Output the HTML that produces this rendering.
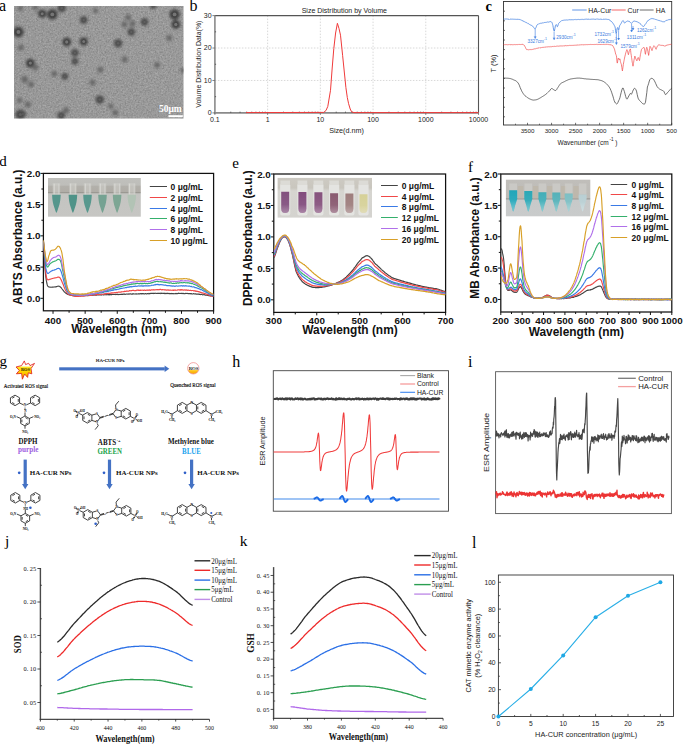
<!DOCTYPE html><html><head><meta charset="utf-8"><style>html,body{margin:0;padding:0;background:#fff;width:685px;height:744px;overflow:hidden}svg{display:block}</style></head><body>
<svg width="685" height="744" viewBox="0 0 685 744">
<rect x="0" y="0" width="685" height="744" fill="#fff" stroke="none" stroke-width="1"/>
<text x="-1" y="11" font-family='"Liberation Serif", serif' font-size="16" font-weight="normal" text-anchor="start" fill="#000">a</text>
<defs><filter id="noiseA" x="0" y="0" width="100%" height="100%" color-interpolation-filters="sRGB"><feTurbulence type="fractalNoise" baseFrequency="0.6" numOctaves="2" seed="3" result="n"/><feColorMatrix type="matrix" values="0 0 0 0 0.45  0 0 0 0 0.45  0 0 0 0 0.45  1.3 0 0 0 -0.52" result="nn"/><feGaussianBlur stdDeviation="0.35"/><feComposite in2="SourceGraphic" operator="in"/></filter><filter id="noiseB" x="0" y="0" width="100%" height="100%" color-interpolation-filters="sRGB"><feTurbulence type="fractalNoise" baseFrequency="0.6" numOctaves="2" seed="11" result="n"/><feColorMatrix type="matrix" values="0 0 0 0 0.78  0 0 0 0 0.78  0 0 0 0 0.78  1.0 0 0 0 -0.45" result="nn"/><feGaussianBlur stdDeviation="0.35"/><feComposite in2="SourceGraphic" operator="in"/></filter><filter id="pb1" x="-1" y="-1" width="3" height="3"><feGaussianBlur stdDeviation="1.4"/></filter><filter id="pb2" x="-1" y="-1" width="3" height="3"><feGaussianBlur stdDeviation="0.55"/></filter><clipPath id="clipA"><rect x="14" y="6" width="169.5" height="112.5"/></clipPath></defs>
<defs><linearGradient id="bgA" x1="0" y1="0" x2="1" y2="0"><stop offset="0" stop-color="#9a9a9a"/><stop offset="0.5" stop-color="#9b9b9b"/><stop offset="1" stop-color="#9c9c9c"/></linearGradient></defs>
<rect x="14" y="6" width="169.5" height="112.5" fill="url(#bgA)" stroke="none" stroke-width="1"/>
<g clip-path="url(#clipA)">
<rect x="14" y="6" width="169.5" height="112.5" fill="#9b9b9b" stroke="none" stroke-width="1" filter="url(#noiseA)"/>
<rect x="14" y="6" width="169.5" height="112.5" fill="#9b9b9b" stroke="none" stroke-width="1" filter="url(#noiseB)"/>
<g filter="url(#pb1)">
<circle cx="42.2" cy="13.8" r="4" fill="#3e3e3e"/>
<circle cx="52.3" cy="14.4" r="5.2" fill="#3e3e3e"/>
<circle cx="61.7" cy="8" r="4.12" fill="#4a4a4a"/>
<circle cx="83.7" cy="20.1" r="3.75" fill="#4a4a4a"/>
<circle cx="95.6" cy="10.6" r="2.62" fill="#676767"/>
<circle cx="18.4" cy="32" r="5.2" fill="#3e3e3e"/>
<circle cx="66.7" cy="42" r="4.4" fill="#3e3e3e"/>
<circle cx="83.7" cy="41.4" r="4" fill="#3e3e3e"/>
<circle cx="74.9" cy="52.7" r="3.75" fill="#4a4a4a"/>
<circle cx="20.9" cy="47.7" r="3" fill="#676767"/>
<circle cx="30.3" cy="63.1" r="4.4" fill="#3e3e3e"/>
<circle cx="35.3" cy="67.5" r="3" fill="#676767"/>
<circle cx="20.3" cy="8.1" r="2.62" fill="#676767"/>
<circle cx="35.3" cy="7.5" r="2.62" fill="#676767"/>
<circle cx="74.9" cy="61.3" r="3.38" fill="#4a4a4a"/>
<circle cx="54.2" cy="73.8" r="3" fill="#676767"/>
<circle cx="64.8" cy="76.3" r="3.38" fill="#4a4a4a"/>
<circle cx="24.7" cy="79.5" r="3.38" fill="#676767"/>
<circle cx="31" cy="84.5" r="3" fill="#676767"/>
<circle cx="92.5" cy="82.6" r="3" fill="#676767"/>
<circle cx="100.4" cy="69.8" r="3" fill="#676767"/>
<circle cx="99.8" cy="99.6" r="4.12" fill="#4a4a4a"/>
<circle cx="19.6" cy="100.2" r="2.62" fill="#676767"/>
<circle cx="27.8" cy="104.6" r="3" fill="#676767"/>
<circle cx="20.3" cy="114.5" r="4.88" fill="#4a4a4a"/>
<circle cx="66.1" cy="110.2" r="3" fill="#676767"/>
<circle cx="61.1" cy="115.5" r="3.75" fill="#4a4a4a"/>
<circle cx="128.1" cy="17.6" r="3" fill="#676767"/>
<circle cx="124.4" cy="24.5" r="3" fill="#676767"/>
<circle cx="132.5" cy="23.8" r="3" fill="#676767"/>
<circle cx="144.5" cy="22" r="3.75" fill="#4a4a4a"/>
<circle cx="131.3" cy="32" r="3.75" fill="#4a4a4a"/>
<circle cx="153.2" cy="6" r="3" fill="#4a4a4a"/>
<circle cx="174.6" cy="14.4" r="5.2" fill="#3e3e3e"/>
<circle cx="175.8" cy="24.5" r="4.4" fill="#3e3e3e"/>
<circle cx="169.3" cy="37.9" r="3" fill="#676767"/>
<circle cx="118.1" cy="43.3" r="4.12" fill="#4a4a4a"/>
<circle cx="124.6" cy="59.5" r="3" fill="#676767"/>
<circle cx="157.1" cy="65.1" r="3" fill="#676767"/>
<circle cx="110.8" cy="106.2" r="2.62" fill="#676767"/>
<circle cx="115.3" cy="112.7" r="3" fill="#676767"/>
<circle cx="183" cy="70.3" r="2.62" fill="#676767"/>
<circle cx="23" cy="114" r="3" fill="#4a4a4a"/>
</g><g filter="url(#pb2)">
<circle cx="42.2" cy="13.8" r="1.5" fill="#747474"/>
<circle cx="52.3" cy="14.4" r="1.95" fill="#747474"/>
<circle cx="61.7" cy="8" r="1.38" fill="#5e5e5e"/>
<circle cx="83.7" cy="20.1" r="1.25" fill="#5e5e5e"/>
<circle cx="18.4" cy="32" r="1.95" fill="#747474"/>
<circle cx="66.7" cy="42" r="1.65" fill="#747474"/>
<circle cx="83.7" cy="41.4" r="1.5" fill="#747474"/>
<circle cx="74.9" cy="52.7" r="1.25" fill="#5e5e5e"/>
<circle cx="30.3" cy="63.1" r="1.65" fill="#747474"/>
<circle cx="74.9" cy="61.3" r="1.12" fill="#5e5e5e"/>
<circle cx="64.8" cy="76.3" r="1.12" fill="#5e5e5e"/>
<circle cx="99.8" cy="99.6" r="1.38" fill="#5e5e5e"/>
<circle cx="20.3" cy="114.5" r="1.62" fill="#5e5e5e"/>
<circle cx="61.1" cy="115.5" r="1.25" fill="#5e5e5e"/>
<circle cx="144.5" cy="22" r="1.25" fill="#5e5e5e"/>
<circle cx="131.3" cy="32" r="1.25" fill="#5e5e5e"/>
<circle cx="153.2" cy="6" r="1" fill="#5e5e5e"/>
<circle cx="174.6" cy="14.4" r="1.95" fill="#747474"/>
<circle cx="175.8" cy="24.5" r="1.65" fill="#747474"/>
<circle cx="118.1" cy="43.3" r="1.38" fill="#5e5e5e"/>
<circle cx="23" cy="114" r="1" fill="#5e5e5e"/>
</g>
</g>
<text x="170.3" y="112" font-family='"Liberation Serif", serif' font-size="9.5" font-weight="bold" text-anchor="middle" fill="#fff">50μm</text>
<rect x="168.4" y="115.2" width="14.4" height="2" fill="#fff" stroke="none" stroke-width="1"/>
<text x="189.4" y="11.1" font-family='"Liberation Serif", serif' font-size="16" font-weight="normal" text-anchor="start" fill="#000">b</text>
<line x1="267.62" y1="15.6" x2="267.62" y2="112.9" stroke="#c8c8c8" stroke-width="0.7" stroke-dasharray="1.5 1.5"/>
<line x1="320.34" y1="15.6" x2="320.34" y2="112.9" stroke="#c8c8c8" stroke-width="0.7" stroke-dasharray="1.5 1.5"/>
<line x1="373.06" y1="15.6" x2="373.06" y2="112.9" stroke="#c8c8c8" stroke-width="0.7" stroke-dasharray="1.5 1.5"/>
<line x1="425.78" y1="15.6" x2="425.78" y2="112.9" stroke="#c8c8c8" stroke-width="0.7" stroke-dasharray="1.5 1.5"/>
<line x1="214.9" y1="80.47" x2="478.5" y2="80.47" stroke="#c8c8c8" stroke-width="0.7" stroke-dasharray="1.5 1.5"/>
<line x1="214.9" y1="48.03" x2="478.5" y2="48.03" stroke="#c8c8c8" stroke-width="0.7" stroke-dasharray="1.5 1.5"/>
<line x1="214.9" y1="15.6" x2="478.5" y2="15.6" stroke="#555" stroke-width="1.1"/>
<line x1="478.5" y1="15.6" x2="478.5" y2="112.9" stroke="#555" stroke-width="1.1"/>
<line x1="214.9" y1="15.6" x2="214.9" y2="113.5" stroke="#8a8a8a" stroke-width="1.6"/>
<line x1="214.1" y1="112.9" x2="478.5" y2="112.9" stroke="#8a8a8a" stroke-width="1.6"/>
<line x1="212.4" y1="112.9" x2="214.9" y2="112.9" stroke="#666" stroke-width="0.8"/>
<line x1="212.4" y1="80.47" x2="214.9" y2="80.47" stroke="#666" stroke-width="0.8"/>
<line x1="212.4" y1="48.03" x2="214.9" y2="48.03" stroke="#666" stroke-width="0.8"/>
<line x1="212.4" y1="15.6" x2="214.9" y2="15.6" stroke="#666" stroke-width="0.8"/>
<line x1="214.9" y1="96.68" x2="216.1" y2="96.68" stroke="#444" stroke-width="0.8"/>
<line x1="214.9" y1="64.25" x2="216.1" y2="64.25" stroke="#444" stroke-width="0.8"/>
<line x1="214.9" y1="31.82" x2="216.1" y2="31.82" stroke="#444" stroke-width="0.8"/>
<line x1="230.77" y1="111.6" x2="230.77" y2="112.9" stroke="#444" stroke-width="0.7"/>
<line x1="240.05" y1="111.6" x2="240.05" y2="112.9" stroke="#444" stroke-width="0.7"/>
<line x1="246.64" y1="111.6" x2="246.64" y2="112.9" stroke="#444" stroke-width="0.7"/>
<line x1="251.75" y1="111.6" x2="251.75" y2="112.9" stroke="#444" stroke-width="0.7"/>
<line x1="255.92" y1="111.6" x2="255.92" y2="112.9" stroke="#444" stroke-width="0.7"/>
<line x1="259.45" y1="111.6" x2="259.45" y2="112.9" stroke="#444" stroke-width="0.7"/>
<line x1="262.51" y1="111.6" x2="262.51" y2="112.9" stroke="#444" stroke-width="0.7"/>
<line x1="265.21" y1="111.6" x2="265.21" y2="112.9" stroke="#444" stroke-width="0.7"/>
<line x1="283.49" y1="111.6" x2="283.49" y2="112.9" stroke="#444" stroke-width="0.7"/>
<line x1="292.77" y1="111.6" x2="292.77" y2="112.9" stroke="#444" stroke-width="0.7"/>
<line x1="299.36" y1="111.6" x2="299.36" y2="112.9" stroke="#444" stroke-width="0.7"/>
<line x1="304.47" y1="111.6" x2="304.47" y2="112.9" stroke="#444" stroke-width="0.7"/>
<line x1="308.64" y1="111.6" x2="308.64" y2="112.9" stroke="#444" stroke-width="0.7"/>
<line x1="312.17" y1="111.6" x2="312.17" y2="112.9" stroke="#444" stroke-width="0.7"/>
<line x1="315.23" y1="111.6" x2="315.23" y2="112.9" stroke="#444" stroke-width="0.7"/>
<line x1="317.93" y1="111.6" x2="317.93" y2="112.9" stroke="#444" stroke-width="0.7"/>
<line x1="336.21" y1="111.6" x2="336.21" y2="112.9" stroke="#444" stroke-width="0.7"/>
<line x1="345.49" y1="111.6" x2="345.49" y2="112.9" stroke="#444" stroke-width="0.7"/>
<line x1="352.08" y1="111.6" x2="352.08" y2="112.9" stroke="#444" stroke-width="0.7"/>
<line x1="357.19" y1="111.6" x2="357.19" y2="112.9" stroke="#444" stroke-width="0.7"/>
<line x1="361.36" y1="111.6" x2="361.36" y2="112.9" stroke="#444" stroke-width="0.7"/>
<line x1="364.89" y1="111.6" x2="364.89" y2="112.9" stroke="#444" stroke-width="0.7"/>
<line x1="367.95" y1="111.6" x2="367.95" y2="112.9" stroke="#444" stroke-width="0.7"/>
<line x1="370.65" y1="111.6" x2="370.65" y2="112.9" stroke="#444" stroke-width="0.7"/>
<line x1="388.93" y1="111.6" x2="388.93" y2="112.9" stroke="#444" stroke-width="0.7"/>
<line x1="398.21" y1="111.6" x2="398.21" y2="112.9" stroke="#444" stroke-width="0.7"/>
<line x1="404.8" y1="111.6" x2="404.8" y2="112.9" stroke="#444" stroke-width="0.7"/>
<line x1="409.91" y1="111.6" x2="409.91" y2="112.9" stroke="#444" stroke-width="0.7"/>
<line x1="414.08" y1="111.6" x2="414.08" y2="112.9" stroke="#444" stroke-width="0.7"/>
<line x1="417.61" y1="111.6" x2="417.61" y2="112.9" stroke="#444" stroke-width="0.7"/>
<line x1="420.67" y1="111.6" x2="420.67" y2="112.9" stroke="#444" stroke-width="0.7"/>
<line x1="423.37" y1="111.6" x2="423.37" y2="112.9" stroke="#444" stroke-width="0.7"/>
<line x1="441.65" y1="111.6" x2="441.65" y2="112.9" stroke="#444" stroke-width="0.7"/>
<line x1="450.93" y1="111.6" x2="450.93" y2="112.9" stroke="#444" stroke-width="0.7"/>
<line x1="457.52" y1="111.6" x2="457.52" y2="112.9" stroke="#444" stroke-width="0.7"/>
<line x1="462.63" y1="111.6" x2="462.63" y2="112.9" stroke="#444" stroke-width="0.7"/>
<line x1="466.8" y1="111.6" x2="466.8" y2="112.9" stroke="#444" stroke-width="0.7"/>
<line x1="470.33" y1="111.6" x2="470.33" y2="112.9" stroke="#444" stroke-width="0.7"/>
<line x1="473.39" y1="111.6" x2="473.39" y2="112.9" stroke="#444" stroke-width="0.7"/>
<line x1="476.09" y1="111.6" x2="476.09" y2="112.9" stroke="#444" stroke-width="0.7"/>
<line x1="214.9" y1="112.9" x2="214.9" y2="114.9" stroke="#666" stroke-width="0.8"/>
<line x1="267.62" y1="112.9" x2="267.62" y2="114.9" stroke="#666" stroke-width="0.8"/>
<line x1="320.34" y1="112.9" x2="320.34" y2="114.9" stroke="#666" stroke-width="0.8"/>
<line x1="373.06" y1="112.9" x2="373.06" y2="114.9" stroke="#666" stroke-width="0.8"/>
<line x1="425.78" y1="112.9" x2="425.78" y2="114.9" stroke="#666" stroke-width="0.8"/>
<line x1="478.5" y1="112.9" x2="478.5" y2="114.9" stroke="#666" stroke-width="0.8"/>
<text x="211.6" y="115.3" font-family='"Liberation Sans", sans-serif' font-size="7" font-weight="normal" text-anchor="end" fill="#222">0</text>
<text x="211.6" y="82.87" font-family='"Liberation Sans", sans-serif' font-size="7" font-weight="normal" text-anchor="end" fill="#222">10</text>
<text x="211.6" y="50.43" font-family='"Liberation Sans", sans-serif' font-size="7" font-weight="normal" text-anchor="end" fill="#222">20</text>
<text x="211.6" y="18" font-family='"Liberation Sans", sans-serif' font-size="7" font-weight="normal" text-anchor="end" fill="#222">30</text>
<text x="214.9" y="122.3" font-family='"Liberation Sans", sans-serif' font-size="7" font-weight="normal" text-anchor="middle" fill="#222">0.1</text>
<text x="267.62" y="122.3" font-family='"Liberation Sans", sans-serif' font-size="7" font-weight="normal" text-anchor="middle" fill="#222">1</text>
<text x="320.34" y="122.3" font-family='"Liberation Sans", sans-serif' font-size="7" font-weight="normal" text-anchor="middle" fill="#222">10</text>
<text x="373.06" y="122.3" font-family='"Liberation Sans", sans-serif' font-size="7" font-weight="normal" text-anchor="middle" fill="#222">100</text>
<text x="425.78" y="122.3" font-family='"Liberation Sans", sans-serif' font-size="7" font-weight="normal" text-anchor="middle" fill="#222">1000</text>
<text x="478.5" y="122.3" font-family='"Liberation Sans", sans-serif' font-size="7" font-weight="normal" text-anchor="middle" fill="#222">10000</text>
<text x="346.5" y="133" font-family='"Liberation Sans", sans-serif' font-size="7.2" font-weight="normal" text-anchor="middle" fill="#222">Size(d.nm)</text>
<text x="344.3" y="13" font-family='"Liberation Sans", sans-serif' font-size="7" font-weight="normal" text-anchor="middle" fill="#222">Size Distribution by Volume</text>
<text x="200.8" y="64.2" font-family='"Liberation Sans", sans-serif' font-size="6.95" font-weight="normal" text-anchor="middle" fill="#222" transform="rotate(-90 200.8 64.2)">Volume Distribution Data(%)</text>
<path d="M246,112.6 323.7,112.4 326,110.5 327.8,106.4 330.5,90.3 332.2,68 333.8,48.6 335.6,33 337.4,23.3 339,28.5 340.5,35.2 342.6,55.3 344.3,72 345.9,87.6 347.3,97.5 348.6,103.7 350.2,109 351.6,111.8 354,112.6 478.5,112.6" stroke="#f03a3a" stroke-width="1" fill="none" stroke-linejoin="round"/>
<text x="485.6" y="11" font-family='"Liberation Serif", serif' font-size="14.5" font-weight="bold" text-anchor="start" fill="#000">c</text>
<rect x="503.5" y="1.5" width="168.2" height="123.5" fill="none" stroke="#333" stroke-width="0.9"/>
<line x1="503.5" y1="11.2" x2="505" y2="11.2" stroke="#333" stroke-width="0.7"/>
<line x1="503.5" y1="20.8" x2="505" y2="20.8" stroke="#333" stroke-width="0.7"/>
<line x1="503.5" y1="30.4" x2="505" y2="30.4" stroke="#333" stroke-width="0.7"/>
<line x1="503.5" y1="40" x2="505" y2="40" stroke="#333" stroke-width="0.7"/>
<line x1="503.5" y1="49.6" x2="505" y2="49.6" stroke="#333" stroke-width="0.7"/>
<line x1="503.5" y1="59.2" x2="505" y2="59.2" stroke="#333" stroke-width="0.7"/>
<line x1="503.5" y1="68.8" x2="505" y2="68.8" stroke="#333" stroke-width="0.7"/>
<line x1="503.5" y1="78.4" x2="505" y2="78.4" stroke="#333" stroke-width="0.7"/>
<line x1="503.5" y1="88" x2="505" y2="88" stroke="#333" stroke-width="0.7"/>
<line x1="503.5" y1="97.6" x2="505" y2="97.6" stroke="#333" stroke-width="0.7"/>
<line x1="503.5" y1="107.2" x2="505" y2="107.2" stroke="#333" stroke-width="0.7"/>
<line x1="503.5" y1="116.8" x2="505" y2="116.8" stroke="#333" stroke-width="0.7"/>
<line x1="515.51" y1="125" x2="515.51" y2="123.7" stroke="#333" stroke-width="0.7"/>
<line x1="527.53" y1="125" x2="527.53" y2="122.8" stroke="#333" stroke-width="0.7"/>
<line x1="539.54" y1="125" x2="539.54" y2="123.7" stroke="#333" stroke-width="0.7"/>
<line x1="551.56" y1="125" x2="551.56" y2="122.8" stroke="#333" stroke-width="0.7"/>
<line x1="563.57" y1="125" x2="563.57" y2="123.7" stroke="#333" stroke-width="0.7"/>
<line x1="575.59" y1="125" x2="575.59" y2="122.8" stroke="#333" stroke-width="0.7"/>
<line x1="587.6" y1="125" x2="587.6" y2="123.7" stroke="#333" stroke-width="0.7"/>
<line x1="599.61" y1="125" x2="599.61" y2="122.8" stroke="#333" stroke-width="0.7"/>
<line x1="611.63" y1="125" x2="611.63" y2="123.7" stroke="#333" stroke-width="0.7"/>
<line x1="623.64" y1="125" x2="623.64" y2="122.8" stroke="#333" stroke-width="0.7"/>
<line x1="635.66" y1="125" x2="635.66" y2="123.7" stroke="#333" stroke-width="0.7"/>
<line x1="647.67" y1="125" x2="647.67" y2="122.8" stroke="#333" stroke-width="0.7"/>
<line x1="659.69" y1="125" x2="659.69" y2="123.7" stroke="#333" stroke-width="0.7"/>
<line x1="671.7" y1="125" x2="671.7" y2="122.8" stroke="#333" stroke-width="0.7"/>
<text x="527.53" y="133.2" font-family='"Liberation Sans", sans-serif' font-size="6.2" font-weight="normal" text-anchor="middle" fill="#222">3500</text>
<text x="551.56" y="133.2" font-family='"Liberation Sans", sans-serif' font-size="6.2" font-weight="normal" text-anchor="middle" fill="#222">3000</text>
<text x="575.59" y="133.2" font-family='"Liberation Sans", sans-serif' font-size="6.2" font-weight="normal" text-anchor="middle" fill="#222">2500</text>
<text x="599.61" y="133.2" font-family='"Liberation Sans", sans-serif' font-size="6.2" font-weight="normal" text-anchor="middle" fill="#222">2000</text>
<text x="623.64" y="133.2" font-family='"Liberation Sans", sans-serif' font-size="6.2" font-weight="normal" text-anchor="middle" fill="#222">1500</text>
<text x="647.67" y="133.2" font-family='"Liberation Sans", sans-serif' font-size="6.2" font-weight="normal" text-anchor="middle" fill="#222">1000</text>
<text x="671.7" y="133.2" font-family='"Liberation Sans", sans-serif' font-size="6.2" font-weight="normal" text-anchor="middle" fill="#222">500</text>
<text x="557.6" y="144.6" font-family='"Liberation Sans", sans-serif' font-size="6.5" font-weight="normal" text-anchor="start" fill="#222">Wavenumber (cm</text>
<text x="609.4" y="141.2" font-family='"Liberation Sans", sans-serif' font-size="4.7" font-weight="normal" text-anchor="start" fill="#222">-1</text>
<text x="615.2" y="144.6" font-family='"Liberation Sans", sans-serif' font-size="6.5" font-weight="normal" text-anchor="start" fill="#222">)</text>
<text x="496" y="63.5" font-family='"Liberation Sans", sans-serif' font-size="7.4" font-weight="normal" text-anchor="middle" fill="#222" transform="rotate(-90 496 63.5)">T (%)</text>
<line x1="572.2" y1="10" x2="586.7" y2="10" stroke="#3a7be0" stroke-width="0.8"/>
<text x="588.3" y="12.5" font-family='"Liberation Sans", sans-serif' font-size="6.9" font-weight="normal" text-anchor="start" fill="#222">HA-Cur</text>
<line x1="611.6" y1="10" x2="625.7" y2="10" stroke="#f04040" stroke-width="0.8"/>
<text x="627.6" y="12.5" font-family='"Liberation Sans", sans-serif' font-size="6.9" font-weight="normal" text-anchor="start" fill="#222">Cur</text>
<line x1="639.7" y1="10" x2="653.6" y2="10" stroke="#444" stroke-width="0.8"/>
<text x="655.7" y="12.5" font-family='"Liberation Sans", sans-serif' font-size="6.9" font-weight="normal" text-anchor="start" fill="#222">HA</text>
<path d="M503.5,78.1 504.1,78.1 504.8,78.1 505.4,78.1 506.1,78.1 506.7,78.2 507.3,78.2 508,78.2 508.6,78.3 509.3,78.4 509.9,78.5 510.5,78.6 511.2,78.8 511.8,79.1 512.5,79.3 513.1,79.6 513.7,79.9 514.4,80.2 515,80.5 515.7,80.7 516.3,81.2 516.9,81.7 517.6,82.3 518.2,83.1 518.8,84.2 519.5,85.7 520.1,87.4 520.8,89 521.4,90.3 522,91.6 522.7,92.7 523.3,93.7 524,94.6 524.6,95.3 525.2,95.9 525.9,96.4 526.5,97 527.2,97.4 527.8,97.8 528.4,98.2 529.1,98.6 529.7,98.9 530.4,99.2 531,99.5 531.6,99.7 532.3,99.9 532.9,100 533.6,100.1 534.2,100 534.8,100 535.5,99.9 536.1,99.8 536.8,99.6 537.4,99.4 538,99 538.7,98.8 539.3,98.4 540,98.1 540.6,97.7 541.2,97.3 541.9,96.9 542.5,96.5 543.2,96.1 543.8,95.7 544.4,95.3 545.1,94.9 545.7,94.4 546.3,93.9 547,93.3 547.6,92.7 548.3,92.1 548.9,91.5 549.5,90.9 550.2,90 550.8,89.1 551.5,88.5 552.1,88.5 552.7,89 553.4,89.5 554,89.9 554.7,90.3 555.3,90.5 555.9,90.4 556.6,89.7 557.2,88.5 557.9,87.5 558.5,86.6 559.1,85.6 559.8,84.6 560.4,83.8 561.1,83.3 561.7,82.9 562.3,82.6 563,82.3 563.6,82 564.3,81.7 564.9,81.4 565.5,81 566.2,80.7 566.8,80.4 567.5,80.1 568.1,79.8 568.7,79.6 569.4,79.4 570,79.2 570.7,79 571.3,78.9 571.9,78.8 572.6,78.7 573.2,78.6 573.8,78.5 574.5,78.4 575.1,78.3 575.8,78.3 576.4,78.2 577,78.1 577.7,78.1 578.3,78.1 579,78.1 579.6,78.1 580.2,78.2 580.9,78.3 581.5,78.3 582.2,78.4 582.8,78.5 583.4,78.6 584.1,78.7 584.7,78.8 585.4,78.8 586,78.9 586.6,79 587.3,79 587.9,79.1 588.6,79.1 589.2,79.2 589.8,79.2 590.5,79.3 591.1,79.3 591.8,79.4 592.4,79.4 593,79.5 593.7,79.5 594.3,79.5 595,79.5 595.6,79.6 596.2,79.6 596.9,79.7 597.5,79.7 598.2,79.8 598.8,79.9 599.4,80.1 600.1,80.3 600.7,80.4 601.4,80.6 602,80.8 602.6,81.1 603.3,81.4 603.9,81.8 604.5,82.2 605.2,82.7 605.8,83.2 606.5,83.8 607.1,84.4 607.7,85.1 608.4,85.9 609,86.8 609.7,87.8 610.3,88.9 610.9,90.4 611.6,92.2 612.2,94.1 612.9,96.1 613.5,98.3 614.1,100.4 614.8,102 615.4,103 616.1,103.6 616.7,104 617.3,103.6 618,102.3 618.6,100.8 619.3,99.5 619.9,97.8 620.5,95.2 621.2,92.4 621.8,90.1 622.5,88.2 623.1,88 623.7,89.6 624.4,91.6 625,93.9 625.7,96.5 626.3,98.4 626.9,99.2 627.6,98.5 628.2,97.1 628.9,95.9 629.5,94.6 630.1,93.6 630.8,93.7 631.4,94.3 632,93.1 632.7,91.3 633.3,89.9 634,88.8 634.6,88.2 635.2,88.6 635.9,89.7 636.5,91.1 637.2,94.4 637.8,97.1 638.4,98.9 639.1,99.9 639.7,100.6 640.4,101.3 641,102 641.6,102.6 642.3,103.3 642.9,103.8 643.6,104 644.2,104.2 644.8,103.8 645.5,102.2 646.1,97.8 646.8,92.5 647.4,87 648,85.4 648.7,83.3 649.3,81 650,79.4 650.6,78.7 651.2,78.4 651.9,78.4 652.5,78.6 653.2,79 653.8,79.7 654.4,80.8 655.1,82.1 655.7,83.5 656.4,85 657,86.4 657.6,87.3 658.3,88 658.9,88.5 659.5,89 660.2,89.4 660.8,89.7 661.5,90 662.1,90.3 662.7,90.6 663.4,90.9 664,91.6 664.7,93.3 665.3,94.5 665.9,94.5 666.6,93.9 667.2,92.9 667.9,92.2 668.5,91.5 669.1,90.8 669.8,90 670.4,89.3 671.1,88.6 671.7,88.2" stroke="#333" stroke-width="0.7" fill="none" stroke-linejoin="round"/>
<path d="M503.5,19 503.8,19 504.1,19.1 504.3,19 504.6,19.1 504.9,19.1 505.2,19 505.5,19.1 505.7,19 506,19.1 506.3,19 506.6,19 506.9,19.1 507.2,19.2 507.4,19 507.7,19.1 508,19.2 508.3,19.3 508.6,19.2 508.8,19.1 509.1,19.3 509.4,19 509.7,19.3 510,19.1 510.2,19.1 510.5,19.1 510.8,19.2 511.1,19.3 511.4,19.1 511.6,19.2 511.9,19.3 512.2,19.2 512.5,19.2 512.8,19.1 513,19.1 513.3,19.1 513.6,19.3 513.9,19.2 514.2,19.2 514.5,19.3 514.7,19.2 515,19.2 515.3,19.3 515.6,19.3 515.9,19.2 516.1,19.3 516.4,19.3 516.7,19.4 517,19.4 517.3,19.2 517.5,19.5 517.8,19.2 518.1,19.3 518.4,19.4 518.7,19.3 518.9,19.4 519.2,19.3 519.5,19.5 519.8,19.6 520.1,19.6 520.3,19.8 520.6,19.8 520.9,20 521.2,20.1 521.5,20.2 521.8,20.3 522,20.6 522.3,20.7 522.6,20.7 522.9,20.9 523.2,20.9 523.4,21.3 523.7,21.4 524,21.6 524.3,21.7 524.6,21.7 524.8,21.9 525.1,22.1 525.4,22 525.7,22.3 526,22.3 526.2,22.5 526.5,22.6 526.8,23 527.1,22.9 527.4,23.1 527.6,23.3 527.9,23.6 528.2,23.5 528.5,23.7 528.8,23.9 529.1,24.1 529.3,24.3 529.6,24.5 529.9,24.5 530.2,24.7 530.5,24.9 530.7,25.2 531,25.4 531.3,25.3 531.6,25.5 531.9,25.7 532.1,25.9 532.4,26.1 532.7,26.3 533,26.4 533.3,26.7 533.5,27.2 533.8,27.6 534.1,28.1 534.4,28.5 534.7,28.7 534.9,28.8 535.2,28.8 535.5,28.5 535.8,27.8 536.1,27.3 536.4,26.5 536.6,25.8 536.9,25.2 537.2,24.8 537.5,24.6 537.8,24.3 538,24.3 538.3,24 538.6,23.9 538.9,23.8 539.2,23.7 539.4,23.7 539.7,23.5 540,23.3 540.3,23.3 540.6,23.2 540.8,23.3 541.1,23.1 541.4,23.3 541.7,23.1 542,22.9 542.3,22.9 542.5,22.9 542.8,22.8 543.1,22.7 543.4,22.9 543.7,22.9 543.9,22.7 544.2,22.6 544.5,22.5 544.8,22.4 545.1,22.4 545.3,22.4 545.6,22.5 545.9,22.2 546.2,22.1 546.5,22.4 546.7,22.2 547,22 547.3,22.1 547.6,21.9 547.9,22 548.1,22.1 548.4,22.1 548.7,22 549,21.8 549.3,21.8 549.6,21.7 549.8,21.8 550.1,21.6 550.4,21.7 550.7,21.5 551,21.5 551.2,21.8 551.5,22 551.8,22.3 552.1,22.9 552.4,23.6 552.6,24.5 552.9,25.4 553.2,27.2 553.5,29 553.8,30.4 554,31.3 554.3,31.1 554.6,30 554.9,28.5 555.2,27 555.4,25.8 555.7,25.1 556,24.7 556.3,24.6 556.6,24.9 556.9,25.7 557.1,26.5 557.4,26.7 557.7,26.2 558,25.4 558.3,24.4 558.5,23.6 558.8,23.2 559.1,23 559.4,22.7 559.7,22.2 559.9,22.1 560.2,21.9 560.5,21.6 560.8,21.4 561.1,21.1 561.3,20.8 561.6,20.8 561.9,20.5 562.2,20.5 562.5,20.5 562.7,20.3 563,20.2 563.3,20.3 563.6,20.2 563.9,20 564.2,20 564.4,20 564.7,20.2 565,20.2 565.3,20 565.6,20.1 565.8,20.2 566.1,20 566.4,19.9 566.7,20 567,19.8 567.2,19.8 567.5,20.1 567.8,20 568.1,19.9 568.4,20 568.6,19.8 568.9,20 569.2,19.9 569.5,19.7 569.8,19.7 570,19.7 570.3,19.7 570.6,19.8 570.9,19.7 571.2,19.7 571.5,19.6 571.7,19.9 572,19.7 572.3,19.7 572.6,19.7 572.9,19.8 573.1,19.7 573.4,19.8 573.7,19.7 574,19.7 574.3,19.6 574.5,19.5 574.8,19.6 575.1,19.5 575.4,19.4 575.7,19.7 575.9,19.5 576.2,19.6 576.5,19.6 576.8,19.6 577.1,19.5 577.4,19.5 577.6,19.5 577.9,19.6 578.2,19.4 578.5,19.5 578.8,19.4 579,19.4 579.3,19.6 579.6,19.5 579.9,19.5 580.2,19.5 580.4,19.6 580.7,19.4 581,19.5 581.3,19.4 581.6,19.4 581.8,19.5 582.1,19.4 582.4,19.4 582.7,19.4 583,19.5 583.2,19.4 583.5,19.5 583.8,19.5 584.1,19.3 584.4,19.3 584.7,19.4 584.9,19.4 585.2,19.2 585.5,19.2 585.8,19.3 586.1,19.1 586.3,19.2 586.6,19.1 586.9,19.3 587.2,19.3 587.5,19.4 587.7,19.1 588,19.3 588.3,19.3 588.6,19.1 588.9,19.3 589.1,19.4 589.4,19.1 589.7,19.3 590,19.2 590.3,19.2 590.5,19.3 590.8,19.3 591.1,19.1 591.4,19.2 591.7,19.2 592,19.1 592.2,19.1 592.5,19.1 592.8,19.2 593.1,19 593.4,19.2 593.6,19.1 593.9,19 594.2,19.1 594.5,19.2 594.8,19.2 595,19 595.3,19.3 595.6,19.2 595.9,19.3 596.2,19 596.4,19.1 596.7,19 597,19.2 597.3,19.1 597.6,19.1 597.8,19.1 598.1,19.3 598.4,19.3 598.7,19.1 599,19.1 599.3,19.3 599.5,19.2 599.8,19.3 600.1,19.1 600.4,19.1 600.7,19.3 600.9,19.2 601.2,19.1 601.5,19.4 601.8,19.3 602.1,19.3 602.3,19.1 602.6,19.4 602.9,19.1 603.2,19.4 603.5,19.2 603.7,19.2 604,19.3 604.3,19.4 604.6,19.2 604.9,19.2 605.2,19.3 605.4,19.2 605.7,19.2 606,19.3 606.3,19.2 606.6,19.3 606.8,19.4 607.1,19.4 607.4,19.5 607.7,19.4 608,19.5 608.2,19.5 608.5,19.5 608.8,19.5 609.1,19.7 609.4,19.8 609.6,20.2 609.9,20.3 610.2,20.4 610.5,20.7 610.8,21.1 611,21 611.3,21.5 611.6,21.6 611.9,21.9 612.2,22.4 612.5,22.6 612.7,23 613,23.4 613.3,23.9 613.6,24.1 613.9,24.7 614.1,25.1 614.4,25.6 614.7,26.1 615,26.9 615.3,28.3 615.5,30.3 615.8,32.2 616.1,33.7 616.4,33.4 616.7,31.3 616.9,29.1 617.2,28.3 617.5,27.7 617.8,27.5 618.1,28.4 618.3,29.9 618.6,30.4 618.9,29.4 619.2,27.6 619.5,26.1 619.8,25.4 620,25.1 620.3,24.7 620.6,24.2 620.9,23.6 621.2,23.4 621.4,22.8 621.7,22.3 622,21.7 622.3,21.3 622.6,21 622.8,20.7 623.1,20.5 623.4,20.9 623.7,21.4 624,22.3 624.2,22.8 624.5,23.1 624.8,22.9 625.1,22.6 625.4,22.4 625.6,22 625.9,21.9 626.2,21.7 626.5,21.6 626.8,21.4 627.1,21.3 627.3,21.2 627.6,21 627.9,20.9 628.2,21.2 628.5,21 628.7,21.3 629,21.4 629.3,21.4 629.6,21.8 629.9,22 630.1,22.2 630.4,22.5 630.7,22.8 631,22.9 631.3,23.2 631.5,23.3 631.8,23.3 632.1,22.9 632.4,22.4 632.7,21.9 632.9,21.7 633.2,21.4 633.5,21.3 633.8,21.1 634.1,21 634.4,21.1 634.6,21.1 634.9,21.1 635.2,21.3 635.5,21.3 635.8,21.4 636,21.4 636.3,21.5 636.6,21.6 636.9,21.5 637.2,21.9 637.4,22 637.7,22.1 638,22.2 638.3,22.4 638.6,22.4 638.8,22.8 639.1,22.8 639.4,23 639.7,23.2 640,23.5 640.3,23.6 640.5,24.1 640.8,24.5 641.1,24.6 641.4,24.9 641.7,25.2 641.9,25.5 642.2,25.8 642.5,26.1 642.8,26.3 643.1,26.4 643.3,26.4 643.6,26.4 643.9,26.3 644.2,25.9 644.5,25.6 644.7,25 645,24.6 645.3,24.2 645.6,23.9 645.9,23.6 646.1,23.2 646.4,22.6 646.7,22.3 647,21.8 647.3,21.4 647.6,20.9 647.8,20.8 648.1,20.3 648.4,20.4 648.7,20.2 649,19.7 649.2,19.7 649.5,19.6 649.8,19.5 650.1,19.2 650.4,19 650.6,18.9 650.9,19 651.2,18.7 651.5,18.7 651.8,18.5 652,18.6 652.3,18.7 652.6,18.5 652.9,18.7 653.2,18.7 653.4,18.9 653.7,18.9 654,18.8 654.3,19.1 654.6,19.1 654.9,19.1 655.1,19.2 655.4,19.4 655.7,19.5 656,19.5 656.3,19.6 656.5,19.7 656.8,19.8 657.1,20 657.4,19.9 657.7,20.2 657.9,20.3 658.2,20.2 658.5,20.5 658.8,20.5 659.1,20.6 659.3,20.5 659.6,20.7 659.9,20.7 660.2,21 660.5,21 660.7,21 661,21.1 661.3,21.2 661.6,21.2 661.9,21.3 662.2,21.6 662.4,21.6 662.7,21.8 663,21.7 663.3,21.7 663.6,21.8 663.8,21.7 664.1,21.7 664.4,21.7 664.7,21.6 665,21.3 665.2,21.1 665.5,20.9 665.8,20.8 666.1,20.5 666.4,20.5 666.6,20.2 666.9,20.3 667.2,20.2 667.5,20.2 667.8,20.1 668,19.9 668.3,19.8 668.6,20 668.9,19.6 669.2,19.7 669.5,19.6 669.7,19.5 670,19.6 670.3,19.6 670.6,19.3 670.9,19.4 671.1,19.2 671.4,19.3 671.7,19.2" stroke="#3a7be0" stroke-width="0.75" fill="none" stroke-linejoin="round"/>
<path d="M503.5,44.6 503.7,44.6 504,44.6 504.2,44.8 504.5,44.7 504.7,44.6 504.9,44.8 505.2,44.8 505.4,44.7 505.7,44.6 505.9,44.6 506.1,44.6 506.4,44.6 506.6,44.6 506.9,44.6 507.1,44.6 507.4,44.7 507.6,44.8 507.8,44.7 508.1,44.6 508.3,44.6 508.6,44.7 508.8,44.6 509,44.6 509.3,44.5 509.5,44.6 509.8,44.8 510,44.6 510.2,44.6 510.5,44.7 510.7,44.7 511,44.6 511.2,44.6 511.4,44.6 511.7,44.6 511.9,44.6 512.2,44.7 512.4,44.7 512.6,44.7 512.9,44.5 513.1,44.5 513.4,44.7 513.6,44.7 513.8,44.6 514.1,44.6 514.3,44.5 514.6,44.6 514.8,44.7 515.1,44.7 515.3,44.7 515.5,44.7 515.8,44.5 516,44.5 516.3,44.5 516.5,44.6 516.7,44.6 517,44.7 517.2,44.6 517.5,44.6 517.7,44.6 517.9,44.5 518.2,44.5 518.4,44.4 518.7,44.6 518.9,44.4 519.1,44.6 519.4,44.5 519.6,44.4 519.9,44.4 520.1,44.4 520.3,44.5 520.6,44.5 520.8,44.4 521.1,44.3 521.3,44.4 521.5,44.5 521.8,44.4 522,44.4 522.3,44.4 522.5,44.3 522.8,44.4 523,44.4 523.2,44.7 523.5,44.8 523.7,45 524,45.1 524.2,45.2 524.4,45.4 524.7,46 524.9,46.5 525.2,46.9 525.4,47.3 525.6,48 525.9,48.5 526.1,49 526.4,49.4 526.6,49.5 526.8,49.6 527.1,49.5 527.3,49.5 527.6,49.7 527.8,49.7 528,49.8 528.3,49.7 528.5,49.8 528.8,49.8 529,49.7 529.2,49.6 529.5,49.8 529.7,49.6 530,49.7 530.2,49.6 530.5,49.5 530.7,49.7 530.9,49.5 531.2,49.7 531.4,49.5 531.7,49.5 531.9,49.4 532.1,49.4 532.4,49.4 532.6,49.5 532.9,49.2 533.1,49.2 533.3,49.1 533.6,49.2 533.8,49 534.1,48.9 534.3,48.8 534.5,48.9 534.8,48.9 535,48.9 535.3,48.8 535.5,48.8 535.7,48.7 536,48.5 536.2,48.4 536.5,48.5 536.7,48.4 536.9,48.2 537.2,48.3 537.4,48.2 537.7,48.2 537.9,48.1 538.2,48 538.4,48 538.6,48 538.9,48 539.1,48.1 539.4,47.8 539.6,48 539.8,47.8 540.1,47.8 540.3,47.8 540.6,47.8 540.8,47.7 541,47.5 541.3,47.6 541.5,47.5 541.8,47.6 542,47.4 542.2,47.4 542.5,47.5 542.7,47.3 543,47.4 543.2,47.4 543.4,47.4 543.7,47.2 543.9,47.2 544.2,47.1 544.4,47.3 544.6,47.1 544.9,47.2 545.1,47.2 545.4,47.1 545.6,47 545.9,47.2 546.1,47.1 546.3,46.9 546.6,47 546.8,46.9 547.1,46.9 547.3,46.8 547.5,46.9 547.8,46.9 548,46.8 548.3,46.9 548.5,46.7 548.7,46.7 549,46.7 549.2,46.8 549.5,46.8 549.7,46.7 549.9,46.6 550.2,46.7 550.4,46.7 550.7,46.7 550.9,46.5 551.1,46.7 551.4,46.7 551.6,46.7 551.9,46.6 552.1,46.6 552.3,46.5 552.6,46.5 552.8,46.5 553.1,46.6 553.3,46.4 553.6,46.4 553.8,46.5 554,46.4 554.3,46.3 554.5,46.3 554.8,46.4 555,46.3 555.2,46.5 555.5,46.4 555.7,46.4 556,46.2 556.2,46.2 556.4,46.2 556.7,46.2 556.9,46.3 557.2,46.2 557.4,46.1 557.6,46.1 557.9,46.2 558.1,46.2 558.4,46.2 558.6,46.2 558.8,46.1 559.1,46 559.3,46.1 559.6,46 559.8,46 560,46 560.3,46 560.5,45.9 560.8,45.9 561,45.9 561.3,45.9 561.5,46 561.7,45.9 562,45.9 562.2,45.9 562.5,46 562.7,45.9 562.9,45.8 563.2,45.9 563.4,45.9 563.7,45.9 563.9,45.7 564.1,45.8 564.4,45.9 564.6,45.9 564.9,45.9 565.1,45.6 565.3,45.7 565.6,45.6 565.8,45.6 566.1,45.8 566.3,45.7 566.5,45.8 566.8,45.6 567,45.7 567.3,45.6 567.5,45.6 567.7,45.7 568,45.7 568.2,45.5 568.5,45.6 568.7,45.6 569,45.5 569.2,45.5 569.4,45.4 569.7,45.4 569.9,45.4 570.2,45.5 570.4,45.5 570.6,45.4 570.9,45.3 571.1,45.4 571.4,45.5 571.6,45.3 571.8,45.3 572.1,45.3 572.3,45.4 572.6,45.4 572.8,45.2 573,45.2 573.3,45.3 573.5,45.3 573.8,45.3 574,45.2 574.2,45.2 574.5,45.3 574.7,45.2 575,45.1 575.2,45.1 575.4,45.3 575.7,45.1 575.9,45.2 576.2,45.1 576.4,45.1 576.7,45.2 576.9,45.2 577.1,45 577.4,45 577.6,45.1 577.9,45 578.1,44.9 578.3,45.1 578.6,45 578.8,45 579.1,44.9 579.3,45 579.5,44.9 579.8,44.8 580,44.8 580.3,44.9 580.5,44.9 580.7,45 581,44.7 581.2,44.9 581.5,44.8 581.7,44.8 581.9,44.7 582.2,44.7 582.4,44.8 582.7,44.8 582.9,44.6 583.1,44.7 583.4,44.8 583.6,44.8 583.9,44.6 584.1,44.6 584.4,44.7 584.6,44.7 584.8,44.6 585.1,44.5 585.3,44.7 585.6,44.6 585.8,44.7 586,44.6 586.3,44.7 586.5,44.5 586.8,44.6 587,44.5 587.2,44.5 587.5,44.7 587.7,44.6 588,44.5 588.2,44.5 588.4,44.5 588.7,44.6 588.9,44.5 589.2,44.5 589.4,44.5 589.6,44.6 589.9,44.6 590.1,44.4 590.4,44.5 590.6,44.6 590.8,44.4 591.1,44.6 591.3,44.4 591.6,44.5 591.8,44.5 592.1,44.5 592.3,44.5 592.5,44.5 592.8,44.5 593,44.5 593.3,44.5 593.5,44.5 593.7,44.5 594,44.4 594.2,44.5 594.5,44.5 594.7,44.4 594.9,44.5 595.2,44.5 595.4,44.5 595.7,44.4 595.9,44.4 596.1,44.4 596.4,44.4 596.6,44.4 596.9,44.3 597.1,44.4 597.3,44.4 597.6,44.3 597.8,44.5 598.1,44.3 598.3,44.5 598.5,44.5 598.8,44.4 599,44.3 599.3,44.4 599.5,44.4 599.8,44.5 600,44.3 600.2,44.5 600.5,44.5 600.7,44.5 601,44.5 601.2,44.3 601.4,44.5 601.7,44.4 601.9,44.5 602.2,44.5 602.4,44.3 602.6,44.5 602.9,44.5 603.1,44.3 603.4,44.4 603.6,44.5 603.8,44.3 604.1,44.5 604.3,44.3 604.6,44.5 604.8,44.3 605,44.4 605.3,44.5 605.5,44.3 605.8,44.3 606,44.4 606.2,44.4 606.5,44.3 606.7,44.3 607,44.3 607.2,44.5 607.5,44.4 607.7,44.5 607.9,44.3 608.2,44.5 608.4,44.4 608.7,44.5 608.9,44.5 609.1,44.5 609.4,44.7 609.6,44.6 609.9,44.6 610.1,44.7 610.3,44.6 610.6,44.8 610.8,44.8 611.1,44.7 611.3,44.9 611.5,44.9 611.8,45.3 612,45.3 612.3,45.4 612.5,45.7 612.7,45.8 613,45.9 613.2,46.5 613.5,46.8 613.7,47.5 613.9,47.8 614.2,48.4 614.4,49 614.7,49.8 614.9,50.9 615.2,51.9 615.4,52.9 615.6,54 615.9,54.5 616.1,55.2 616.4,55.7 616.6,57.1 616.8,59.9 617.1,62.4 617.3,63.1 617.6,61.8 617.8,60.3 618,58.8 618.3,58.1 618.5,58.5 618.8,59 619,59.5 619.2,59.8 619.5,59.4 619.7,58.8 620,58.9 620.2,60.2 620.4,61.5 620.7,62.6 620.9,63.2 621.2,63.9 621.4,64.6 621.6,66 621.9,67.7 622.1,69.3 622.4,70.9 622.6,69.5 622.9,67.8 623.1,66.2 623.3,64.5 623.6,63 623.8,61.8 624.1,60.4 624.3,59.3 624.5,58.1 624.8,56.9 625,56 625.3,54.8 625.5,53.9 625.7,52.9 626,52.2 626.2,51.5 626.5,51 626.7,50.1 626.9,49.6 627.2,50.2 627.4,50.9 627.7,51.8 627.9,52.8 628.1,53.7 628.4,54.7 628.6,53.8 628.9,52.7 629.1,51.7 629.3,50.8 629.6,50.3 629.8,49.9 630.1,49.4 630.3,48.9 630.6,50.4 630.8,52.3 631,53.9 631.3,55.5 631.5,57.3 631.8,58.9 632,60.5 632.2,62.1 632.5,63.5 632.7,64.8 633,66.2 633.2,65.3 633.4,63.7 633.7,62.2 633.9,60.6 634.2,59.2 634.4,58.2 634.6,57.1 634.9,56.1 635.1,56.7 635.4,57.3 635.6,58.2 635.8,59 636.1,59.3 636.3,60 636.6,60.4 636.8,60.9 637,60.5 637.3,59.5 637.5,58.6 637.8,58.1 638,57.6 638.3,57.6 638.5,58.2 638.7,58.9 639,59.7 639.2,60.1 639.5,60.6 639.7,59.3 639.9,57.8 640.2,56.1 640.4,54.6 640.7,53.3 640.9,52.2 641.1,51 641.4,50 641.6,49.3 641.9,49 642.1,48.7 642.3,48.5 642.6,48.1 642.8,48.1 643.1,47.8 643.3,47.7 643.5,47.6 643.8,47.6 644,47.4 644.3,48.1 644.5,49.1 644.7,50.2 645,51.9 645.2,53.5 645.5,54.3 645.7,52.7 646,50.9 646.2,49.6 646.4,48.4 646.7,47.4 646.9,47.4 647.2,48.4 647.4,49.2 647.6,50.4 647.9,51.5 648.1,52.9 648.4,54 648.6,55.4 648.8,54.5 649.1,52.1 649.3,50 649.6,48.6 649.8,47.2 650,46.3 650.3,46.7 650.5,47 650.8,47.5 651,47.9 651.2,48.7 651.5,49.2 651.7,49.9 652,50.6 652.2,49.9 652.4,49.2 652.7,48.4 652.9,47.8 653.2,47.1 653.4,46.6 653.7,46.3 653.9,45.7 654.1,45.8 654.4,46.1 654.6,46.3 654.9,46.8 655.1,47.2 655.3,47.9 655.6,48.4 655.8,49 656.1,49.3 656.3,48.6 656.5,48.2 656.8,47.4 657,47 657.3,46.3 657.5,46 657.7,45.8 658,45.6 658.2,45.4 658.5,44.8 658.7,44.8 658.9,44.9 659.2,45 659.4,44.9 659.7,45 659.9,45 660.1,45.2 660.4,45.1 660.6,45.3 660.9,45.2 661.1,45.2 661.4,45.4 661.6,45.4 661.8,45.3 662.1,45.4 662.3,45.3 662.6,45.5 662.8,45.5 663,45.6 663.3,45.6 663.5,45.6 663.8,45.7 664,45.8 664.2,46 664.5,45.9 664.7,46.2 665,46.1 665.2,46 665.4,45.9 665.7,45.9 665.9,45.6 666.2,45.5 666.4,45.4 666.6,45.1 666.9,45.1 667.1,45 667.4,45 667.6,45 667.8,44.9 668.1,44.8 668.3,44.8 668.6,44.7 668.8,44.8 669.1,44.7 669.3,44.7 669.5,44.5 669.8,44.6 670,44.6 670.3,44.5 670.5,44.4 670.7,44.4 671,44.5 671.2,44.3 671.5,44.3 671.7,44.3" stroke="#f03a3a" stroke-width="0.65" fill="none" stroke-linejoin="round"/>
<line x1="535.2" y1="29" x2="535.2" y2="37" stroke="#3a7be0" stroke-width="0.6"/>
<path d="M534.2,36.5 535.2,38.5 536.2,36.5" stroke="#3a7be0" stroke-width="0.5" fill="#3a7be0" stroke-linejoin="round"/>
<line x1="554.1" y1="32" x2="554.1" y2="38.3" stroke="#3a7be0" stroke-width="0.6"/>
<path d="M553.1,37.8 554.1,39.8 555.1,37.8" stroke="#3a7be0" stroke-width="0.5" fill="#3a7be0" stroke-linejoin="round"/>
<line x1="616.4" y1="34" x2="616.4" y2="43" stroke="#3a7be0" stroke-width="0.6"/>
<path d="M615.4,42.5 616.4,44.5 617.4,42.5" stroke="#3a7be0" stroke-width="0.5" fill="#3a7be0" stroke-linejoin="round"/>
<line x1="618.6" y1="31" x2="618.6" y2="38.5" stroke="#3a7be0" stroke-width="0.6"/>
<path d="M617.6,38 618.6,40 619.6,38" stroke="#3a7be0" stroke-width="0.5" fill="#3a7be0" stroke-linejoin="round"/>
<line x1="631.6" y1="24" x2="631.6" y2="30.5" stroke="#3a7be0" stroke-width="0.6"/>
<path d="M630.6,30 631.6,32 632.6,30" stroke="#3a7be0" stroke-width="0.5" fill="#3a7be0" stroke-linejoin="round"/>
<line x1="633" y1="26" x2="633" y2="28.5" stroke="#3a7be0" stroke-width="0.6"/>
<path d="M632,28 633,30 634,28" stroke="#3a7be0" stroke-width="0.5" fill="#3a7be0" stroke-linejoin="round"/>
<text x="527.5" y="43" font-family='"Liberation Sans", sans-serif' font-size="4.6" font-weight="normal" text-anchor="start" fill="#3a7be0">3327cm</text>
<text x="543.8" y="40" font-family='"Liberation Sans", sans-serif' font-size="3.6" font-weight="normal" text-anchor="start" fill="#3a7be0">-1</text>
<text x="556.3" y="39" font-family='"Liberation Sans", sans-serif' font-size="4.6" font-weight="normal" text-anchor="start" fill="#3a7be0">2930cm</text>
<text x="572.5" y="36" font-family='"Liberation Sans", sans-serif' font-size="3.6" font-weight="normal" text-anchor="start" fill="#3a7be0">-1</text>
<text x="594.5" y="36" font-family='"Liberation Sans", sans-serif' font-size="4.6" font-weight="normal" text-anchor="start" fill="#3a7be0">1732cm</text>
<text x="610.8" y="33" font-family='"Liberation Sans", sans-serif' font-size="3.6" font-weight="normal" text-anchor="start" fill="#3a7be0">-1</text>
<text x="597.5" y="43.2" font-family='"Liberation Sans", sans-serif' font-size="4.6" font-weight="normal" text-anchor="start" fill="#3a7be0">1629cm</text>
<text x="613.8" y="40.2" font-family='"Liberation Sans", sans-serif' font-size="3.6" font-weight="normal" text-anchor="start" fill="#3a7be0">-1</text>
<text x="620.5" y="47.5" font-family='"Liberation Sans", sans-serif' font-size="4.6" font-weight="normal" text-anchor="start" fill="#3a7be0">1579cm</text>
<text x="636.5" y="44.5" font-family='"Liberation Sans", sans-serif' font-size="3.6" font-weight="normal" text-anchor="start" fill="#3a7be0">-1</text>
<text x="626.8" y="38.6" font-family='"Liberation Sans", sans-serif' font-size="4.6" font-weight="normal" text-anchor="start" fill="#3a7be0">1311cm</text>
<text x="643" y="35.6" font-family='"Liberation Sans", sans-serif' font-size="3.6" font-weight="normal" text-anchor="start" fill="#3a7be0">-1</text>
<text x="636.9" y="32.2" font-family='"Liberation Sans", sans-serif' font-size="4.6" font-weight="normal" text-anchor="start" fill="#3a7be0">1262cm</text>
<text x="653" y="29.2" font-family='"Liberation Sans", sans-serif' font-size="3.6" font-weight="normal" text-anchor="start" fill="#3a7be0">-1</text>
<text x="-0.8" y="165.5" font-family='"Liberation Serif", serif' font-size="15" font-weight="normal" text-anchor="start" fill="#000">d</text>
<line x1="40.4" y1="298.31" x2="43.4" y2="298.31" stroke="#111" stroke-width="1"/>
<text x="40.4" y="301.81" font-family='"Liberation Sans", sans-serif' font-size="9.8" font-weight="bold" text-anchor="end" fill="#111">0.0</text>
<line x1="41.4" y1="282.7" x2="43.4" y2="282.7" stroke="#111" stroke-width="1"/>
<line x1="40.4" y1="267.08" x2="43.4" y2="267.08" stroke="#111" stroke-width="1"/>
<text x="40.4" y="270.58" font-family='"Liberation Sans", sans-serif' font-size="9.8" font-weight="bold" text-anchor="end" fill="#111">0.5</text>
<line x1="41.4" y1="251.47" x2="43.4" y2="251.47" stroke="#111" stroke-width="1"/>
<line x1="40.4" y1="235.85" x2="43.4" y2="235.85" stroke="#111" stroke-width="1"/>
<text x="40.4" y="239.35" font-family='"Liberation Sans", sans-serif' font-size="9.8" font-weight="bold" text-anchor="end" fill="#111">1.0</text>
<line x1="41.4" y1="220.24" x2="43.4" y2="220.24" stroke="#111" stroke-width="1"/>
<line x1="40.4" y1="204.63" x2="43.4" y2="204.63" stroke="#111" stroke-width="1"/>
<text x="40.4" y="208.13" font-family='"Liberation Sans", sans-serif' font-size="9.8" font-weight="bold" text-anchor="end" fill="#111">1.5</text>
<line x1="41.4" y1="189.01" x2="43.4" y2="189.01" stroke="#111" stroke-width="1"/>
<line x1="40.4" y1="173.4" x2="43.4" y2="173.4" stroke="#111" stroke-width="1"/>
<text x="40.4" y="176.9" font-family='"Liberation Sans", sans-serif' font-size="9.8" font-weight="bold" text-anchor="end" fill="#111">2.0</text>
<line x1="53.03" y1="310.8" x2="53.03" y2="313.8" stroke="#111" stroke-width="1"/>
<line x1="69.09" y1="310.8" x2="69.09" y2="312.8" stroke="#111" stroke-width="1"/>
<line x1="85.15" y1="310.8" x2="85.15" y2="313.8" stroke="#111" stroke-width="1"/>
<line x1="101.2" y1="310.8" x2="101.2" y2="312.8" stroke="#111" stroke-width="1"/>
<line x1="117.26" y1="310.8" x2="117.26" y2="313.8" stroke="#111" stroke-width="1"/>
<line x1="133.32" y1="310.8" x2="133.32" y2="312.8" stroke="#111" stroke-width="1"/>
<line x1="149.37" y1="310.8" x2="149.37" y2="313.8" stroke="#111" stroke-width="1"/>
<line x1="165.43" y1="310.8" x2="165.43" y2="312.8" stroke="#111" stroke-width="1"/>
<line x1="181.49" y1="310.8" x2="181.49" y2="313.8" stroke="#111" stroke-width="1"/>
<line x1="197.54" y1="310.8" x2="197.54" y2="312.8" stroke="#111" stroke-width="1"/>
<line x1="213.6" y1="310.8" x2="213.6" y2="313.8" stroke="#111" stroke-width="1"/>
<text x="53.03" y="323.7" font-family='"Liberation Sans", sans-serif' font-size="9.8" font-weight="bold" text-anchor="middle" fill="#111">400</text>
<text x="85.15" y="323.7" font-family='"Liberation Sans", sans-serif' font-size="9.8" font-weight="bold" text-anchor="middle" fill="#111">500</text>
<text x="117.26" y="323.7" font-family='"Liberation Sans", sans-serif' font-size="9.8" font-weight="bold" text-anchor="middle" fill="#111">600</text>
<text x="149.37" y="323.7" font-family='"Liberation Sans", sans-serif' font-size="9.8" font-weight="bold" text-anchor="middle" fill="#111">700</text>
<text x="181.49" y="323.7" font-family='"Liberation Sans", sans-serif' font-size="9.8" font-weight="bold" text-anchor="middle" fill="#111">800</text>
<text x="213.6" y="323.7" font-family='"Liberation Sans", sans-serif' font-size="9.8" font-weight="bold" text-anchor="middle" fill="#111">900</text>
<text x="119" y="332.6" font-family='"Liberation Sans", sans-serif' font-size="11.9" font-weight="bold" text-anchor="middle" fill="#111">Wavelength (nm)</text>
<text x="22.3" y="237.1" font-family='"Liberation Sans", sans-serif' font-size="11.85" font-weight="bold" text-anchor="middle" fill="#111" transform="rotate(-90 22.3 237.1)">ABTS Absorbance (a.u.)</text>
<rect x="43.4" y="173.4" width="170.2" height="137.4" fill="none" stroke="#111" stroke-width="1.25"/>
<defs><linearGradient id="bgD" x1="0" y1="0" x2="0" y2="1"><stop offset="0" stop-color="#c0c0bc"/><stop offset="0.18" stop-color="#bebeba"/><stop offset="0.22" stop-color="#b2b0aa"/><stop offset="0.35" stop-color="#b0ada7"/><stop offset="0.375" stop-color="#9a9892"/><stop offset="0.41" stop-color="#c4c4c1"/><stop offset="1" stop-color="#c6c6c3"/></linearGradient><filter id="blur05"><feGaussianBlur stdDeviation="0.5"/></filter><filter id="blur08"><feGaussianBlur stdDeviation="0.8"/></filter></defs>
<rect x="48" y="178" width="92.8" height="38.7" fill="url(#bgD)" stroke="none" stroke-width="1"/>
<g filter="url(#blur05)">
<rect x="52.7" y="183.2" width="7.4" height="11.5" fill="#cfcfcb" stroke="none" stroke-width="1" opacity="0.55"/>
<line x1="54.2" y1="183.6" x2="54.2" y2="194.5" stroke="#e2e2de" stroke-width="0.7"/>
<line x1="58.8" y1="183.6" x2="58.8" y2="194.5" stroke="#dadad6" stroke-width="0.6"/>
<path d="M52.1 194.7 L60.7 194.7 Q60.4 203 58.3 208 Q56.9 212.8 56.4 212.8 Q55.9 212.8 54.5 208 Q52.4 203 52.1 194.7 Z" fill="#54968c"/>
<rect x="69.2" y="183.2" width="7.4" height="11.5" fill="#cfcfcb" stroke="none" stroke-width="1" opacity="0.55"/>
<line x1="70.7" y1="183.6" x2="70.7" y2="194.5" stroke="#e2e2de" stroke-width="0.7"/>
<line x1="75.3" y1="183.6" x2="75.3" y2="194.5" stroke="#dadad6" stroke-width="0.6"/>
<path d="M68.6 194.7 L77.2 194.7 Q76.9 203 74.8 208 Q73.4 212.8 72.9 212.8 Q72.4 212.8 71 208 Q68.9 203 68.6 194.7 Z" fill="#509388"/>
<rect x="83.8" y="183.2" width="7.4" height="11.5" fill="#cfcfcb" stroke="none" stroke-width="1" opacity="0.55"/>
<line x1="85.3" y1="183.6" x2="85.3" y2="194.5" stroke="#e2e2de" stroke-width="0.7"/>
<line x1="89.9" y1="183.6" x2="89.9" y2="194.5" stroke="#dadad6" stroke-width="0.6"/>
<path d="M83.2 194.7 L91.8 194.7 Q91.5 203 89.4 208 Q88 212.8 87.5 212.8 Q87 212.8 85.6 208 Q83.5 203 83.2 194.7 Z" fill="#58988e"/>
<rect x="98.8" y="183.2" width="7.4" height="11.5" fill="#cfcfcb" stroke="none" stroke-width="1" opacity="0.55"/>
<line x1="100.3" y1="183.6" x2="100.3" y2="194.5" stroke="#e2e2de" stroke-width="0.7"/>
<line x1="104.9" y1="183.6" x2="104.9" y2="194.5" stroke="#dadad6" stroke-width="0.6"/>
<path d="M98.2 194.7 L106.8 194.7 Q106.5 203 104.4 208 Q103 212.8 102.5 212.8 Q102 212.8 100.6 208 Q98.5 203 98.2 194.7 Z" fill="#74a292"/>
<rect x="113.4" y="183.2" width="7.4" height="11.5" fill="#cfcfcb" stroke="none" stroke-width="1" opacity="0.55"/>
<line x1="114.9" y1="183.6" x2="114.9" y2="194.5" stroke="#e2e2de" stroke-width="0.7"/>
<line x1="119.5" y1="183.6" x2="119.5" y2="194.5" stroke="#dadad6" stroke-width="0.6"/>
<path d="M112.8 194.7 L121.4 194.7 Q121.1 203 119 208 Q117.6 212.8 117.1 212.8 Q116.6 212.8 115.2 208 Q113.1 203 112.8 194.7 Z" fill="#7da694"/>
<rect x="128.1" y="183.2" width="7.4" height="11.5" fill="#cfcfcb" stroke="none" stroke-width="1" opacity="0.55"/>
<line x1="129.6" y1="183.6" x2="129.6" y2="194.5" stroke="#e2e2de" stroke-width="0.7"/>
<line x1="134.2" y1="183.6" x2="134.2" y2="194.5" stroke="#dadad6" stroke-width="0.6"/>
<path d="M127.5 194.7 L136.1 194.7 Q135.8 203 133.7 208 Q132.3 212.8 131.8 212.8 Q131.3 212.8 129.9 208 Q127.8 203 127.5 194.7 Z" fill="#b2c3b5"/>
</g>
<line x1="149.8" y1="186.5" x2="167" y2="186.5" stroke="#444444" stroke-width="1"/>
<text x="0" y="0" font-family='"Liberation Sans", sans-serif' font-size="9.4" font-weight="bold" text-anchor="start" fill="#111" transform="translate(170.6 189.9) scale(0.9 1)">0 μg/mL</text>
<line x1="149.8" y1="197.5" x2="167" y2="197.5" stroke="#f04848" stroke-width="1"/>
<text x="0" y="0" font-family='"Liberation Sans", sans-serif' font-size="9.4" font-weight="bold" text-anchor="start" fill="#111" transform="translate(170.6 200.9) scale(0.9 1)">2 μg/mL</text>
<line x1="149.8" y1="208.5" x2="167" y2="208.5" stroke="#3a7ae6" stroke-width="1"/>
<text x="0" y="0" font-family='"Liberation Sans", sans-serif' font-size="9.4" font-weight="bold" text-anchor="start" fill="#111" transform="translate(170.6 211.9) scale(0.9 1)">4 μg/mL</text>
<line x1="149.8" y1="218.5" x2="167" y2="218.5" stroke="#34b06c" stroke-width="1"/>
<text x="0" y="0" font-family='"Liberation Sans", sans-serif' font-size="9.4" font-weight="bold" text-anchor="start" fill="#111" transform="translate(170.6 221.9) scale(0.9 1)">6 μg/mL</text>
<line x1="149.8" y1="229.5" x2="167" y2="229.5" stroke="#b070ea" stroke-width="1"/>
<text x="0" y="0" font-family='"Liberation Sans", sans-serif' font-size="9.4" font-weight="bold" text-anchor="start" fill="#111" transform="translate(170.6 232.9) scale(0.9 1)">8 μg/mL</text>
<line x1="149.8" y1="240.5" x2="167" y2="240.5" stroke="#d8a028" stroke-width="1"/>
<text x="0" y="0" font-family='"Liberation Sans", sans-serif' font-size="9.4" font-weight="bold" text-anchor="start" fill="#111" transform="translate(170.6 243.9) scale(0.9 1)">10 μg/mL</text>
<defs><clipPath id="clipD"><rect x="43.4" y="173.4" width="170.2" height="137.4"/></clipPath></defs>
<path d="M43.4,243.3 43.8,248.9 44.3,256.7 44.7,263.8 45.1,269.3 45.5,274.1 46,278.2 46.4,280.9 46.8,283 47.2,284.7 47.7,286 48.1,286.5 48.5,286.8 48.9,287 49.4,287 49.8,287.1 50.2,287.1 50.6,287.2 51.1,287.2 51.5,287.2 51.9,287.1 52.3,287.1 52.8,287.1 53.2,287.1 53.6,287 54,287 54.5,287 54.9,286.9 55.3,286.9 55.7,286.8 56.2,286.8 56.6,286.6 57,286.5 57.4,286.3 57.9,286.2 58.3,286.1 58.7,286.2 59.1,286.3 59.6,286.4 60,286.7 60.4,287 60.8,287.4 61.3,287.9 61.7,288.5 62.1,289 62.5,289.5 63,290.1 63.4,290.6 63.8,291.2 64.2,291.7 64.7,292.1 65.1,292.5 65.5,292.9 66,293.2 66.4,293.5 66.8,293.8 67.2,294.1 67.7,294.3 68.1,294.5 68.5,294.6 68.9,294.8 69.4,294.9 69.8,295 70.2,295.1 70.6,295.2 71.1,295.3 71.5,295.3 71.9,295.4 72.3,295.5 72.8,295.6 73.2,295.7 73.6,295.7 74,295.8 74.5,295.9 74.9,295.9 75.3,295.9 75.7,295.9 76.2,295.9 76.6,295.9 77,295.9 77.4,295.9 77.9,295.9 78.3,295.9 78.7,295.9 79.1,295.8 79.6,295.7 80,296 80.4,296 80.8,295.9 81.3,295.8 81.7,295.7 82.1,295.9 82.5,295.7 83,295.8 83.4,295.4 83.8,295.5 84.2,295.8 84.7,295.3 85.1,295.7 85.5,295.5 85.9,295.2 86.4,295.3 86.8,295.3 87.2,295.5 87.7,295.6 88.1,295.3 88.5,295.6 88.9,295.5 89.4,295.4 89.8,295.6 90.2,295.4 90.6,295.1 91.1,295.2 91.5,295.3 91.9,295.2 92.3,295.2 92.8,295.4 93.2,295.1 93.6,295.2 94,295 94.5,294.9 94.9,295.2 95.3,295.1 95.7,295 96.2,295.1 96.6,295.2 97,294.9 97.4,294.8 97.9,294.9 98.3,294.9 98.7,294.8 99.1,294.9 99.6,294.9 100,294.9 100.4,295 100.8,294.8 101.3,295.1 101.7,294.9 102.1,294.7 102.5,294.7 103,294.8 103.4,294.9 103.8,294.8 104.2,294.8 104.7,294.7 105.1,294.8 105.5,294.7 105.9,294.5 106.4,294.9 106.8,294.6 107.2,294.6 107.7,294.7 108.1,294.7 108.5,294.4 108.9,294.9 109.4,294.6 109.8,294.8 110.2,294.5 110.6,294.4 111.1,294.6 111.5,294.8 111.9,294.5 112.3,294.5 112.8,294.5 113.2,294.5 113.6,294.5 114,294.4 114.5,294.5 114.9,294.5 115.3,294.3 115.7,294.6 116.2,294.4 116.6,294.5 117,294.3 117.4,294.6 117.9,294.2 118.3,294.5 118.7,294.6 119.1,294.5 119.6,294.4 120,294.6 120.4,294.4 120.8,294.4 121.3,294.2 121.7,294.4 122.1,294.4 122.5,294.4 123,294.1 123.4,294 123.8,294.2 124.2,294.4 124.7,294 125.1,294.2 125.5,294.3 125.9,294.3 126.4,294 126.8,294 127.2,294 127.6,294.1 128.1,294.1 128.5,294.2 128.9,293.8 129.4,294.1 129.8,294 130.2,293.9 130.6,293.9 131.1,294 131.5,294.1 131.9,294 132.3,294.2 132.8,293.8 133.2,294 133.6,293.8 134,294 134.5,294 134.9,294 135.3,293.9 135.7,294 136.2,294.1 136.6,293.8 137,294 137.4,294 137.9,293.9 138.3,293.8 138.7,293.9 139.1,293.7 139.6,293.7 140,293.9 140.4,293.6 140.8,293.6 141.3,294 141.7,293.6 142.1,293.6 142.5,293.6 143,293.9 143.4,293.6 143.8,293.7 144.2,294 144.7,294 145.1,293.5 145.5,293.6 145.9,293.8 146.4,293.9 146.8,293.9 147.2,293.8 147.6,293.5 148.1,293.7 148.5,293.8 148.9,293.4 149.3,293.5 149.8,293.8 150.2,293.4 150.6,293.5 151.1,293.4 151.5,293.4 151.9,293.3 152.3,293.3 152.8,293.3 153.2,293.6 153.6,293.3 154,293.4 154.5,293.3 154.9,293.4 155.3,293.2 155.7,293.3 156.2,293.4 156.6,293.5 157,293.5 157.4,293.3 157.9,293.5 158.3,293.3 158.7,293.5 159.1,293.3 159.6,293.3 160,293.3 160.4,293.2 160.8,293.6 161.3,293.2 161.7,293.4 162.1,293.3 162.5,293.3 163,293.2 163.4,293.5 163.8,293.5 164.2,293.2 164.7,293.7 165.1,293.4 165.5,293.4 165.9,293.7 166.4,293.4 166.8,293.4 167.2,293.3 167.6,293.6 168.1,293.3 168.5,293.5 168.9,293.6 169.3,293.4 169.8,293.8 170.2,293.5 170.6,293.5 171,293.7 171.5,293.4 171.9,293.7 172.3,293.6 172.8,293.6 173.2,293.5 173.6,293.8 174,293.7 174.5,293.7 174.9,293.6 175.3,293.4 175.7,293.7 176.2,293.4 176.6,293.6 177,293.5 177.4,293.6 177.9,293.5 178.3,293.2 178.7,293.4 179.1,293.3 179.6,293.5 180,293.5 180.4,293.5 180.8,293.4 181.3,293.4 181.7,293.3 182.1,293.7 182.5,293.3 183,293.3 183.4,293.4 183.8,293.7 184.2,293.6 184.7,293.7 185.1,293.7 185.5,293.3 185.9,293.5 186.4,293.5 186.8,293.4 187.2,293.4 187.6,293.5 188.1,293.6 188.5,293.6 188.9,293.5 189.3,293.6 189.8,293.6 190.2,293.8 190.6,293.6 191,293.8 191.5,293.6 191.9,294 192.3,294 192.8,294 193.2,293.7 193.6,293.6 194,293.8 194.5,294 194.9,293.8 195.3,293.8 195.7,293.9 196.2,294.1 196.6,294.1 197,294.1 197.4,294.1 197.9,294.1 198.3,294.1 198.7,294 199.1,294.4 199.6,294.2 200,294.5 200.4,294.6 200.8,294.3 201.3,294.4 201.7,294.3 202.1,294.6 202.5,294.9 203,294.7 203.4,294.7 203.8,294.6 204.2,294.6 204.7,294.9 205.1,295 205.5,295.2 205.9,295 206.4,295.2 206.8,295.3 207.2,295.4 207.6,295.5 208.1,295.2 208.5,295.6 208.9,295.2 209.3,295.8 209.8,295.4 210.2,295.9 210.6,296 211,295.7 211.5,296 211.9,295.8 212.3,296.2 212.7,296.3 213.2,296 213.6,296" stroke="#444444" stroke-width="1.15" fill="none" stroke-linejoin="round" clip-path="url(#clipD)"/>
<path d="M43.4,243.3 43.8,248 44.3,254.6 44.7,260.7 45.1,265.9 45.5,270.6 46,274.5 46.4,277 46.8,278.6 47.2,279.5 47.7,279.8 48.1,279.9 48.5,279.8 48.9,279.6 49.4,279.4 49.8,279.3 50.2,279.2 50.6,279.1 51.1,278.9 51.5,278.8 51.9,278.7 52.3,278.5 52.8,278.4 53.2,278.3 53.6,278.2 54,278.1 54.5,278 54.9,277.9 55.3,277.9 55.7,277.8 56.2,277.7 56.6,277.6 57,277.4 57.4,277.2 57.9,277.1 58.3,277.1 58.7,277.1 59.1,277.2 59.6,277.4 60,277.9 60.4,278.5 60.8,279.2 61.3,280.1 61.7,281 62.1,282 62.5,283 63,284 63.4,285 63.8,286.1 64.2,287.2 64.7,288.3 65.1,289.3 65.5,290.1 66,291 66.4,291.7 66.8,292.4 67.2,292.9 67.7,293.4 68.1,293.9 68.5,294.3 68.9,294.5 69.4,294.7 69.8,294.9 70.2,295 70.6,295.2 71.1,295.3 71.5,295.4 71.9,295.5 72.3,295.6 72.8,295.8 73.2,295.9 73.6,296 74,296.1 74.5,296.2 74.9,296.3 75.3,296.3 75.7,296.3 76.2,296.3 76.6,296.3 77,296.3 77.4,296.3 77.9,296.3 78.3,296.3 78.7,296.3 79.1,296.1 79.6,296.1 80,296.4 80.4,296.1 80.8,296 81.3,296.1 81.7,295.8 82.1,296.1 82.5,295.7 83,295.8 83.4,296.1 83.8,296.1 84.2,295.7 84.7,295.6 85.1,295.9 85.5,295.8 85.9,295.5 86.4,295.8 86.8,295.4 87.2,295.5 87.7,295.7 88.1,295.5 88.5,295.4 88.9,295.4 89.4,295.3 89.8,295.5 90.2,295.2 90.6,295.3 91.1,295.2 91.5,295.1 91.9,295.2 92.3,295.2 92.8,294.9 93.2,294.8 93.6,294.9 94,294.9 94.5,295 94.9,295.1 95.3,294.6 95.7,294.7 96.2,294.6 96.6,294.8 97,294.6 97.4,294.4 97.9,294.4 98.3,294.5 98.7,294.6 99.1,294.5 99.6,294.2 100,294.4 100.4,294.2 100.8,294.2 101.3,294 101.7,294 102.1,294.3 102.5,294.4 103,294.2 103.4,294.1 103.8,293.9 104.2,293.8 104.7,293.7 105.1,294.1 105.5,293.6 105.9,293.6 106.4,293.5 106.8,293.6 107.2,293.7 107.7,293.4 108.1,293.3 108.5,293.3 108.9,293.2 109.4,293.4 109.8,293.5 110.2,293.2 110.6,293 111.1,293.3 111.5,292.9 111.9,292.8 112.3,293.1 112.8,292.9 113.2,292.8 113.6,292.8 114,292.9 114.5,292.8 114.9,292.5 115.3,292.5 115.7,292.6 116.2,292.7 116.6,292.3 117,292.3 117.4,292.5 117.9,292.3 118.3,292.1 118.7,292 119.1,292.1 119.6,292.1 120,292 120.4,292.1 120.8,292.1 121.3,292 121.7,291.7 122.1,291.8 122.5,291.7 123,291.7 123.4,291.6 123.8,291.7 124.2,291.7 124.7,291.2 125.1,291.4 125.5,291.5 125.9,291.2 126.4,291.1 126.8,291.3 127.2,291.1 127.6,291.1 128.1,291 128.5,291.2 128.9,291.1 129.4,290.6 129.8,290.6 130.2,290.8 130.6,290.7 131.1,290.8 131.5,290.5 131.9,290.6 132.3,290.4 132.8,290.4 133.2,290.4 133.6,290.3 134,290.6 134.5,290.7 134.9,290.6 135.3,290.6 135.7,290.6 136.2,290.6 136.6,290.3 137,290.1 137.4,290.3 137.9,290.1 138.3,290.1 138.7,290.5 139.1,290.2 139.6,290.3 140,290.5 140.4,290 140.8,290.4 141.3,290.2 141.7,290.2 142.1,290 142.5,290.2 143,290.3 143.4,290.3 143.8,290.4 144.2,290 144.7,290 145.1,290.4 145.5,290.5 145.9,290.4 146.4,290.3 146.8,290 147.2,290 147.6,290.1 148.1,290.4 148.5,290.1 148.9,290.1 149.3,290.1 149.8,289.9 150.2,290.4 150.6,290.3 151.1,289.9 151.5,289.8 151.9,289.9 152.3,290 152.8,289.8 153.2,289.7 153.6,290 154,289.8 154.5,289.8 154.9,289.9 155.3,289.7 155.7,289.8 156.2,289.7 156.6,289.8 157,289.5 157.4,289.8 157.9,289.5 158.3,289.7 158.7,289.8 159.1,289.4 159.6,289.7 160,289.4 160.4,289.4 160.8,289.4 161.3,289.8 161.7,289.7 162.1,289.9 162.5,289.5 163,289.6 163.4,289.7 163.8,289.8 164.2,289.9 164.7,289.7 165.1,289.9 165.5,289.8 165.9,290.1 166.4,290 166.8,290.2 167.2,289.9 167.6,290 168.1,290.2 168.5,289.8 168.9,290.2 169.3,290.1 169.8,290.3 170.2,290.2 170.6,290 171,290.2 171.5,290.3 171.9,290.2 172.3,290.3 172.8,290 173.2,290.4 173.6,290 174,290.4 174.5,290 174.9,290.1 175.3,290.3 175.7,290.1 176.2,290.2 176.6,290.2 177,290.2 177.4,290.1 177.9,289.7 178.3,289.7 178.7,289.7 179.1,290.1 179.6,290 180,289.7 180.4,290.1 180.8,289.7 181.3,290 181.7,289.6 182.1,290.1 182.5,289.8 183,290 183.4,290.1 183.8,290.2 184.2,289.8 184.7,290 185.1,290.2 185.5,290.1 185.9,289.8 186.4,290.2 186.8,290.1 187.2,290.3 187.6,290.3 188.1,290 188.5,290.1 188.9,290.4 189.3,290.5 189.8,290.5 190.2,290.3 190.6,290.4 191,290.5 191.5,290.6 191.9,290.5 192.3,290.5 192.8,290.5 193.2,290.6 193.6,290.9 194,291 194.5,290.7 194.9,291 195.3,290.9 195.7,291.3 196.2,291 196.6,291.4 197,291.2 197.4,291.3 197.9,291.6 198.3,291.9 198.7,291.6 199.1,291.9 199.6,291.9 200,292.3 200.4,292.4 200.8,292.2 201.3,292.6 201.7,292.8 202.1,292.8 202.5,292.8 203,293.3 203.4,293.1 203.8,293.3 204.2,293.4 204.7,293.7 205.1,293.6 205.5,293.7 205.9,293.8 206.4,294.2 206.8,294.2 207.2,294.5 207.6,294.5 208.1,295 208.5,294.7 208.9,294.9 209.3,295.2 209.8,295.4 210.2,295.5 210.6,295.7 211,296.1 211.5,295.7 211.9,296.2 212.3,296.3 212.7,296.5 213.2,296.5 213.6,296.3" stroke="#f04848" stroke-width="1.15" fill="none" stroke-linejoin="round" clip-path="url(#clipD)"/>
<path d="M43.4,242.1 43.8,246.3 44.3,252.2 44.7,257.6 45.1,261.9 45.5,265.8 46,268.9 46.4,270.7 46.8,272 47.2,272.9 47.7,273.4 48.1,273.4 48.5,273.2 48.9,272.9 49.4,272.4 49.8,272.1 50.2,271.9 50.6,271.6 51.1,271.3 51.5,271.1 51.9,270.8 52.3,270.6 52.8,270.4 53.2,270.3 53.6,270.2 54,270.1 54.5,269.9 54.9,269.8 55.3,269.7 55.7,269.5 56.2,269.3 56.6,269 57,268.7 57.4,268.5 57.9,268.4 58.3,268.3 58.7,268.4 59.1,268.5 59.6,268.8 60,269.2 60.4,269.9 60.8,270.8 61.3,272 61.7,273.3 62.1,274.7 62.5,276.1 63,277.6 63.4,279.3 63.8,280.9 64.2,282.6 64.7,284.2 65.1,285.4 65.5,286.7 66,287.9 66.4,289 66.8,290.1 67.2,291 67.7,291.7 68.1,292.3 68.5,292.8 68.9,293.2 69.4,293.6 69.8,293.8 70.2,294 70.6,294.1 71.1,294.3 71.5,294.4 71.9,294.5 72.3,294.6 72.8,294.7 73.2,294.8 73.6,294.8 74,294.9 74.5,294.9 74.9,294.9 75.3,294.9 75.7,295 76.2,295 76.6,295 77,295 77.4,295 77.9,295.1 78.3,295.1 78.7,295.1 79.1,295.3 79.6,295.3 80,295 80.4,295.2 80.8,295.3 81.3,295 81.7,295 82.1,295.1 82.5,294.9 83,295.2 83.4,294.8 83.8,294.9 84.2,295.2 84.7,295.1 85.1,294.9 85.5,294.8 85.9,294.9 86.4,295 86.8,294.8 87.2,294.9 87.7,294.6 88.1,294.4 88.5,294.8 88.9,294.5 89.4,294.4 89.8,294.6 90.2,294.2 90.6,294.1 91.1,294.3 91.5,294.3 91.9,294 92.3,294.1 92.8,294.1 93.2,293.8 93.6,293.8 94,294 94.5,293.9 94.9,293.8 95.3,293.7 95.7,293.4 96.2,293.4 96.6,293.3 97,293.2 97.4,293.2 97.9,293.5 98.3,293.2 98.7,292.9 99.1,292.8 99.6,293.1 100,292.9 100.4,292.8 100.8,292.8 101.3,292.7 101.7,292.8 102.1,292.6 102.5,292.4 103,292.6 103.4,292.5 103.8,292 104.2,292 104.7,291.8 105.1,291.9 105.5,291.7 105.9,291.6 106.4,291.5 106.8,291.8 107.2,291.4 107.7,291.5 108.1,291.2 108.5,291.3 108.9,291.1 109.4,290.8 109.8,290.8 110.2,290.9 110.6,290.7 111.1,290.6 111.5,290.3 111.9,290.5 112.3,290.4 112.8,290.1 113.2,290.3 113.6,290 114,289.7 114.5,289.8 114.9,289.9 115.3,289.7 115.7,289.5 116.2,289.6 116.6,289.6 117,289.5 117.4,289.3 117.9,289.2 118.3,289.2 118.7,289.1 119.1,289.1 119.6,288.8 120,288.5 120.4,288.6 120.8,288.5 121.3,288.4 121.7,288.5 122.1,288.2 122.5,288.2 123,288.1 123.4,288 123.8,288 124.2,288 124.7,287.9 125.1,287.8 125.5,287.6 125.9,287.6 126.4,287.4 126.8,287.6 127.2,287.4 127.6,287.1 128.1,287.3 128.5,287.1 128.9,287 129.4,287.1 129.8,286.7 130.2,286.9 130.6,286.6 131.1,286.9 131.5,286.9 131.9,286.4 132.3,286.6 132.8,286.7 133.2,286.5 133.6,286.4 134,286.3 134.5,286.5 134.9,286.4 135.3,286 135.7,286.1 136.2,286.4 136.6,286.3 137,286.2 137.4,286.1 137.9,286.1 138.3,285.9 138.7,285.9 139.1,286.1 139.6,286 140,285.9 140.4,285.9 140.8,286.1 141.3,285.9 141.7,285.9 142.1,285.8 142.5,286.2 143,285.8 143.4,286.2 143.8,285.9 144.2,285.9 144.7,286 145.1,285.7 145.5,285.9 145.9,286 146.4,285.8 146.8,285.7 147.2,285.9 147.6,286 148.1,285.9 148.5,285.9 148.9,285.7 149.3,285.9 149.8,285.8 150.2,285.7 150.6,285.7 151.1,285.6 151.5,285.3 151.9,285.2 152.3,285.3 152.8,285.2 153.2,285.3 153.6,285.1 154,285.1 154.5,284.8 154.9,284.7 155.3,284.9 155.7,284.4 156.2,284.7 156.6,284.4 157,284.4 157.4,284.3 157.9,284.7 158.3,284.6 158.7,284.4 159.1,284.9 159.6,284.9 160,284.6 160.4,284.7 160.8,284.5 161.3,284.7 161.7,284.8 162.1,284.6 162.5,284.9 163,285 163.4,284.9 163.8,285.1 164.2,285.2 164.7,285.1 165.1,285.3 165.5,285.1 165.9,285.3 166.4,285.4 166.8,285.7 167.2,285.6 167.6,285.6 168.1,285.6 168.5,285.7 168.9,285.6 169.3,285.6 169.8,285.8 170.2,285.9 170.6,285.9 171,285.7 171.5,286.1 171.9,286 172.3,285.9 172.8,286.3 173.2,286.2 173.6,285.9 174,286 174.5,286.2 174.9,286.4 175.3,286 175.7,286.1 176.2,286 176.6,285.9 177,285.9 177.4,286.1 177.9,286.2 178.3,286.1 178.7,285.9 179.1,285.9 179.6,286 180,286 180.4,285.8 180.8,285.8 181.3,285.9 181.7,285.6 182.1,285.8 182.5,286.1 183,285.9 183.4,285.7 183.8,285.9 184.2,285.8 184.7,286.1 185.1,286 185.5,285.7 185.9,285.9 186.4,285.8 186.8,286.1 187.2,286 187.6,286 188.1,286.1 188.5,286 188.9,286.1 189.3,285.9 189.8,286.2 190.2,286.3 190.6,286.5 191,286.6 191.5,286.4 191.9,286.8 192.3,286.9 192.8,287 193.2,286.9 193.6,286.8 194,287 194.5,287.1 194.9,287.6 195.3,287.7 195.7,287.5 196.2,287.8 196.6,287.8 197,288.1 197.4,288.3 197.9,288.4 198.3,288.7 198.7,288.4 199.1,288.8 199.6,289.1 200,289.2 200.4,289.5 200.8,289.8 201.3,289.6 201.7,289.9 202.1,289.9 202.5,290.4 203,290.5 203.4,290.9 203.8,291.2 204.2,291 204.7,291.3 205.1,291.8 205.5,291.7 205.9,292 206.4,292.5 206.8,292.6 207.2,292.7 207.6,293.2 208.1,293.2 208.5,293.8 208.9,293.9 209.3,294 209.8,294.4 210.2,294.6 210.6,294.5 211,294.9 211.5,295 211.9,295.4 212.3,295.6 212.7,295.6 213.2,295.9 213.6,295.6" stroke="#3a7ae6" stroke-width="1.15" fill="none" stroke-linejoin="round" clip-path="url(#clipD)"/>
<path d="M43.4,240.9 43.8,244.2 44.3,248.8 44.7,253.3 45.1,257 45.5,260.5 46,263.2 46.4,264.9 46.8,266.1 47.2,266.8 47.7,267.1 48.1,266.8 48.5,266.2 48.9,265.4 49.4,264.6 49.8,264 50.2,263.6 50.6,263.3 51.1,262.9 51.5,262.7 51.9,262.4 52.3,262.1 52.8,261.9 53.2,261.7 53.6,261.6 54,261.4 54.5,261.3 54.9,261.1 55.3,261 55.7,260.8 56.2,260.5 56.6,260.2 57,259.9 57.4,259.6 57.9,259.4 58.3,259.3 58.7,259.3 59.1,259.4 59.6,259.7 60,260.1 60.4,260.8 60.8,261.8 61.3,263.4 61.7,265.4 62.1,267.5 62.5,269.6 63,271.6 63.4,273.5 63.8,275.4 64.2,277.3 64.7,279.2 65.1,280.9 65.5,282.7 66,284.5 66.4,286.3 66.8,287.8 67.2,289.1 67.7,290.3 68.1,291.3 68.5,292 68.9,292.7 69.4,293.2 69.8,293.5 70.2,293.8 70.6,294 71.1,294.2 71.5,294.3 71.9,294.4 72.3,294.6 72.8,294.7 73.2,294.7 73.6,294.8 74,294.9 74.5,294.9 74.9,294.9 75.3,295 75.7,295 76.2,295 76.6,295 77,295.1 77.4,295.1 77.9,295.1 78.3,295.1 78.7,295.1 79.1,295.2 79.6,295.1 80,295.3 80.4,295.1 80.8,295.2 81.3,295.2 81.7,295.3 82.1,295.3 82.5,294.9 83,295.1 83.4,295.2 83.8,295.2 84.2,295.1 84.7,295.1 85.1,295.1 85.5,294.8 85.9,294.9 86.4,294.9 86.8,294.6 87.2,294.9 87.7,294.7 88.1,294.4 88.5,294.7 88.9,294.5 89.4,294.2 89.8,294.2 90.2,294.4 90.6,294.3 91.1,294 91.5,294.1 91.9,293.8 92.3,294.1 92.8,293.6 93.2,293.8 93.6,293.8 94,293.6 94.5,293.7 94.9,293.3 95.3,293.5 95.7,293.1 96.2,293.1 96.6,293.2 97,293.1 97.4,292.9 97.9,293 98.3,292.5 98.7,292.8 99.1,292.5 99.6,292.4 100,292.5 100.4,292.1 100.8,292.2 101.3,292 101.7,291.9 102.1,291.9 102.5,291.8 103,291.8 103.4,291.7 103.8,291.2 104.2,291.4 104.7,291.1 105.1,291.2 105.5,290.9 105.9,290.8 106.4,290.6 106.8,290.6 107.2,290.6 107.7,290.4 108.1,290.3 108.5,290.2 108.9,289.7 109.4,289.8 109.8,289.6 110.2,289.2 110.6,289.2 111.1,289 111.5,288.9 111.9,289.1 112.3,288.9 112.8,288.9 113.2,288.4 113.6,288.3 114,288.3 114.5,288.2 114.9,287.9 115.3,287.8 115.7,287.9 116.2,287.5 116.6,287.6 117,287.4 117.4,287.5 117.9,287.4 118.3,286.9 118.7,286.9 119.1,286.8 119.6,287 120,286.9 120.4,286.8 120.8,286.6 121.3,286.5 121.7,286.3 122.1,286.4 122.5,286.1 123,285.9 123.4,286 123.8,285.6 124.2,285.6 124.7,285.4 125.1,285.6 125.5,285.4 125.9,285.2 126.4,285.2 126.8,285.3 127.2,284.8 127.6,284.8 128.1,284.9 128.5,285 128.9,284.5 129.4,284.5 129.8,284.7 130.2,284.5 130.6,284.5 131.1,284.1 131.5,284.3 131.9,283.9 132.3,284 132.8,284.2 133.2,283.9 133.6,284 134,283.7 134.5,283.7 134.9,283.9 135.3,283.9 135.7,283.5 136.2,283.7 136.6,283.4 137,283.5 137.4,283.5 137.9,283.4 138.3,283.5 138.7,283.6 139.1,283.8 139.6,283.5 140,283.6 140.4,283.5 140.8,283.3 141.3,283.7 141.7,283.4 142.1,283.8 142.5,283.4 143,283.4 143.4,283.6 143.8,283.5 144.2,283.3 144.7,283.4 145.1,283.5 145.5,283.6 145.9,283.7 146.4,283.5 146.8,283.5 147.2,283.6 147.6,283.5 148.1,283.6 148.5,283.3 148.9,283.3 149.3,283.5 149.8,283.4 150.2,283.2 150.6,283.1 151.1,282.7 151.5,282.9 151.9,282.8 152.3,282.4 152.8,282.6 153.2,282.3 153.6,282.2 154,281.9 154.5,281.9 154.9,281.7 155.3,281.9 155.7,281.5 156.2,281.5 156.6,281.5 157,281.3 157.4,281.3 157.9,281.6 158.3,281.6 158.7,281.5 159.1,281.6 159.6,281.7 160,281.7 160.4,281.8 160.8,281.5 161.3,281.7 161.7,281.9 162.1,281.9 162.5,281.9 163,282 163.4,282.1 163.8,282.3 164.2,282.4 164.7,281.9 165.1,282.1 165.5,282.5 165.9,282.3 166.4,282.2 166.8,282.5 167.2,282.8 167.6,282.7 168.1,282.8 168.5,283 168.9,282.8 169.3,283.2 169.8,282.8 170.2,283 170.6,283 171,282.9 171.5,283.1 171.9,283.3 172.3,283.4 172.8,283.5 173.2,283.5 173.6,283.2 174,283.2 174.5,283.5 174.9,283.5 175.3,283.3 175.7,283.1 176.2,283 176.6,283.4 177,283 177.4,282.9 177.9,282.9 178.3,283.1 178.7,283.1 179.1,282.7 179.6,282.9 180,282.8 180.4,282.7 180.8,282.8 181.3,282.5 181.7,282.8 182.1,282.9 182.5,282.7 183,282.6 183.4,282.5 183.8,282.6 184.2,282.5 184.7,282.5 185.1,282.7 185.5,282.7 185.9,282.9 186.4,282.8 186.8,282.7 187.2,282.9 187.6,282.7 188.1,283 188.5,282.9 188.9,282.7 189.3,283.2 189.8,283.3 190.2,283.1 190.6,283.4 191,283.2 191.5,283.7 191.9,283.4 192.3,283.5 192.8,283.7 193.2,284 193.6,284.2 194,284.2 194.5,284.4 194.9,284.6 195.3,284.9 195.7,285 196.2,285.1 196.6,285.2 197,285.4 197.4,286 197.9,286.1 198.3,286.3 198.7,286.5 199.1,286.8 199.6,287.1 200,287.4 200.4,287.6 200.8,287.7 201.3,287.7 201.7,288 202.1,288.2 202.5,288.4 203,288.7 203.4,289.1 203.8,289.3 204.2,289.9 204.7,289.9 205.1,290.2 205.5,290.7 205.9,290.8 206.4,290.9 206.8,291.5 207.2,291.7 207.6,292.1 208.1,292.4 208.5,292.4 208.9,293.1 209.3,293.3 209.8,293.3 210.2,293.7 210.6,294.1 211,294 211.5,294.4 211.9,294.5 212.3,294.8 212.7,294.9 213.2,295 213.6,295.2" stroke="#34b06c" stroke-width="1.15" fill="none" stroke-linejoin="round" clip-path="url(#clipD)"/>
<path d="M43.4,240.9 43.8,243.8 44.3,248.1 44.7,252 45.1,255.3 45.5,258.3 46,260.8 46.4,262.3 46.8,263.6 47.2,264.4 47.7,264.6 48.1,264.3 48.5,263.7 48.9,263 49.4,262.1 49.8,261.3 50.2,260.6 50.6,260 51.1,259.6 51.5,259.1 51.9,258.7 52.3,258.4 52.8,258.1 53.2,257.8 53.6,257.6 54,257.4 54.5,257.3 54.9,257.2 55.3,257.1 55.7,257 56.2,256.8 56.6,256.5 57,256.1 57.4,255.7 57.9,255.4 58.3,255.2 58.7,255.3 59.1,255.4 59.6,255.7 60,256.2 60.4,257 60.8,258.1 61.3,259.8 61.7,262 62.1,264.3 62.5,266.5 63,268.4 63.4,270.1 63.8,271.7 64.2,273.5 64.7,275.5 65.1,277.5 65.5,279.7 66,282 66.4,284.3 66.8,286.3 67.2,287.9 67.7,289.4 68.1,290.5 68.5,291.5 68.9,292.2 69.4,292.9 69.8,293.3 70.2,293.6 70.6,293.8 71.1,294 71.5,294.2 71.9,294.4 72.3,294.5 72.8,294.6 73.2,294.7 73.6,294.8 74,294.9 74.5,294.9 74.9,295 75.3,295 75.7,295 76.2,295 76.6,295.1 77,295.1 77.4,295.1 77.9,295.1 78.3,295.2 78.7,295.2 79.1,295.4 79.6,295.3 80,295 80.4,295.2 80.8,295.4 81.3,295 81.7,295.3 82.1,295.4 82.5,295.1 83,295.2 83.4,295.1 83.8,295 84.2,295.1 84.7,294.9 85.1,295.1 85.5,294.8 85.9,294.7 86.4,295 86.8,294.7 87.2,294.9 87.7,294.6 88.1,294.3 88.5,294.4 88.9,294.3 89.4,294.2 89.8,294.5 90.2,294 90.6,294 91.1,294.3 91.5,293.8 91.9,294 92.3,294 92.8,293.5 93.2,293.6 93.6,293.4 94,293.7 94.5,293.3 94.9,293.5 95.3,293.3 95.7,293.2 96.2,293.3 96.6,292.9 97,293 97.4,292.8 97.9,292.5 98.3,292.5 98.7,292.2 99.1,292.2 99.6,292 100,292 100.4,291.8 100.8,291.7 101.3,291.9 101.7,291.5 102.1,291.6 102.5,291.2 103,291.1 103.4,290.9 103.8,291.1 104.2,290.9 104.7,290.6 105.1,290.3 105.5,290.3 105.9,290.5 106.4,290 106.8,290.1 107.2,289.7 107.7,289.4 108.1,289.6 108.5,289.1 108.9,289 109.4,289.1 109.8,288.9 110.2,288.7 110.6,288.3 111.1,288.3 111.5,288.3 111.9,288.2 112.3,288 112.8,287.5 113.2,287.7 113.6,287.3 114,287.3 114.5,287 114.9,287 115.3,286.9 115.7,286.4 116.2,286.5 116.6,286.2 117,286.1 117.4,285.9 117.9,286.2 118.3,285.9 118.7,285.9 119.1,285.6 119.6,285.2 120,285.2 120.4,285.4 120.8,285.2 121.3,284.8 121.7,284.7 122.1,284.7 122.5,284.6 123,284.6 123.4,284.1 123.8,284.2 124.2,283.9 124.7,283.9 125.1,284.1 125.5,283.8 125.9,283.8 126.4,283.3 126.8,283.4 127.2,283.5 127.6,283.4 128.1,283.2 128.5,283 128.9,282.9 129.4,282.9 129.8,282.8 130.2,282.9 130.6,282.5 131.1,282.5 131.5,282.6 131.9,282.3 132.3,282 132.8,282.4 133.2,282.3 133.6,281.9 134,282.1 134.5,282 134.9,281.9 135.3,282 135.7,281.8 136.2,281.8 136.6,281.5 137,281.5 137.4,281.9 137.9,281.6 138.3,281.5 138.7,281.5 139.1,281.5 139.6,281.6 140,281.6 140.4,281.7 140.8,281.7 141.3,281.5 141.7,281.4 142.1,281.4 142.5,281.5 143,281.7 143.4,281.5 143.8,281.5 144.2,281.6 144.7,281.5 145.1,281.7 145.5,281.6 145.9,281.6 146.4,281.8 146.8,281.7 147.2,281.7 147.6,281.3 148.1,281.5 148.5,281.6 148.9,281.6 149.3,281.6 149.8,281.5 150.2,281.5 150.6,281.4 151.1,280.9 151.5,281 151.9,280.8 152.3,280.7 152.8,280.7 153.2,280.6 153.6,280.5 154,280.3 154.5,280.1 154.9,279.8 155.3,279.8 155.7,279.5 156.2,279.7 156.6,279.4 157,279.5 157.4,279.8 157.9,279.7 158.3,279.5 158.7,279.4 159.1,279.7 159.6,279.5 160,279.7 160.4,279.5 160.8,280 161.3,279.8 161.7,279.7 162.1,280 162.5,280.1 163,280.3 163.4,280.3 163.8,280.3 164.2,280.1 164.7,280.4 165.1,280.4 165.5,280.6 165.9,280.5 166.4,280.4 166.8,280.6 167.2,280.9 167.6,280.7 168.1,280.6 168.5,280.9 168.9,281.2 169.3,280.9 169.8,280.9 170.2,281.2 170.6,281.4 171,281.4 171.5,281.3 171.9,281.2 172.3,281.3 172.8,281.2 173.2,281.6 173.6,281.5 174,281.4 174.5,281.4 174.9,281.5 175.3,281.4 175.7,281.5 176.2,281.6 176.6,281.4 177,281.5 177.4,281.2 177.9,281.2 178.3,281.1 178.7,281 179.1,281.1 179.6,281 180,281.1 180.4,280.6 180.8,280.8 181.3,280.6 181.7,281 182.1,280.8 182.5,280.7 183,280.9 183.4,281 183.8,281 184.2,281 184.7,280.6 185.1,281 185.5,280.6 185.9,280.8 186.4,280.8 186.8,280.8 187.2,280.8 187.6,280.8 188.1,280.8 188.5,281 188.9,280.9 189.3,281.2 189.8,281 190.2,281.1 190.6,281.2 191,281.5 191.5,281.4 191.9,281.5 192.3,281.9 192.8,282.1 193.2,282.2 193.6,282.1 194,282.7 194.5,283 194.9,282.9 195.3,283.1 195.7,283.2 196.2,283.6 196.6,283.6 197,284.2 197.4,284.2 197.9,284.8 198.3,285 198.7,285.3 199.1,285.6 199.6,285.6 200,285.9 200.4,286.4 200.8,286.3 201.3,286.8 201.7,287.1 202.1,287.4 202.5,287.4 203,287.6 203.4,288.3 203.8,288.6 204.2,288.6 204.7,289.2 205.1,289.1 205.5,289.7 205.9,289.9 206.4,290.4 206.8,290.5 207.2,291 207.6,291.4 208.1,291.4 208.5,292.2 208.9,292.2 209.3,292.8 209.8,292.8 210.2,293.2 210.6,293.2 211,293.9 211.5,293.9 211.9,294.2 212.3,294.2 212.7,294.3 213.2,294.7 213.6,295" stroke="#b070ea" stroke-width="1.15" fill="none" stroke-linejoin="round" clip-path="url(#clipD)"/>
<path d="M43.4,240.2 43.8,243.1 44.3,247.1 44.7,250.8 45.1,253.7 45.5,256.2 46,258.3 46.4,260 46.8,261.2 47.2,261.5 47.7,260.7 48.1,259.1 48.5,257.2 48.9,255.6 49.4,254.4 49.8,253.2 50.2,252 50.6,251.1 51.1,250.6 51.5,250.4 51.9,250.3 52.3,250.2 52.8,250.1 53.2,250.1 53.6,250.1 54,250 54.5,249.8 54.9,249.5 55.3,249.2 55.7,248.8 56.2,248.4 56.6,247.9 57,247.3 57.4,246.7 57.9,246.3 58.3,246.2 58.7,246.3 59.1,246.5 59.6,247 60,247.6 60.4,248.3 60.8,249.4 61.3,250.6 61.7,252.2 62.1,254.2 62.5,256.7 63,259.6 63.4,263 63.8,266.6 64.2,270.1 64.7,273.2 65.1,275.6 65.5,278 66,280.5 66.4,282.8 66.8,284.9 67.2,286.7 67.7,288.2 68.1,289.4 68.5,290.4 68.9,291.1 69.4,291.6 69.8,292.1 70.2,292.5 70.6,292.9 71.1,293.2 71.5,293.4 71.9,293.5 72.3,293.5 72.8,293.5 73.2,293.6 73.6,293.6 74,293.7 74.5,293.7 74.9,293.7 75.3,293.7 75.7,293.8 76.2,293.8 76.6,293.8 77,293.8 77.4,293.9 77.9,293.9 78.3,293.9 78.7,293.9 79.1,294.1 79.6,294.1 80,294 80.4,294.1 80.8,294.2 81.3,293.9 81.7,294 82.1,294.1 82.5,293.8 83,294.2 83.4,294 83.8,294.2 84.2,293.8 84.7,293.8 85.1,294.1 85.5,293.8 85.9,293.7 86.4,293.8 86.8,293.7 87.2,293.6 87.7,293.2 88.1,293.5 88.5,293.1 88.9,293 89.4,293 89.8,292.8 90.2,292.5 90.6,292.7 91.1,292.2 91.5,292.3 91.9,292 92.3,291.9 92.8,292.1 93.2,291.7 93.6,291.6 94,291.9 94.5,291.9 94.9,291.8 95.3,291.3 95.7,291.8 96.2,291.3 96.6,291.6 97,291.2 97.4,291.5 97.9,291.3 98.3,291 98.7,291.2 99.1,291 99.6,290.6 100,290.5 100.4,290.3 100.8,290.1 101.3,290.4 101.7,290.2 102.1,289.8 102.5,289.7 103,289.9 103.4,289.6 103.8,289.6 104.2,289.3 104.7,289.4 105.1,289.2 105.5,288.6 105.9,288.8 106.4,288.3 106.8,288.6 107.2,288.2 107.7,288.2 108.1,287.9 108.5,287.9 108.9,287.4 109.4,287.5 109.8,287.1 110.2,287 110.6,287 111.1,286.7 111.5,286.5 111.9,286.1 112.3,286.2 112.8,286.1 113.2,285.5 113.6,285.4 114,285.3 114.5,285.4 114.9,285.3 115.3,285.1 115.7,285 116.2,284.9 116.6,284.5 117,284.4 117.4,284.2 117.9,284.1 118.3,284.1 118.7,283.6 119.1,283.4 119.6,283.3 120,283.1 120.4,282.8 120.8,282.5 121.3,282.4 121.7,282.3 122.1,282.2 122.5,282.1 123,281.9 123.4,281.4 123.8,281.5 124.2,281.4 124.7,281.2 125.1,281.2 125.5,280.6 125.9,280.9 126.4,280.5 126.8,280.2 127.2,280.4 127.6,280.1 128.1,280.1 128.5,280.1 128.9,280 129.4,279.9 129.8,279.5 130.2,279.4 130.6,279.1 131.1,279.4 131.5,279.1 131.9,279.4 132.3,279.3 132.8,279.5 133.2,279.6 133.6,279.3 134,279.9 134.5,279.5 134.9,279.5 135.3,279.7 135.7,279.7 136.2,279.5 136.6,279.9 137,279.8 137.4,279.8 137.9,280 138.3,279.9 138.7,280.1 139.1,280 139.6,280 140,280 140.4,280.2 140.8,280.1 141.3,280.2 141.7,280.3 142.1,280.2 142.5,280.3 143,280 143.4,280.2 143.8,280 144.2,280.1 144.7,280 145.1,280.1 145.5,280.1 145.9,279.6 146.4,279.7 146.8,279.6 147.2,279.5 147.6,279.3 148.1,279.4 148.5,279.4 148.9,278.9 149.3,279 149.8,278.8 150.2,278.6 150.6,278.4 151.1,278.2 151.5,278.5 151.9,278.1 152.3,277.7 152.8,277.6 153.2,277.7 153.6,277.6 154,277.3 154.5,277.3 154.9,277 155.3,276.6 155.7,276.7 156.2,276.6 156.6,276.7 157,276.5 157.4,276.2 157.9,276.4 158.3,276.5 158.7,276.5 159.1,276.4 159.6,276.5 160,276.9 160.4,276.7 160.8,277 161.3,277 161.7,277.3 162.1,277.3 162.5,277.5 163,277.6 163.4,277.9 163.8,277.9 164.2,277.9 164.7,278.3 165.1,278.3 165.5,278.2 165.9,278.5 166.4,278.6 166.8,278.8 167.2,278.6 167.6,279 168.1,278.8 168.5,278.8 168.9,279.1 169.3,279.1 169.8,278.9 170.2,279 170.6,279.2 171,279.4 171.5,279.2 171.9,279.2 172.3,279 172.8,279.2 173.2,279.2 173.6,279 174,278.9 174.5,279.1 174.9,279.1 175.3,279 175.7,278.8 176.2,279.1 176.6,278.7 177,278.9 177.4,279 177.9,278.9 178.3,279 178.7,279.2 179.1,278.8 179.6,279 180,278.9 180.4,278.9 180.8,278.7 181.3,278.7 181.7,279.1 182.1,278.8 182.5,278.8 183,278.8 183.4,278.6 183.8,278.8 184.2,278.7 184.7,278.5 185.1,278.7 185.5,278.7 185.9,278.7 186.4,278.6 186.8,278.7 187.2,278.7 187.6,279 188.1,279.2 188.5,279 188.9,279.1 189.3,279.1 189.8,279.3 190.2,279.7 190.6,279.8 191,280 191.5,279.8 191.9,280.3 192.3,280.5 192.8,280.3 193.2,280.6 193.6,281.1 194,281 194.5,281.2 194.9,281.5 195.3,281.9 195.7,281.9 196.2,282.2 196.6,282.4 197,282.5 197.4,282.9 197.9,283.2 198.3,283.9 198.7,284.1 199.1,284.3 199.6,284.9 200,284.8 200.4,285.5 200.8,285.9 201.3,286.2 201.7,286.6 202.1,286.7 202.5,287.2 203,287.5 203.4,287.9 203.8,288.4 204.2,288.6 204.7,288.6 205.1,288.9 205.5,289.2 205.9,289.8 206.4,290.1 206.8,290.5 207.2,290.5 207.6,290.9 208.1,291.2 208.5,291.5 208.9,291.7 209.3,292.1 209.8,292.2 210.2,292.8 210.6,292.7 211,293.1 211.5,293.6 211.9,293.7 212.3,293.7 212.7,294 213.2,294.1 213.6,294.3" stroke="#d8a028" stroke-width="1.15" fill="none" stroke-linejoin="round" clip-path="url(#clipD)"/>
<text x="232.2" y="167.9" font-family='"Liberation Serif", serif' font-size="15" font-weight="normal" text-anchor="start" fill="#000">e</text>
<line x1="270.8" y1="299.82" x2="273.8" y2="299.82" stroke="#111" stroke-width="1"/>
<text x="270.8" y="303.32" font-family='"Liberation Sans", sans-serif' font-size="9.8" font-weight="bold" text-anchor="end" fill="#111">0.0</text>
<line x1="271.8" y1="284.09" x2="273.8" y2="284.09" stroke="#111" stroke-width="1"/>
<line x1="270.8" y1="268.36" x2="273.8" y2="268.36" stroke="#111" stroke-width="1"/>
<text x="270.8" y="271.86" font-family='"Liberation Sans", sans-serif' font-size="9.8" font-weight="bold" text-anchor="end" fill="#111">0.5</text>
<line x1="271.8" y1="252.64" x2="273.8" y2="252.64" stroke="#111" stroke-width="1"/>
<line x1="270.8" y1="236.91" x2="273.8" y2="236.91" stroke="#111" stroke-width="1"/>
<text x="270.8" y="240.41" font-family='"Liberation Sans", sans-serif' font-size="9.8" font-weight="bold" text-anchor="end" fill="#111">1.0</text>
<line x1="271.8" y1="221.18" x2="273.8" y2="221.18" stroke="#111" stroke-width="1"/>
<line x1="270.8" y1="205.45" x2="273.8" y2="205.45" stroke="#111" stroke-width="1"/>
<text x="270.8" y="208.95" font-family='"Liberation Sans", sans-serif' font-size="9.8" font-weight="bold" text-anchor="end" fill="#111">1.5</text>
<line x1="271.8" y1="189.73" x2="273.8" y2="189.73" stroke="#111" stroke-width="1"/>
<line x1="270.8" y1="174" x2="273.8" y2="174" stroke="#111" stroke-width="1"/>
<text x="270.8" y="177.5" font-family='"Liberation Sans", sans-serif' font-size="9.8" font-weight="bold" text-anchor="end" fill="#111">2.0</text>
<line x1="273.8" y1="312.4" x2="273.8" y2="315.4" stroke="#111" stroke-width="1"/>
<line x1="295.28" y1="312.4" x2="295.28" y2="314.4" stroke="#111" stroke-width="1"/>
<line x1="316.75" y1="312.4" x2="316.75" y2="315.4" stroke="#111" stroke-width="1"/>
<line x1="338.23" y1="312.4" x2="338.23" y2="314.4" stroke="#111" stroke-width="1"/>
<line x1="359.7" y1="312.4" x2="359.7" y2="315.4" stroke="#111" stroke-width="1"/>
<line x1="381.18" y1="312.4" x2="381.18" y2="314.4" stroke="#111" stroke-width="1"/>
<line x1="402.65" y1="312.4" x2="402.65" y2="315.4" stroke="#111" stroke-width="1"/>
<line x1="424.12" y1="312.4" x2="424.12" y2="314.4" stroke="#111" stroke-width="1"/>
<line x1="445.6" y1="312.4" x2="445.6" y2="315.4" stroke="#111" stroke-width="1"/>
<text x="273.8" y="323.7" font-family='"Liberation Sans", sans-serif' font-size="9.8" font-weight="bold" text-anchor="middle" fill="#111">300</text>
<text x="316.75" y="323.7" font-family='"Liberation Sans", sans-serif' font-size="9.8" font-weight="bold" text-anchor="middle" fill="#111">400</text>
<text x="359.7" y="323.7" font-family='"Liberation Sans", sans-serif' font-size="9.8" font-weight="bold" text-anchor="middle" fill="#111">500</text>
<text x="402.65" y="323.7" font-family='"Liberation Sans", sans-serif' font-size="9.8" font-weight="bold" text-anchor="middle" fill="#111">600</text>
<text x="445.6" y="323.7" font-family='"Liberation Sans", sans-serif' font-size="9.8" font-weight="bold" text-anchor="middle" fill="#111">700</text>
<text x="350" y="333.7" font-family='"Liberation Sans", sans-serif' font-size="11.9" font-weight="bold" text-anchor="middle" fill="#111">Wavelength (nm)</text>
<text x="251.7" y="238.2" font-family='"Liberation Sans", sans-serif' font-size="11.85" font-weight="bold" text-anchor="middle" fill="#111" transform="rotate(-90 251.7 238.2)">DPPH Absorbance (a.u.)</text>
<rect x="273.8" y="174" width="171.8" height="138.4" fill="none" stroke="#111" stroke-width="1.25"/>
<defs><linearGradient id="bgE" x1="0" y1="0" x2="0" y2="1"><stop offset="0" stop-color="#cdcac3"/><stop offset="0.25" stop-color="#c9c6be"/><stop offset="0.33" stop-color="#d6d5d0"/><stop offset="1" stop-color="#d4d3cf"/></linearGradient><linearGradient id="coneFadeE" x1="0" y1="0" x2="0" y2="1"><stop offset="0" stop-color="#fff" stop-opacity="0"/><stop offset="0.6" stop-color="#fff" stop-opacity="0.06"/><stop offset="1" stop-color="#f4eef4" stop-opacity="0.35"/></linearGradient></defs>
<rect x="277.6" y="177.9" width="94.4" height="39.7" fill="url(#bgE)" stroke="none" stroke-width="1"/>
<g filter="url(#blur05)">
<rect x="280.1" y="183.5" width="10.2" height="32" fill="#e4e4e1" stroke="none" stroke-width="1" rx="2"/>
<rect x="280.4" y="180.5" width="9.6" height="4.5" fill="#dcdbd6" stroke="none" stroke-width="1"/>
<path d="M281.2 191.8 L289.2 191.8 L289.2 208.5 Q289.2 213 285.2 213 Q281.2 213 281.2 208.5 Z" fill="#82507e"/>
<path d="M281.2 191.8 L289.2 191.8 L289.2 208.5 Q289.2 213 285.2 213 Q281.2 213 281.2 208.5 Z" fill="url(#coneFadeE)"/>
<rect x="297.3" y="183.5" width="10.2" height="32" fill="#e4e4e1" stroke="none" stroke-width="1" rx="2"/>
<rect x="297.6" y="180.5" width="9.6" height="4.5" fill="#dcdbd6" stroke="none" stroke-width="1"/>
<path d="M298.4 192 L306.4 192 L306.4 208.5 Q306.4 213 302.4 213 Q298.4 213 298.4 208.5 Z" fill="#824c7d"/>
<path d="M298.4 192 L306.4 192 L306.4 208.5 Q306.4 213 302.4 213 Q298.4 213 298.4 208.5 Z" fill="url(#coneFadeE)"/>
<rect x="313.3" y="183.5" width="10.2" height="32" fill="#e4e4e1" stroke="none" stroke-width="1" rx="2"/>
<rect x="313.6" y="180.5" width="9.6" height="4.5" fill="#dcdbd6" stroke="none" stroke-width="1"/>
<path d="M314.4 192.2 L322.4 192.2 L322.4 208.5 Q322.4 213 318.4 213 Q314.4 213 314.4 208.5 Z" fill="#86527d"/>
<path d="M314.4 192.2 L322.4 192.2 L322.4 208.5 Q322.4 213 318.4 213 Q314.4 213 314.4 208.5 Z" fill="url(#coneFadeE)"/>
<rect x="329" y="183.5" width="10.2" height="32" fill="#e4e4e1" stroke="none" stroke-width="1" rx="2"/>
<rect x="329.3" y="180.5" width="9.6" height="4.5" fill="#dcdbd6" stroke="none" stroke-width="1"/>
<path d="M330.1 193.2 L338.1 193.2 L338.1 208.5 Q338.1 213 334.1 213 Q330.1 213 330.1 208.5 Z" fill="#895a70"/>
<path d="M330.1 193.2 L338.1 193.2 L338.1 208.5 Q338.1 213 334.1 213 Q330.1 213 330.1 208.5 Z" fill="url(#coneFadeE)"/>
<rect x="344.3" y="183.5" width="10.2" height="32" fill="#e4e4e1" stroke="none" stroke-width="1" rx="2"/>
<rect x="344.6" y="180.5" width="9.6" height="4.5" fill="#dcdbd6" stroke="none" stroke-width="1"/>
<path d="M345.4 193.4 L353.4 193.4 L353.4 208.5 Q353.4 213 349.4 213 Q345.4 213 345.4 208.5 Z" fill="#9e7e7d"/>
<path d="M345.4 193.4 L353.4 193.4 L353.4 208.5 Q353.4 213 349.4 213 Q345.4 213 345.4 208.5 Z" fill="url(#coneFadeE)"/>
<rect x="358.4" y="183.5" width="10.2" height="32" fill="#e4e4e1" stroke="none" stroke-width="1" rx="2"/>
<rect x="358.7" y="180.5" width="9.6" height="4.5" fill="#dcdbd6" stroke="none" stroke-width="1"/>
<path d="M359.5 194.3 L367.5 194.3 L367.5 208.5 Q367.5 213 363.5 213 Q359.5 213 359.5 208.5 Z" fill="#d6d198"/>
<path d="M359.5 194.3 L367.5 194.3 L367.5 208.5 Q367.5 213 363.5 213 Q359.5 213 359.5 208.5 Z" fill="url(#coneFadeE)"/>
</g>
<line x1="381" y1="185.5" x2="397.8" y2="185.5" stroke="#444444" stroke-width="1"/>
<text x="0" y="0" font-family='"Liberation Sans", sans-serif' font-size="9.4" font-weight="bold" text-anchor="start" fill="#111" transform="translate(401.8 188.9) scale(0.9 1)">0 μg/mL</text>
<line x1="381" y1="196.5" x2="397.8" y2="196.5" stroke="#f04848" stroke-width="1"/>
<text x="0" y="0" font-family='"Liberation Sans", sans-serif' font-size="9.4" font-weight="bold" text-anchor="start" fill="#111" transform="translate(401.8 199.9) scale(0.9 1)">4 μg/mL</text>
<line x1="381" y1="206.5" x2="397.8" y2="206.5" stroke="#3a7ae6" stroke-width="1"/>
<text x="0" y="0" font-family='"Liberation Sans", sans-serif' font-size="9.4" font-weight="bold" text-anchor="start" fill="#111" transform="translate(401.8 209.9) scale(0.9 1)">8 μg/mL</text>
<line x1="381" y1="217.5" x2="397.8" y2="217.5" stroke="#34b06c" stroke-width="1"/>
<text x="0" y="0" font-family='"Liberation Sans", sans-serif' font-size="9.4" font-weight="bold" text-anchor="start" fill="#111" transform="translate(401.8 220.9) scale(0.9 1)">12 μg/mL</text>
<line x1="381" y1="228.5" x2="397.8" y2="228.5" stroke="#b070ea" stroke-width="1"/>
<text x="0" y="0" font-family='"Liberation Sans", sans-serif' font-size="9.4" font-weight="bold" text-anchor="start" fill="#111" transform="translate(401.8 231.9) scale(0.9 1)">16 μg/mL</text>
<line x1="381" y1="239.5" x2="397.8" y2="239.5" stroke="#d8a028" stroke-width="1"/>
<text x="0" y="0" font-family='"Liberation Sans", sans-serif' font-size="9.4" font-weight="bold" text-anchor="start" fill="#111" transform="translate(401.8 242.9) scale(0.9 1)">20 μg/mL</text>
<defs><clipPath id="clipE"><rect x="273.8" y="174" width="171.8" height="138.4"/></clipPath></defs>
<path d="M273.8,257.7 274.2,256.9 274.7,256.1 275.1,254.9 275.5,253.7 275.9,252.5 276.4,251.2 276.8,249.7 277.2,248.6 277.7,247.3 278.1,246.5 278.5,245.2 279,244 279.4,243.1 279.8,241.9 280.2,241.2 280.7,240.2 281.1,239.5 281.5,238.7 282,238.2 282.4,237.7 282.8,237.4 283.2,237.1 283.7,236.9 284.1,236.9 284.5,236.9 285,236.8 285.4,237.2 285.8,237.3 286.3,237.9 286.7,238.4 287.1,239 287.5,239.5 288,240.3 288.4,241.3 288.8,242.3 289.3,243.5 289.7,244.6 290.1,246 290.6,247.6 291,249.2 291.4,250.8 291.8,252.8 292.3,254.2 292.7,256.1 293.1,258.1 293.6,260 294,262.2 294.4,264.2 294.8,266.3 295.3,268.1 295.7,270 296.1,271.4 296.6,272.6 297,273.4 297.4,274.2 297.9,275.2 298.3,276.1 298.7,276.7 299.1,277.4 299.6,278.1 300,278.7 300.4,279.4 300.9,279.9 301.3,280.4 301.7,281 302.1,281.5 302.6,282 303,282.2 303.4,282.7 303.9,282.9 304.3,283.2 304.7,283.5 305.2,283.9 305.6,284.2 306,284.4 306.4,284.6 306.9,284.9 307.3,285 307.7,285.5 308.2,285.6 308.6,285.7 309,285.9 309.4,286.1 309.9,286.4 310.3,286.5 310.7,286.7 311.2,286.7 311.6,286.9 312,287.2 312.5,287.1 312.9,287.4 313.3,287.4 313.7,287.3 314.2,287.5 314.6,287.4 315,287.5 315.5,287.7 315.9,287.6 316.3,287.6 316.8,287.6 317.2,287.5 317.6,287.6 318,287.5 318.5,287.6 318.9,287.6 319.3,287.4 319.8,287.5 320.2,287.4 320.6,287.3 321,287.3 321.5,287.3 321.9,287.3 322.3,287.1 322.8,287.2 323.2,287 323.6,287 324.1,286.8 324.5,286.8 324.9,286.7 325.3,286.6 325.8,286.6 326.2,286.5 326.6,286.2 327.1,286.3 327.5,286 327.9,285.9 328.3,285.9 328.8,285.9 329.2,285.8 329.6,285.5 330.1,285.5 330.5,285.3 330.9,285.2 331.4,285.1 331.8,284.9 332.2,284.8 332.6,284.6 333.1,284.4 333.5,284.3 333.9,284.2 334.4,284 334.8,283.8 335.2,283.7 335.6,283.5 336.1,283.2 336.5,283.1 336.9,282.8 337.4,282.8 337.8,282.4 338.2,282.3 338.7,282.1 339.1,281.9 339.5,281.7 339.9,281.6 340.4,281.2 340.8,281.1 341.2,280.8 341.7,280.6 342.1,280.3 342.5,280 342.9,279.7 343.4,279.3 343.8,279.1 344.2,278.7 344.7,278.4 345.1,278 345.5,277.5 346,277.2 346.4,276.9 346.8,276.5 347.2,276 347.7,275.5 348.1,275.3 348.5,274.7 349,274.3 349.4,273.8 349.8,273.4 350.3,272.9 350.7,272.5 351.1,271.9 351.5,271.6 352,270.9 352.4,270.5 352.8,270 353.3,269.5 353.7,268.9 354.1,268.2 354.5,267.6 355,267.1 355.4,266.5 355.8,265.9 356.3,265.3 356.7,264.7 357.1,264.1 357.6,263.4 358,262.8 358.4,262.3 358.8,261.9 359.3,261.4 359.7,260.9 360.1,260.4 360.6,260.1 361,259.4 361.4,258.9 361.8,258.3 362.3,257.9 362.7,257.6 363.1,257.6 363.6,257.2 364,257.1 364.4,256.8 364.9,256.3 365.3,256.2 365.7,255.9 366.1,255.9 366.6,255.7 367,255.7 367.4,255.7 367.9,255.9 368.3,256 368.7,256.2 369.1,256.5 369.6,256.9 370,257.1 370.4,257.6 370.9,258 371.3,258.6 371.7,258.9 372.2,259.5 372.6,260 373,260.8 373.4,261.2 373.9,261.9 374.3,262.7 374.7,263.2 375.2,263.7 375.6,264.1 376,264.4 376.5,264.8 376.9,265.1 377.3,265.4 377.7,265.9 378.2,266.3 378.6,266.8 379,267.1 379.5,267.5 379.9,268 380.3,268.3 380.7,268.7 381.2,269.3 381.6,269.7 382,270 382.5,270.3 382.9,270.8 383.3,271.1 383.8,271.4 384.2,271.8 384.6,272.3 385,272.6 385.5,273 385.9,273.3 386.3,273.5 386.8,273.9 387.2,274.2 387.6,274.5 388,274.9 388.5,275.2 388.9,275.5 389.3,275.7 389.8,276 390.2,276.4 390.6,276.8 391.1,277 391.5,277.2 391.9,277.5 392.3,277.8 392.8,277.9 393.2,278.2 393.6,278.2 394.1,278.5 394.5,278.5 394.9,278.8 395.3,278.9 395.8,278.8 396.2,279.1 396.6,279.3 397.1,279.3 397.5,279.5 397.9,279.6 398.4,279.8 398.8,279.9 399.2,280 399.6,280.2 400.1,280.2 400.5,280.6 400.9,280.5 401.4,280.8 401.8,280.9 402.2,281.1 402.7,281.2 403.1,281.1 403.5,281.4 403.9,281.4 404.4,281.7 404.8,281.8 405.2,282 405.7,282 406.1,282 406.5,282.2 406.9,282.4 407.4,282.4 407.8,282.5 408.2,282.7 408.7,282.9 409.1,282.9 409.5,283.1 410,283.1 410.4,283.4 410.8,283.4 411.2,283.6 411.7,283.7 412.1,283.8 412.5,283.9 413,284 413.4,284.2 413.8,284.3 414.2,284.3 414.7,284.7 415.1,284.6 415.5,284.7 416,284.9 416.4,285 416.8,285 417.3,285.1 417.7,285.3 418.1,285.4 418.5,285.6 419,285.7 419.4,285.8 419.8,285.7 420.3,285.8 420.7,286.1 421.1,286.1 421.5,286.2 422,286.4 422.4,286.4 422.8,286.5 423.3,286.6 423.7,286.8 424.1,286.7 424.6,286.9 425,286.9 425.4,287.1 425.8,287 426.3,287.2 426.7,287.2 427.1,287.3 427.6,287.5 428,287.4 428.4,287.5 428.8,287.6 429.3,287.8 429.7,287.9 430.1,287.9 430.6,287.9 431,287.9 431.4,288.1 431.9,288.2 432.3,288.2 432.7,288.2 433.1,288.4 433.6,288.4 434,288.6 434.4,288.6 434.9,288.7 435.3,288.7 435.7,288.8 436.2,288.7 436.6,288.8 437,289.1 437.4,289.1 437.9,289 438.3,289.3 438.7,289.5 439.2,289.6 439.6,289.8 440,290 440.4,290.1 440.9,290.2 441.3,290.3 441.7,290.6 442.2,290.8 442.6,290.7 443,291 443.5,291 443.9,291.2 444.3,291.3 444.7,291.5 445.2,291.7 445.6,291.6" stroke="#444444" stroke-width="1.2" fill="none" stroke-linejoin="round" clip-path="url(#clipE)"/>
<path d="M273.8,256.7 274.2,256 274.7,255.1 275.1,254 275.5,253 275.9,251.7 276.4,250.3 276.8,249.1 277.2,247.9 277.7,246.7 278.1,245.8 278.5,244.6 279,243.7 279.4,242.5 279.8,241.6 280.2,240.7 280.7,239.8 281.1,239.2 281.5,238.6 282,238.1 282.4,237.6 282.8,237.1 283.2,236.9 283.7,236.7 284.1,236.5 284.5,236.7 285,236.7 285.4,236.8 285.8,237 286.3,237.5 286.7,238 287.1,238.5 287.5,239.3 288,239.9 288.4,240.9 288.8,242 289.3,243 289.7,244.1 290.1,245.5 290.6,247 291,248.3 291.4,250 291.8,251.8 292.3,253.3 292.7,254.9 293.1,257 293.6,258.9 294,260.9 294.4,262.8 294.8,264.7 295.3,266.5 295.7,268.2 296.1,269.7 296.6,270.8 297,271.7 297.4,272.6 297.9,273.3 298.3,274 298.7,274.7 299.1,275.6 299.6,276.1 300,276.6 300.4,277.3 300.9,277.7 301.3,278.3 301.7,278.8 302.1,279.3 302.6,279.7 303,280 303.4,280.5 303.9,280.7 304.3,281 304.7,281.4 305.2,281.7 305.6,282.1 306,282.2 306.4,282.4 306.9,282.8 307.3,283.1 307.7,283.3 308.2,283.6 308.6,283.7 309,283.8 309.4,284 309.9,284.4 310.3,284.5 310.7,284.8 311.2,284.8 311.6,285.2 312,285.4 312.5,285.4 312.9,285.7 313.3,285.7 313.7,285.9 314.2,285.9 314.6,285.9 315,285.9 315.5,286.1 315.9,286 316.3,286.2 316.8,286.2 317.2,286.2 317.6,286.3 318,286.3 318.5,286.2 318.9,286.4 319.3,286.2 319.8,286.4 320.2,286.2 320.6,286.2 321,286.3 321.5,286.4 321.9,286.2 322.3,286.4 322.8,286.2 323.2,286.2 323.6,286.3 324.1,286.1 324.5,286 324.9,286 325.3,286 325.8,285.9 326.2,285.8 326.6,285.8 327.1,285.6 327.5,285.5 327.9,285.4 328.3,285.3 328.8,285.4 329.2,285.1 329.6,285.3 330.1,285.1 330.5,285.1 330.9,284.9 331.4,284.7 331.8,284.6 332.2,284.6 332.6,284.5 333.1,284.4 333.5,284.2 333.9,284.1 334.4,284 334.8,283.8 335.2,283.7 335.6,283.6 336.1,283.5 336.5,283.3 336.9,283.2 337.4,283.1 337.8,282.9 338.2,282.7 338.7,282.4 339.1,282.3 339.5,282.1 339.9,281.9 340.4,281.8 340.8,281.6 341.2,281.5 341.7,281.3 342.1,281.1 342.5,280.6 342.9,280.4 343.4,280.2 343.8,280 344.2,279.6 344.7,279.4 345.1,278.9 345.5,278.5 346,278.4 346.4,278.1 346.8,277.7 347.2,277.3 347.7,276.8 348.1,276.5 348.5,276.2 349,275.9 349.4,275.5 349.8,275.1 350.3,274.5 350.7,274.1 351.1,273.6 351.5,273.2 352,272.8 352.4,272.4 352.8,271.8 353.3,271.5 353.7,271 354.1,270.4 354.5,269.8 355,269.4 355.4,268.8 355.8,268.4 356.3,267.6 356.7,267.2 357.1,266.6 357.6,266.1 358,265.7 358.4,265.2 358.8,264.8 359.3,264.3 359.7,263.9 360.1,263.7 360.6,263.5 361,262.7 361.4,262.1 361.8,261.8 362.3,261.6 362.7,261.2 363.1,261 363.6,260.9 364,260.7 364.4,260.3 364.9,260.1 365.3,260 365.7,259.8 366.1,259.6 366.6,259.5 367,259.6 367.4,259.6 367.9,259.8 368.3,259.9 368.7,259.9 369.1,260.3 369.6,260.6 370,260.8 370.4,261.3 370.9,261.7 371.3,262 371.7,262.4 372.2,262.9 372.6,263.3 373,263.9 373.4,264.6 373.9,265 374.3,265.7 374.7,266.2 375.2,266.6 375.6,266.9 376,267.2 376.5,267.7 376.9,267.9 377.3,268.3 377.7,268.7 378.2,269.2 378.6,269.4 379,269.8 379.5,270.3 379.9,270.7 380.3,270.8 380.7,271.4 381.2,271.7 381.6,272 382,272.3 382.5,272.7 382.9,273 383.3,273.5 383.8,273.8 384.2,273.9 384.6,274.3 385,274.8 385.5,275.1 385.9,275.4 386.3,275.5 386.8,276 387.2,276.2 387.6,276.4 388,276.7 388.5,277 388.9,277.4 389.3,277.7 389.8,278 390.2,278.1 390.6,278.5 391.1,278.6 391.5,278.9 391.9,279.3 392.3,279.4 392.8,279.7 393.2,279.7 393.6,279.9 394.1,279.9 394.5,280 394.9,280.1 395.3,280.5 395.8,280.4 396.2,280.6 396.6,280.7 397.1,280.9 397.5,281 397.9,281.1 398.4,281.2 398.8,281.5 399.2,281.7 399.6,281.7 400.1,281.8 400.5,281.9 400.9,282.2 401.4,282.1 401.8,282.4 402.2,282.3 402.7,282.4 403.1,282.6 403.5,282.8 403.9,282.8 404.4,283.1 404.8,283.1 405.2,283.3 405.7,283.2 406.1,283.4 406.5,283.6 406.9,283.8 407.4,283.7 407.8,283.8 408.2,283.9 408.7,284.2 409.1,284.2 409.5,284.4 410,284.4 410.4,284.6 410.8,284.6 411.2,284.7 411.7,284.8 412.1,285.1 412.5,285.2 413,285.3 413.4,285.3 413.8,285.4 414.2,285.5 414.7,285.7 415.1,285.8 415.5,285.8 416,285.9 416.4,285.9 416.8,286.1 417.3,286.2 417.7,286.2 418.1,286.4 418.5,286.5 419,286.7 419.4,286.7 419.8,286.7 420.3,286.9 420.7,286.9 421.1,287.2 421.5,287.1 422,287.3 422.4,287.3 422.8,287.5 423.3,287.6 423.7,287.7 424.1,287.7 424.6,287.9 425,287.9 425.4,287.8 425.8,288 426.3,288 426.7,288.1 427.1,288.2 427.6,288.2 428,288.3 428.4,288.5 428.8,288.6 429.3,288.6 429.7,288.8 430.1,288.8 430.6,288.7 431,288.8 431.4,289 431.9,289 432.3,289.1 432.7,289.1 433.1,289.2 433.6,289.3 434,289.5 434.4,289.4 434.9,289.6 435.3,289.6 435.7,289.7 436.2,289.7 436.6,289.7 437,290 437.4,290 437.9,290 438.3,290.2 438.7,290.2 439.2,290.5 439.6,290.5 440,290.7 440.4,290.8 440.9,291.1 441.3,291.2 441.7,291.4 442.2,291.3 442.6,291.7 443,291.8 443.5,291.8 443.9,291.8 444.3,292.1 444.7,292.1 445.2,292.2 445.6,292.2" stroke="#f04848" stroke-width="1.2" fill="none" stroke-linejoin="round" clip-path="url(#clipE)"/>
<path d="M273.8,255.2 274.2,254.5 274.7,253.8 275.1,252.8 275.5,251.7 275.9,250.4 276.4,249.3 276.8,248.1 277.2,246.7 277.7,245.7 278.1,244.8 278.5,243.8 279,242.8 279.4,241.8 279.8,241.1 280.2,240.3 280.7,239.6 281.1,238.9 281.5,238.3 282,237.8 282.4,237.4 282.8,236.9 283.2,236.5 283.7,236.4 284.1,236.3 284.5,236.2 285,236.4 285.4,236.6 285.8,236.8 286.3,237.2 286.7,237.6 287.1,238.2 287.5,238.7 288,239.6 288.4,240.3 288.8,241.3 289.3,242.2 289.7,243.5 290.1,244.5 290.6,246 291,247.3 291.4,248.8 291.8,250.5 292.3,252 292.7,253.6 293.1,255.3 293.6,256.9 294,258.9 294.4,260.6 294.8,262.4 295.3,264 295.7,265.7 296.1,267.2 296.6,268.2 297,268.9 297.4,269.9 297.9,270.6 298.3,271.3 298.7,272.1 299.1,272.7 299.6,273.3 300,273.6 300.4,274.3 300.9,274.6 301.3,275.2 301.7,275.6 302.1,276.2 302.6,276.4 303,276.8 303.4,277.1 303.9,277.4 304.3,277.8 304.7,278.1 305.2,278.3 305.6,278.7 306,279 306.4,279.2 306.9,279.6 307.3,279.9 307.7,280.2 308.2,280.4 308.6,280.7 309,280.8 309.4,281.1 309.9,281.3 310.3,281.7 310.7,281.8 311.2,282 311.6,282.4 312,282.7 312.5,282.8 312.9,283 313.3,283.1 313.7,283.2 314.2,283.5 314.6,283.6 315,283.6 315.5,283.8 315.9,283.9 316.3,284 316.8,284.1 317.2,284.2 317.6,284.3 318,284.3 318.5,284.3 318.9,284.5 319.3,284.7 319.8,284.7 320.2,284.6 320.6,284.7 321,284.7 321.5,284.7 321.9,284.8 322.3,285 322.8,284.8 323.2,284.9 323.6,285 324.1,285.1 324.5,284.9 324.9,285.1 325.3,285.1 325.8,285 326.2,284.8 326.6,284.9 327.1,284.8 327.5,284.9 327.9,284.8 328.3,284.8 328.8,284.7 329.2,284.6 329.6,284.6 330.1,284.6 330.5,284.4 330.9,284.4 331.4,284.5 331.8,284.5 332.2,284.2 332.6,284.2 333.1,284.3 333.5,284.1 333.9,284 334.4,284 334.8,284 335.2,283.9 335.6,283.8 336.1,283.7 336.5,283.7 336.9,283.5 337.4,283.4 337.8,283.3 338.2,283.2 338.7,283.2 339.1,283 339.5,283 339.9,282.9 340.4,282.6 340.8,282.4 341.2,282.5 341.7,282.3 342.1,282.1 342.5,281.8 342.9,281.7 343.4,281.5 343.8,281.1 344.2,280.9 344.7,280.6 345.1,280.5 345.5,280.2 346,280.1 346.4,279.6 346.8,279.5 347.2,279.1 347.7,278.8 348.1,278.4 348.5,278.2 349,277.8 349.4,277.6 349.8,277.4 350.3,276.9 350.7,276.7 351.1,276.1 351.5,275.9 352,275.6 352.4,275.1 352.8,274.8 353.3,274.4 353.7,274 354.1,273.5 354.5,273.3 355,272.7 355.4,272.4 355.8,271.8 356.3,271.6 356.7,271 357.1,270.8 357.6,270.3 358,269.9 358.4,269.5 358.8,269.3 359.3,268.9 359.7,268.7 360.1,268.2 360.6,268.1 361,267.7 361.4,267.2 361.8,266.9 362.3,266.6 362.7,266.7 363.1,266.5 363.6,266.3 364,266 364.4,265.8 364.9,265.6 365.3,265.4 365.7,265.3 366.1,265.2 366.6,265.1 367,265.3 367.4,265.1 367.9,265.3 368.3,265.5 368.7,265.4 369.1,265.8 369.6,266.1 370,266.3 370.4,266.7 370.9,266.8 371.3,267.1 371.7,267.6 372.2,267.9 372.6,268.3 373,268.7 373.4,269.2 373.9,269.6 374.3,270.2 374.7,270.7 375.2,270.9 375.6,271.2 376,271.5 376.5,271.8 376.9,272.1 377.3,272.6 377.7,273 378.2,273.1 378.6,273.5 379,274 379.5,274.2 379.9,274.6 380.3,274.9 380.7,275.1 381.2,275.4 381.6,275.6 382,276.1 382.5,276.2 382.9,276.5 383.3,276.8 383.8,277.1 384.2,277.3 384.6,277.8 385,277.9 385.5,278.1 385.9,278.4 386.3,278.7 386.8,279 387.2,279.1 387.6,279.4 388,279.8 388.5,279.9 388.9,280 389.3,280.5 389.8,280.7 390.2,280.7 390.6,281 391.1,281.4 391.5,281.4 391.9,281.7 392.3,281.8 392.8,281.9 393.2,282.2 393.6,282.3 394.1,282.4 394.5,282.6 394.9,282.7 395.3,282.8 395.8,282.9 396.2,283 396.6,283.2 397.1,283.2 397.5,283.2 397.9,283.4 398.4,283.6 398.8,283.6 399.2,283.8 399.6,283.9 400.1,284 400.5,284.2 400.9,284.1 401.4,284.4 401.8,284.4 402.2,284.4 402.7,284.5 403.1,284.6 403.5,284.8 403.9,284.9 404.4,285 404.8,285 405.2,285.3 405.7,285.2 406.1,285.5 406.5,285.6 406.9,285.5 407.4,285.7 407.8,285.7 408.2,285.8 408.7,286 409.1,286.2 409.5,286.3 410,286.3 410.4,286.3 410.8,286.5 411.2,286.7 411.7,286.8 412.1,286.8 412.5,286.8 413,287.1 413.4,287.1 413.8,287.2 414.2,287.2 414.7,287.2 415.1,287.5 415.5,287.6 416,287.4 416.4,287.5 416.8,287.8 417.3,287.8 417.7,287.9 418.1,288 418.5,288.1 419,288.1 419.4,288.3 419.8,288.4 420.3,288.5 420.7,288.5 421.1,288.6 421.5,288.6 422,288.6 422.4,288.8 422.8,288.8 423.3,288.9 423.7,289 424.1,289.1 424.6,289.2 425,289.1 425.4,289.3 425.8,289.5 426.3,289.5 426.7,289.5 427.1,289.6 427.6,289.6 428,289.8 428.4,289.7 428.8,289.8 429.3,290.1 429.7,290 430.1,290.2 430.6,290.1 431,290.2 431.4,290.3 431.9,290.5 432.3,290.6 432.7,290.5 433.1,290.6 433.6,290.8 434,290.8 434.4,290.8 434.9,291 435.3,291 435.7,291.1 436.2,291.2 436.6,291.2 437,291.3 437.4,291.3 437.9,291.6 438.3,291.5 438.7,291.7 439.2,291.8 439.6,291.9 440,292 440.4,292.1 440.9,292.1 441.3,292.4 441.7,292.5 442.2,292.5 442.6,292.7 443,292.8 443.5,292.9 443.9,292.9 444.3,292.9 444.7,293 445.2,293 445.6,293.1" stroke="#3a7ae6" stroke-width="1.2" fill="none" stroke-linejoin="round" clip-path="url(#clipE)"/>
<path d="M273.8,254 274.2,253.4 274.7,252.5 275.1,251.7 275.5,250.5 275.9,249.5 276.4,248.4 276.8,247.1 277.2,246.1 277.7,244.9 278.1,244 278.5,243.1 279,242.3 279.4,241.4 279.8,240.5 280.2,239.8 280.7,239.1 281.1,238.4 281.5,237.9 282,237.4 282.4,237.1 282.8,236.8 283.2,236.4 283.7,236.2 284.1,236.1 284.5,236 285,236.1 285.4,236.3 285.8,236.5 286.3,236.8 286.7,237.2 287.1,237.8 287.5,238.4 288,239 288.4,239.8 288.8,240.7 289.3,241.8 289.7,242.8 290.1,243.9 290.6,245.2 291,246.6 291.4,247.8 291.8,249.4 292.3,250.9 292.7,252.3 293.1,253.8 293.6,255.5 294,257.2 294.4,258.7 294.8,260.4 295.3,262.1 295.7,263.6 296.1,264.9 296.6,266 297,266.7 297.4,267.8 297.9,268.4 298.3,269 298.7,269.7 299.1,270.3 299.6,270.8 300,271.3 300.4,271.7 300.9,272 301.3,272.6 301.7,273.1 302.1,273.3 302.6,273.7 303,274.1 303.4,274.4 303.9,274.7 304.3,274.9 304.7,275.4 305.2,275.7 305.6,275.9 306,276.1 306.4,276.5 306.9,276.9 307.3,277 307.7,277.4 308.2,277.8 308.6,278.1 309,278.3 309.4,278.6 309.9,279 310.3,279.3 310.7,279.3 311.2,279.8 311.6,279.9 312,280.3 312.5,280.6 312.9,280.8 313.3,280.9 313.7,281 314.2,281.4 314.6,281.4 315,281.7 315.5,281.9 315.9,281.9 316.3,282.2 316.8,282.4 317.2,282.4 317.6,282.5 318,282.6 318.5,282.8 318.9,283.1 319.3,283 319.8,283.2 320.2,283.2 320.6,283.3 321,283.6 321.5,283.5 321.9,283.6 322.3,283.8 322.8,283.9 323.2,284 323.6,284 324.1,284.1 324.5,284.2 324.9,284.2 325.3,284.1 325.8,284.2 326.2,284.2 326.6,284.1 327.1,284.2 327.5,284.3 327.9,284.1 328.3,284.1 328.8,284.1 329.2,284.2 329.6,284.1 330.1,284.1 330.5,284.3 330.9,284.1 331.4,284.2 331.8,284.1 332.2,284.2 332.6,284.1 333.1,284.1 333.5,284 333.9,284.1 334.4,283.9 334.8,283.9 335.2,283.8 335.6,284 336.1,283.7 336.5,283.7 336.9,283.7 337.4,283.6 337.8,283.7 338.2,283.4 338.7,283.4 339.1,283.4 339.5,283.3 339.9,283.1 340.4,283 340.8,282.8 341.2,282.8 341.7,282.7 342.1,282.5 342.5,282.4 342.9,282.2 343.4,282.1 343.8,281.7 344.2,281.6 344.7,281.5 345.1,281.2 345.5,280.8 346,280.7 346.4,280.4 346.8,280.2 347.2,279.9 347.7,279.6 348.1,279.5 348.5,279.1 349,278.8 349.4,278.6 349.8,278.2 350.3,278 350.7,277.8 351.1,277.3 351.5,277.1 352,276.9 352.4,276.4 352.8,276 353.3,275.7 353.7,275.3 354.1,275 354.5,274.5 355,274.2 355.4,273.9 355.8,273.5 356.3,273.2 356.7,272.7 357.1,272.4 357.6,272.2 358,271.7 358.4,271.6 358.8,271.1 359.3,270.9 359.7,270.6 360.1,270.4 360.6,270.3 361,269.8 361.4,269.4 361.8,269.2 362.3,269.1 362.7,269 363.1,268.7 363.6,268.5 364,268.5 364.4,268.1 364.9,267.9 365.3,267.9 365.7,267.8 366.1,267.7 366.6,267.6 367,267.8 367.4,267.8 367.9,267.9 368.3,267.8 368.7,268.1 369.1,268.2 369.6,268.4 370,268.6 370.4,269.1 370.9,269.2 371.3,269.4 371.7,269.8 372.2,270.1 372.6,270.6 373,270.8 373.4,271.3 373.9,271.6 374.3,272 374.7,272.6 375.2,272.7 375.6,273.2 376,273.6 376.5,273.8 376.9,274 377.3,274.3 377.7,274.6 378.2,275.1 378.6,275.3 379,275.7 379.5,276 379.9,276.2 380.3,276.4 380.7,276.8 381.2,277 381.6,277.4 382,277.6 382.5,277.8 382.9,278.1 383.3,278.3 383.8,278.7 384.2,279 384.6,279.1 385,279.3 385.5,279.5 385.9,279.9 386.3,280.1 386.8,280.3 387.2,280.6 387.6,280.7 388,280.9 388.5,281.3 388.9,281.4 389.3,281.6 389.8,281.8 390.2,282 390.6,282.2 391.1,282.5 391.5,282.5 391.9,282.7 392.3,283.1 392.8,283 393.2,283.2 393.6,283.4 394.1,283.5 394.5,283.5 394.9,283.6 395.3,283.9 395.8,283.9 396.2,284 396.6,284 397.1,284.2 397.5,284.2 397.9,284.5 398.4,284.6 398.8,284.7 399.2,284.8 399.6,284.8 400.1,285 400.5,285.1 400.9,285.2 401.4,285.3 401.8,285.4 402.2,285.5 402.7,285.5 403.1,285.7 403.5,285.7 403.9,285.8 404.4,285.8 404.8,286 405.2,286 405.7,286.2 406.1,286.4 406.5,286.3 406.9,286.5 407.4,286.6 407.8,286.7 408.2,286.7 408.7,286.7 409.1,286.9 409.5,287 410,287.1 410.4,287.2 410.8,287.2 411.2,287.4 411.7,287.5 412.1,287.4 412.5,287.6 413,287.8 413.4,287.7 413.8,287.8 414.2,288 414.7,288 415.1,288 415.5,288.2 416,288.3 416.4,288.4 416.8,288.4 417.3,288.5 417.7,288.5 418.1,288.5 418.5,288.8 419,288.8 419.4,288.8 419.8,288.9 420.3,289 420.7,289 421.1,289.2 421.5,289.1 422,289.3 422.4,289.4 422.8,289.5 423.3,289.6 423.7,289.5 424.1,289.6 424.6,289.9 425,289.9 425.4,289.9 425.8,290 426.3,290.1 426.7,290 427.1,290.2 427.6,290.3 428,290.2 428.4,290.4 428.8,290.5 429.3,290.6 429.7,290.7 430.1,290.7 430.6,290.7 431,290.9 431.4,291 431.9,291 432.3,291.1 432.7,291 433.1,291.2 433.6,291.4 434,291.4 434.4,291.4 434.9,291.6 435.3,291.6 435.7,291.8 436.2,291.8 436.6,291.9 437,291.8 437.4,292.1 437.9,292.1 438.3,292.3 438.7,292.3 439.2,292.3 439.6,292.4 440,292.5 440.4,292.5 440.9,292.7 441.3,292.8 441.7,293.1 442.2,292.9 442.6,293.2 443,293.3 443.5,293.2 443.9,293.3 444.3,293.5 444.7,293.6 445.2,293.5 445.6,293.6" stroke="#34b06c" stroke-width="1.2" fill="none" stroke-linejoin="round" clip-path="url(#clipE)"/>
<path d="M273.8,252.7 274.2,252.1 274.7,251.5 275.1,250.6 275.5,249.6 275.9,248.5 276.4,247.2 276.8,246.1 277.2,245.2 277.7,244.2 278.1,243.4 278.5,242.4 279,241.5 279.4,240.6 279.8,240.1 280.2,239.2 280.7,238.7 281.1,238.2 281.5,237.7 282,237.3 282.4,236.7 282.8,236.3 283.2,236.1 283.7,236 284.1,235.9 284.5,235.8 285,235.8 285.4,235.9 285.8,236.3 286.3,236.5 286.7,236.9 287.1,237.5 287.5,238 288,238.6 288.4,239.4 288.8,240.3 289.3,241.1 289.7,242.1 290.1,243.2 290.6,244.4 291,245.5 291.4,246.9 291.8,248.4 292.3,249.6 292.7,251.1 293.1,252.5 293.6,253.9 294,255.4 294.4,257.1 294.8,258.4 295.3,259.9 295.7,261.4 296.1,262.8 296.6,263.6 297,264.6 297.4,265.4 297.9,266.1 298.3,266.7 298.7,267.3 299.1,267.7 299.6,268.2 300,268.6 300.4,269.1 300.9,269.6 301.3,269.9 301.7,270.3 302.1,270.5 302.6,270.9 303,271.2 303.4,271.5 303.9,271.8 304.3,272.2 304.7,272.6 305.2,272.8 305.6,273.3 306,273.5 306.4,273.9 306.9,274.1 307.3,274.5 307.7,274.9 308.2,275.1 308.6,275.6 309,275.7 309.4,276.1 309.9,276.5 310.3,276.7 310.7,277.1 311.2,277.3 311.6,277.7 312,278 312.5,278.2 312.9,278.6 313.3,278.7 313.7,279.1 314.2,279.3 314.6,279.6 315,279.6 315.5,279.9 315.9,280.1 316.3,280.4 316.8,280.5 317.2,280.7 317.6,281 318,281.1 318.5,281.2 318.9,281.5 319.3,281.6 319.8,281.9 320.2,282 320.6,282 321,282.1 321.5,282.3 321.9,282.6 322.3,282.6 322.8,282.7 323.2,282.8 323.6,283 324.1,283 324.5,283.2 324.9,283.2 325.3,283.4 325.8,283.5 326.2,283.4 326.6,283.7 327.1,283.6 327.5,283.8 327.9,283.6 328.3,283.7 328.8,283.7 329.2,283.9 329.6,283.8 330.1,283.9 330.5,284 330.9,283.9 331.4,284.1 331.8,284 332.2,284.1 332.6,283.9 333.1,283.9 333.5,284.1 333.9,284 334.4,284 334.8,283.9 335.2,283.9 335.6,284 336.1,283.8 336.5,284 336.9,284 337.4,283.7 337.8,283.9 338.2,283.8 338.7,283.6 339.1,283.6 339.5,283.6 339.9,283.3 340.4,283.3 340.8,283.1 341.2,283.1 341.7,282.8 342.1,282.9 342.5,282.6 342.9,282.5 343.4,282.2 343.8,282.1 344.2,282 344.7,281.8 345.1,281.5 345.5,281.4 346,281.3 346.4,280.9 346.8,280.7 347.2,280.5 347.7,280.3 348.1,280.2 348.5,279.9 349,279.6 349.4,279.3 349.8,279 350.3,278.9 350.7,278.5 351.1,278.2 351.5,278 352,277.7 352.4,277.4 352.8,277 353.3,276.7 353.7,276.4 354.1,276.1 354.5,275.7 355,275.3 355.4,275 355.8,274.8 356.3,274.3 356.7,274.1 357.1,273.7 357.6,273.4 358,273.3 358.4,272.9 358.8,272.5 359.3,272.4 359.7,272.1 360.1,272 360.6,271.8 361,271.5 361.4,271.3 361.8,271 362.3,270.8 362.7,270.6 363.1,270.4 363.6,270.3 364,270.2 364.4,269.9 364.9,269.9 365.3,269.8 365.7,269.6 366.1,269.6 366.6,269.7 367,269.6 367.4,269.7 367.9,269.6 368.3,269.8 368.7,269.7 369.1,270.1 369.6,270.3 370,270.5 370.4,270.9 370.9,271 371.3,271.4 371.7,271.5 372.2,271.8 372.6,272.1 373,272.4 373.4,272.7 373.9,273.2 374.3,273.5 374.7,274.1 375.2,274.4 375.6,274.6 376,274.8 376.5,275.2 376.9,275.5 377.3,275.9 377.7,276.1 378.2,276.3 378.6,276.7 379,277 379.5,277.4 379.9,277.6 380.3,277.9 380.7,277.9 381.2,278.4 381.6,278.4 382,278.8 382.5,278.9 382.9,279.2 383.3,279.5 383.8,279.6 384.2,280 384.6,280.1 385,280.5 385.5,280.5 385.9,280.7 386.3,281.2 386.8,281.2 387.2,281.6 387.6,281.8 388,282 388.5,282.1 388.9,282.2 389.3,282.4 389.8,282.6 390.2,282.9 390.6,283.1 391.1,283.4 391.5,283.4 391.9,283.6 392.3,283.8 392.8,283.8 393.2,284.1 393.6,284.2 394.1,284.3 394.5,284.4 394.9,284.4 395.3,284.5 395.8,284.7 396.2,284.8 396.6,284.8 397.1,285 397.5,285.1 397.9,285.2 398.4,285.4 398.8,285.5 399.2,285.5 399.6,285.6 400.1,285.6 400.5,285.8 400.9,285.8 401.4,286 401.8,286.1 402.2,286.1 402.7,286.2 403.1,286.4 403.5,286.3 403.9,286.6 404.4,286.5 404.8,286.6 405.2,286.8 405.7,286.8 406.1,286.8 406.5,287 406.9,287.2 407.4,287.3 407.8,287.4 408.2,287.4 408.7,287.5 409.1,287.5 409.5,287.6 410,287.8 410.4,287.8 410.8,287.8 411.2,288 411.7,288.1 412.1,288.2 412.5,288.2 413,288.2 413.4,288.3 413.8,288.4 414.2,288.6 414.7,288.7 415.1,288.7 415.5,288.6 416,288.8 416.4,289 416.8,288.9 417.3,289.1 417.7,289.1 418.1,289.2 418.5,289.3 419,289.2 419.4,289.3 419.8,289.4 420.3,289.6 420.7,289.5 421.1,289.7 421.5,289.7 422,289.9 422.4,289.8 422.8,290.1 423.3,290.1 423.7,290.1 424.1,290.2 424.6,290.3 425,290.2 425.4,290.2 425.8,290.5 426.3,290.6 426.7,290.5 427.1,290.7 427.6,290.7 428,290.7 428.4,290.9 428.8,291 429.3,291.1 429.7,291.1 430.1,291 430.6,291.1 431,291.4 431.4,291.4 431.9,291.5 432.3,291.6 432.7,291.6 433.1,291.7 433.6,291.7 434,291.9 434.4,291.8 434.9,291.9 435.3,292.1 435.7,292.2 436.2,292.2 436.6,292.4 437,292.3 437.4,292.4 437.9,292.5 438.3,292.5 438.7,292.8 439.2,292.7 439.6,292.8 440,293.1 440.4,293.1 440.9,293.3 441.3,293.2 441.7,293.3 442.2,293.5 442.6,293.5 443,293.6 443.5,293.6 443.9,293.8 444.3,293.7 444.7,293.9 445.2,294 445.6,294" stroke="#b070ea" stroke-width="1.2" fill="none" stroke-linejoin="round" clip-path="url(#clipE)"/>
<path d="M273.8,249.4 274.2,248.9 274.7,248.3 275.1,247.6 275.5,246.5 275.9,245.6 276.4,244.8 276.8,243.8 277.2,242.8 277.7,242.1 278.1,241.4 278.5,240.6 279,239.8 279.4,239.1 279.8,238.8 280.2,238.1 280.7,237.7 281.1,237.2 281.5,236.9 282,236.4 282.4,236.1 282.8,235.7 283.2,235.5 283.7,235.3 284.1,235.1 284.5,235 285,235.1 285.4,235.2 285.8,235.3 286.3,235.6 286.7,236.1 287.1,236.5 287.5,237 288,237.5 288.4,238.2 288.8,238.8 289.3,239.7 289.7,240.4 290.1,241.3 290.6,242.2 291,243.2 291.4,244.4 291.8,245.7 292.3,246.7 292.7,247.5 293.1,248.6 293.6,249.8 294,251 294.4,252.2 294.8,253.3 295.3,254.5 295.7,255.7 296.1,256.7 296.6,257.9 297,258.8 297.4,259.6 297.9,260.1 298.3,260.6 298.7,260.9 299.1,261.3 299.6,261.8 300,262.1 300.4,262.3 300.9,262.6 301.3,262.8 301.7,263.1 302.1,263.3 302.6,263.7 303,264 303.4,264.2 303.9,264.6 304.3,264.7 304.7,265.2 305.2,265.5 305.6,265.8 306,266.2 306.4,266.7 306.9,267.1 307.3,267.5 307.7,267.8 308.2,268.2 308.6,268.6 309,269.1 309.4,269.5 309.9,269.9 310.3,270.3 310.7,270.6 311.2,271 311.6,271.4 312,271.9 312.5,272.3 312.9,272.7 313.3,272.9 313.7,273.5 314.2,273.8 314.6,274.2 315,274.4 315.5,274.7 315.9,275.2 316.3,275.4 316.8,275.7 317.2,276.2 317.6,276.6 318,276.7 318.5,277.2 318.9,277.5 319.3,277.6 319.8,278.1 320.2,278.4 320.6,278.6 321,279 321.5,279.3 321.9,279.5 322.3,279.7 322.8,280 323.2,280.2 323.6,280.3 324.1,280.7 324.5,280.8 324.9,281 325.3,281.3 325.8,281.6 326.2,281.6 326.6,281.8 327.1,282.1 327.5,282.3 327.9,282.3 328.3,282.4 328.8,282.8 329.2,282.8 329.6,283 330.1,283.2 330.5,283.4 330.9,283.4 331.4,283.4 331.8,283.5 332.2,283.7 332.6,283.9 333.1,283.9 333.5,284 333.9,284 334.4,284.1 334.8,284 335.2,284.2 335.6,284 336.1,284.3 336.5,284.1 336.9,284.3 337.4,284.2 337.8,284.3 338.2,284.3 338.7,284.1 339.1,284.1 339.5,284.2 339.9,284 340.4,284 340.8,283.9 341.2,284 341.7,283.9 342.1,283.8 342.5,283.6 342.9,283.5 343.4,283.4 343.8,283.3 344.2,283.2 344.7,283 345.1,283 345.5,282.9 346,282.6 346.4,282.5 346.8,282.2 347.2,282.3 347.7,282.1 348.1,282 348.5,281.9 349,281.7 349.4,281.5 349.8,281.2 350.3,281 350.7,280.8 351.1,280.6 351.5,280.3 352,280.1 352.4,279.7 352.8,279.7 353.3,279.3 353.7,279.1 354.1,278.9 354.5,278.5 355,278.4 355.4,278 355.8,278 356.3,277.8 356.7,277.5 357.1,277.3 357.6,277.2 358,277 358.4,276.6 358.8,276.6 359.3,276.5 359.7,276.2 360.1,276.1 360.6,276 361,275.8 361.4,275.6 361.8,275.6 362.3,275.5 362.7,275.3 363.1,275.3 363.6,275.2 364,275.1 364.4,274.8 364.9,274.8 365.3,274.7 365.7,274.7 366.1,274.7 366.6,274.6 367,274.7 367.4,274.6 367.9,274.7 368.3,274.7 368.7,274.9 369.1,275 369.6,275 370,275.3 370.4,275.6 370.9,275.8 371.3,275.9 371.7,276.2 372.2,276.4 372.6,276.5 373,276.8 373.4,277.1 373.9,277.3 374.3,277.7 374.7,277.8 375.2,278.2 375.6,278.4 376,278.8 376.5,279 376.9,279.4 377.3,279.6 377.7,279.8 378.2,280.2 378.6,280.4 379,280.6 379.5,280.8 379.9,281 380.3,281.1 380.7,281.3 381.2,281.6 381.6,281.8 382,281.8 382.5,282.1 382.9,282.2 383.3,282.5 383.8,282.7 384.2,282.8 384.6,283 385,283.2 385.5,283.5 385.9,283.6 386.3,283.9 386.8,283.9 387.2,284 387.6,284.3 388,284.6 388.5,284.6 388.9,284.9 389.3,284.9 389.8,285.2 390.2,285.5 390.6,285.4 391.1,285.7 391.5,285.7 391.9,285.8 392.3,286 392.8,286 393.2,286.2 393.6,286.2 394.1,286.4 394.5,286.6 394.9,286.6 395.3,286.7 395.8,286.8 396.2,286.8 396.6,287 397.1,287.1 397.5,287.1 397.9,287.2 398.4,287.2 398.8,287.2 399.2,287.3 399.6,287.4 400.1,287.6 400.5,287.6 400.9,287.8 401.4,287.7 401.8,287.8 402.2,287.9 402.7,288.1 403.1,288.3 403.5,288.1 403.9,288.3 404.4,288.4 404.8,288.4 405.2,288.6 405.7,288.6 406.1,288.7 406.5,288.7 406.9,288.8 407.4,289 407.8,288.9 408.2,289.1 408.7,289.1 409.1,289.1 409.5,289.3 410,289.3 410.4,289.4 410.8,289.5 411.2,289.6 411.7,289.5 412.1,289.7 412.5,289.7 413,289.8 413.4,290 413.8,289.9 414.2,289.9 414.7,290 415.1,290.1 415.5,290.2 416,290.3 416.4,290.2 416.8,290.3 417.3,290.4 417.7,290.5 418.1,290.6 418.5,290.5 419,290.6 419.4,290.7 419.8,290.7 420.3,290.9 420.7,290.8 421.1,291 421.5,290.9 422,291.2 422.4,291.2 422.8,291.1 423.3,291.2 423.7,291.3 424.1,291.3 424.6,291.5 425,291.5 425.4,291.7 425.8,291.6 426.3,291.8 426.7,291.7 427.1,291.8 427.6,291.9 428,291.9 428.4,292.1 428.8,292 429.3,292.2 429.7,292.2 430.1,292.3 430.6,292.4 431,292.4 431.4,292.6 431.9,292.6 432.3,292.6 432.7,292.9 433.1,293 433.6,293 434,293 434.4,293.2 434.9,293.3 435.3,293.2 435.7,293.4 436.2,293.5 436.6,293.6 437,293.6 437.4,293.8 437.9,293.8 438.3,293.8 438.7,293.9 439.2,294 439.6,294 440,294.2 440.4,294.1 440.9,294.3 441.3,294.4 441.7,294.3 442.2,294.4 442.6,294.5 443,294.6 443.5,294.5 443.9,294.7 444.3,294.6 444.7,294.8 445.2,294.7 445.6,294.7" stroke="#d8a028" stroke-width="1.2" fill="none" stroke-linejoin="round" clip-path="url(#clipE)"/>
<text x="468" y="171.8" font-family='"Liberation Serif", serif' font-size="15" font-weight="normal" text-anchor="start" fill="#000">f</text>
<line x1="497.8" y1="299.45" x2="500.8" y2="299.45" stroke="#111" stroke-width="1"/>
<text x="497.8" y="302.95" font-family='"Liberation Sans", sans-serif' font-size="9.8" font-weight="bold" text-anchor="end" fill="#111">0.0</text>
<line x1="498.8" y1="283.77" x2="500.8" y2="283.77" stroke="#111" stroke-width="1"/>
<line x1="497.8" y1="268.09" x2="500.8" y2="268.09" stroke="#111" stroke-width="1"/>
<text x="497.8" y="271.59" font-family='"Liberation Sans", sans-serif' font-size="9.8" font-weight="bold" text-anchor="end" fill="#111">0.5</text>
<line x1="498.8" y1="252.41" x2="500.8" y2="252.41" stroke="#111" stroke-width="1"/>
<line x1="497.8" y1="236.73" x2="500.8" y2="236.73" stroke="#111" stroke-width="1"/>
<text x="497.8" y="240.23" font-family='"Liberation Sans", sans-serif' font-size="9.8" font-weight="bold" text-anchor="end" fill="#111">1.0</text>
<line x1="498.8" y1="221.05" x2="500.8" y2="221.05" stroke="#111" stroke-width="1"/>
<line x1="497.8" y1="205.36" x2="500.8" y2="205.36" stroke="#111" stroke-width="1"/>
<text x="497.8" y="208.86" font-family='"Liberation Sans", sans-serif' font-size="9.8" font-weight="bold" text-anchor="end" fill="#111">1.5</text>
<line x1="498.8" y1="189.68" x2="500.8" y2="189.68" stroke="#111" stroke-width="1"/>
<line x1="497.8" y1="174" x2="500.8" y2="174" stroke="#111" stroke-width="1"/>
<text x="497.8" y="177.5" font-family='"Liberation Sans", sans-serif' font-size="9.8" font-weight="bold" text-anchor="end" fill="#111">2.0</text>
<line x1="500.8" y1="312" x2="500.8" y2="315" stroke="#111" stroke-width="1"/>
<line x1="511.49" y1="312" x2="511.49" y2="314" stroke="#111" stroke-width="1"/>
<line x1="522.17" y1="312" x2="522.17" y2="315" stroke="#111" stroke-width="1"/>
<line x1="532.86" y1="312" x2="532.86" y2="314" stroke="#111" stroke-width="1"/>
<line x1="543.55" y1="312" x2="543.55" y2="315" stroke="#111" stroke-width="1"/>
<line x1="554.24" y1="312" x2="554.24" y2="314" stroke="#111" stroke-width="1"/>
<line x1="564.92" y1="312" x2="564.92" y2="315" stroke="#111" stroke-width="1"/>
<line x1="575.61" y1="312" x2="575.61" y2="314" stroke="#111" stroke-width="1"/>
<line x1="586.3" y1="312" x2="586.3" y2="315" stroke="#111" stroke-width="1"/>
<line x1="596.99" y1="312" x2="596.99" y2="314" stroke="#111" stroke-width="1"/>
<line x1="607.67" y1="312" x2="607.67" y2="315" stroke="#111" stroke-width="1"/>
<line x1="618.36" y1="312" x2="618.36" y2="314" stroke="#111" stroke-width="1"/>
<line x1="629.05" y1="312" x2="629.05" y2="315" stroke="#111" stroke-width="1"/>
<line x1="639.74" y1="312" x2="639.74" y2="314" stroke="#111" stroke-width="1"/>
<line x1="650.42" y1="312" x2="650.42" y2="315" stroke="#111" stroke-width="1"/>
<line x1="661.11" y1="312" x2="661.11" y2="314" stroke="#111" stroke-width="1"/>
<line x1="671.8" y1="312" x2="671.8" y2="315" stroke="#111" stroke-width="1"/>
<text x="500.8" y="323.7" font-family='"Liberation Sans", sans-serif' font-size="9.8" font-weight="bold" text-anchor="middle" fill="#111">200</text>
<text x="522.17" y="323.7" font-family='"Liberation Sans", sans-serif' font-size="9.8" font-weight="bold" text-anchor="middle" fill="#111">300</text>
<text x="543.55" y="323.7" font-family='"Liberation Sans", sans-serif' font-size="9.8" font-weight="bold" text-anchor="middle" fill="#111">400</text>
<text x="564.92" y="323.7" font-family='"Liberation Sans", sans-serif' font-size="9.8" font-weight="bold" text-anchor="middle" fill="#111">500</text>
<text x="586.3" y="323.7" font-family='"Liberation Sans", sans-serif' font-size="9.8" font-weight="bold" text-anchor="middle" fill="#111">600</text>
<text x="607.67" y="323.7" font-family='"Liberation Sans", sans-serif' font-size="9.8" font-weight="bold" text-anchor="middle" fill="#111">700</text>
<text x="629.05" y="323.7" font-family='"Liberation Sans", sans-serif' font-size="9.8" font-weight="bold" text-anchor="middle" fill="#111">800</text>
<text x="650.42" y="323.7" font-family='"Liberation Sans", sans-serif' font-size="9.8" font-weight="bold" text-anchor="middle" fill="#111">900</text>
<text x="671.8" y="323.7" font-family='"Liberation Sans", sans-serif' font-size="9.8" font-weight="bold" text-anchor="middle" fill="#111">1000</text>
<text x="576.4" y="335.9" font-family='"Liberation Sans", sans-serif' font-size="11.9" font-weight="bold" text-anchor="middle" fill="#111">Wavelength (nm)</text>
<text x="479" y="238" font-family='"Liberation Sans", sans-serif' font-size="11.85" font-weight="bold" text-anchor="middle" fill="#111" transform="rotate(-90 479 238)">MB Absorbance (a.u.)</text>
<rect x="500.8" y="174" width="171" height="138" fill="none" stroke="#111" stroke-width="1.25"/>
<defs><linearGradient id="bgF" x1="0" y1="0" x2="0" y2="1"><stop offset="0" stop-color="#c0beba"/><stop offset="0.5" stop-color="#bebcb7"/><stop offset="0.52" stop-color="#9a9894"/><stop offset="0.56" stop-color="#c7c9c9"/><stop offset="1" stop-color="#c9cbcb"/></linearGradient><linearGradient id="coneFade" x1="0" y1="0" x2="0" y2="1"><stop offset="0" stop-color="#fff" stop-opacity="0"/><stop offset="0.45" stop-color="#fff" stop-opacity="0.05"/><stop offset="1" stop-color="#e8f0f0" stop-opacity="0.45"/></linearGradient></defs>
<rect x="505.9" y="179.7" width="84.4" height="36.6" fill="url(#bgF)" stroke="none" stroke-width="1"/>
<g filter="url(#blur05)">
<rect x="517.8" y="186" width="5.5" height="12.5" fill="#bdb5a6" stroke="none" stroke-width="1" opacity="0.7"/>
<rect x="509.4" y="183.5" width="7.6" height="6.8" fill="#d4d4d0" stroke="none" stroke-width="1" opacity="0.55"/>
<path d="M509.2 190.3 L517.2 190.3 L517.2 199 L515 206 Q513.7 211.6 513.2 211.6 Q512.7 211.6 511.4 206 L509.2 199 Z" fill="#22a6b9"/>
<path d="M509.2 190.3 L517.2 190.3 L517.2 199 L515 206 Q513.7 211.6 513.2 211.6 Q512.7 211.6 511.4 206 L509.2 199 Z" fill="url(#coneFade)"/>
<rect x="532.9" y="186" width="5.5" height="12.5" fill="#bdb5a6" stroke="none" stroke-width="1" opacity="0.7"/>
<rect x="524.5" y="183.5" width="7.6" height="7.5" fill="#d4d4d0" stroke="none" stroke-width="1" opacity="0.55"/>
<path d="M524.3 191 L532.3 191 L532.3 199 L530.1 206 Q528.8 211.6 528.3 211.6 Q527.8 211.6 526.5 206 L524.3 199 Z" fill="#2aa8b6"/>
<path d="M524.3 191 L532.3 191 L532.3 199 L530.1 206 Q528.8 211.6 528.3 211.6 Q527.8 211.6 526.5 206 L524.3 199 Z" fill="url(#coneFade)"/>
<rect x="547" y="186" width="5.5" height="12.5" fill="#bdb5a6" stroke="none" stroke-width="1" opacity="0.7"/>
<rect x="538.6" y="183.5" width="7.6" height="8.7" fill="#d4d4d0" stroke="none" stroke-width="1" opacity="0.55"/>
<path d="M538.4 192.2 L546.4 192.2 L546.4 199 L544.2 206 Q542.9 211.6 542.4 211.6 Q541.9 211.6 540.6 206 L538.4 199 Z" fill="#42aeb8"/>
<path d="M538.4 192.2 L546.4 192.2 L546.4 199 L544.2 206 Q542.9 211.6 542.4 211.6 Q541.9 211.6 540.6 206 L538.4 199 Z" fill="url(#coneFade)"/>
<rect x="560.9" y="186" width="5.5" height="12.5" fill="#bdb5a6" stroke="none" stroke-width="1" opacity="0.7"/>
<rect x="552.5" y="183.5" width="7.6" height="9.1" fill="#d4d4d0" stroke="none" stroke-width="1" opacity="0.55"/>
<path d="M552.3 192.6 L560.3 192.6 L560.3 199 L558.1 206 Q556.8 211.6 556.3 211.6 Q555.8 211.6 554.5 206 L552.3 199 Z" fill="#55b2b9"/>
<path d="M552.3 192.6 L560.3 192.6 L560.3 199 L558.1 206 Q556.8 211.6 556.3 211.6 Q555.8 211.6 554.5 206 L552.3 199 Z" fill="url(#coneFade)"/>
<rect x="573.3" y="186" width="5.5" height="12.5" fill="#bdb5a6" stroke="none" stroke-width="1" opacity="0.7"/>
<rect x="564.9" y="183.5" width="7.6" height="10" fill="#d4d4d0" stroke="none" stroke-width="1" opacity="0.55"/>
<path d="M564.7 193.5 L572.7 193.5 L572.7 199 L570.5 206 Q569.2 211.6 568.7 211.6 Q568.2 211.6 566.9 206 L564.7 199 Z" fill="#7dbfc4"/>
<path d="M564.7 193.5 L572.7 193.5 L572.7 199 L570.5 206 Q569.2 211.6 568.7 211.6 Q568.2 211.6 566.9 206 L564.7 199 Z" fill="url(#coneFade)"/>
<rect x="578.8" y="183.5" width="7.6" height="11" fill="#d4d4d0" stroke="none" stroke-width="1" opacity="0.55"/>
<path d="M578.6 194.5 L586.6 194.5 L586.6 199 L584.4 206 Q583.1 211.6 582.6 211.6 Q582.1 211.6 580.8 206 L578.6 199 Z" fill="#b9cfd3"/>
<path d="M578.6 194.5 L586.6 194.5 L586.6 199 L584.4 206 Q583.1 211.6 582.6 211.6 Q582.1 211.6 580.8 206 L578.6 199 Z" fill="url(#coneFade)"/>
</g>
<line x1="610.7" y1="184.5" x2="627.2" y2="184.5" stroke="#444444" stroke-width="1"/>
<text x="0" y="0" font-family='"Liberation Sans", sans-serif' font-size="9.4" font-weight="bold" text-anchor="start" fill="#111" transform="translate(631.5 187.9) scale(0.9 1)">0 μg/mL</text>
<line x1="610.7" y1="194.5" x2="627.2" y2="194.5" stroke="#f04848" stroke-width="1"/>
<text x="0" y="0" font-family='"Liberation Sans", sans-serif' font-size="9.4" font-weight="bold" text-anchor="start" fill="#111" transform="translate(631.5 197.9) scale(0.9 1)">4 μg/mL</text>
<line x1="610.7" y1="205.5" x2="627.2" y2="205.5" stroke="#3a7ae6" stroke-width="1"/>
<text x="0" y="0" font-family='"Liberation Sans", sans-serif' font-size="9.4" font-weight="bold" text-anchor="start" fill="#111" transform="translate(631.5 208.9) scale(0.9 1)">8 μg/mL</text>
<line x1="610.7" y1="216.5" x2="627.2" y2="216.5" stroke="#34b06c" stroke-width="1"/>
<text x="0" y="0" font-family='"Liberation Sans", sans-serif' font-size="9.4" font-weight="bold" text-anchor="start" fill="#111" transform="translate(631.5 219.9) scale(0.9 1)">12 μg/mL</text>
<line x1="610.7" y1="226.5" x2="627.2" y2="226.5" stroke="#b070ea" stroke-width="1"/>
<text x="0" y="0" font-family='"Liberation Sans", sans-serif' font-size="9.4" font-weight="bold" text-anchor="start" fill="#111" transform="translate(631.5 229.9) scale(0.9 1)">16 μg/mL</text>
<line x1="610.7" y1="237.5" x2="627.2" y2="237.5" stroke="#d8a028" stroke-width="1"/>
<text x="0" y="0" font-family='"Liberation Sans", sans-serif' font-size="9.4" font-weight="bold" text-anchor="start" fill="#111" transform="translate(631.5 240.9) scale(0.9 1)">20 μg/mL</text>
<defs><clipPath id="clipF"><rect x="500.8" y="174" width="171" height="138"/></clipPath></defs>
<path d="M500.8,249.7 501,249.3 501.2,249.2 501.4,248.9 501.7,249.2 501.9,250 502.1,250.7 502.3,251.7 502.5,253.2 502.7,253.9 502.9,254.8 503.2,256.1 503.4,257.3 503.6,258.8 503.8,260.7 504,262.8 504.2,265.1 504.4,267.9 504.6,270.7 504.9,273.4 505.1,276 505.3,278.1 505.5,280 505.7,282 505.9,283.6 506.1,285.1 506.4,286.4 506.6,287.6 506.8,288.4 507,289 507.2,289.4 507.4,289.9 507.6,290.1 507.9,290.1 508.1,290.3 508.3,290.2 508.5,290.4 508.7,290.4 508.9,290.5 509.1,290.2 509.4,290.2 509.6,290.1 509.8,290.1 510,289.9 510.2,289.9 510.4,289.9 510.6,290 510.8,290 511.1,290 511.3,290.3 511.5,290.4 511.7,290.6 511.9,290.7 512.1,290.9 512.3,291.2 512.6,291.2 512.8,291.3 513,291.7 513.2,291.7 513.4,291.7 513.6,291.8 513.8,292.2 514.1,292.2 514.3,292.2 514.5,292.2 514.7,292.3 514.9,292.4 515.1,292.4 515.3,292.3 515.5,292.2 515.8,292.3 516,292.2 516.2,292.2 516.4,292.2 516.6,292.3 516.8,292.1 517,291.9 517.3,291.5 517.5,291.2 517.7,290.8 517.9,290.2 518.1,289.8 518.3,289.3 518.5,288.9 518.8,288.4 519,287.9 519.2,287.7 519.4,287.3 519.6,287.2 519.8,286.8 520,286.9 520.3,286.6 520.5,286.7 520.7,286.9 520.9,287 521.1,287.3 521.3,287.6 521.5,288.1 521.7,288.4 522,288.9 522.2,289.2 522.4,289.8 522.6,290.3 522.8,290.8 523,291 523.2,291.6 523.5,291.9 523.7,292.2 523.9,292.7 524.1,292.9 524.3,293.2 524.5,293.5 524.7,293.8 525,293.9 525.2,293.9 525.4,294.3 525.6,294.4 525.8,294.4 526,294.7 526.2,294.8 526.5,294.8 526.7,295 526.9,294.9 527.1,295.1 527.3,295.3 527.5,295.3 527.7,295.4 527.9,295.6 528.2,295.6 528.4,295.6 528.6,295.8 528.8,295.8 529,295.9 529.2,296.1 529.4,296 529.7,296.3 529.9,296.4 530.1,296.4 530.3,296.6 530.5,296.6 530.7,296.8 530.9,296.8 531.2,297 531.4,297 531.6,297.1 531.8,297.2 532,297.3 532.2,297.3 532.4,297.3 532.6,297.5 532.9,297.4 533.1,297.6 533.3,297.7 533.5,297.7 533.7,297.6 533.9,297.9 534.1,297.8 534.4,298 534.6,297.8 534.8,298 535,298 535.2,298 535.4,298.2 535.6,298.3 535.9,298.1 536.1,298.2 536.3,298.2 536.5,298.3 536.7,298.2 536.9,298.3 537.1,298.3 537.4,298.3 537.6,298.2 537.8,298.3 538,298.3 538.2,298.2 538.4,298.3 538.6,298.1 538.8,298.2 539.1,298.2 539.3,298.2 539.5,298.1 539.7,298.1 539.9,298 540.1,298.1 540.3,298 540.6,297.9 540.8,298 541,297.8 541.2,297.7 541.4,297.7 541.6,297.6 541.8,297.7 542.1,297.5 542.3,297.5 542.5,297.5 542.7,297.2 542.9,297.2 543.1,297 543.3,297 543.5,297 543.8,296.7 544,296.7 544.2,296.5 544.4,296.3 544.6,296.3 544.8,296.1 545,295.9 545.3,295.9 545.5,295.7 545.7,295.7 545.9,295.5 546.1,295.4 546.3,295.3 546.5,295.4 546.8,295.3 547,295.1 547.2,295.2 547.4,295.2 547.6,295.2 547.8,295.2 548,295.2 548.3,295.3 548.5,295.4 548.7,295.5 548.9,295.6 549.1,295.8 549.3,295.7 549.5,295.8 549.7,296 550,296.1 550.2,296.4 550.4,296.4 550.6,296.7 550.8,296.7 551,296.9 551.2,297 551.5,297.1 551.7,297.2 551.9,297.5 552.1,297.5 552.3,297.7 552.5,297.8 552.7,297.9 553,297.8 553.2,297.9 553.4,298 553.6,298.1 553.8,298.3 554,298.3 554.2,298.3 554.5,298.4 554.7,298.4 554.9,298.5 555.1,298.5 555.3,298.4 555.5,298.5 555.7,298.4 555.9,298.5 556.2,298.4 556.4,298.6 556.6,298.6 556.8,298.5 557,298.6 557.2,298.5 557.4,298.6 557.7,298.7 557.9,298.5 558.1,298.6 558.3,298.7 558.5,298.4 558.7,298.6 558.9,298.6 559.2,298.7 559.4,298.7 559.6,298.5 559.8,298.6 560,298.6 560.2,298.6 560.4,298.6 560.6,298.5 560.9,298.6 561.1,298.4 561.3,298.5 561.5,298.7 561.7,298.5 561.9,298.7 562.1,298.5 562.4,298.5 562.6,298.5 562.8,298.5 563,298.4 563.2,298.6 563.4,298.5 563.6,298.6 563.9,298.5 564.1,298.6 564.3,298.4 564.5,298.4 564.7,298.4 564.9,298.4 565.1,298.4 565.4,298.3 565.6,298.3 565.8,298.3 566,298.4 566.2,298.2 566.4,298.3 566.6,298.4 566.8,298.3 567.1,298.2 567.3,298.1 567.5,298.1 567.7,298.1 567.9,298 568.1,298 568.3,298.1 568.6,298 568.8,297.9 569,298 569.2,298.1 569.4,297.9 569.6,297.8 569.8,297.9 570.1,297.8 570.3,297.7 570.5,297.9 570.7,297.8 570.9,297.7 571.1,297.7 571.3,297.5 571.6,297.4 571.8,297.5 572,297.4 572.2,297.4 572.4,297.5 572.6,297.2 572.8,297.4 573,297.3 573.3,297.2 573.5,297.3 573.7,297.1 573.9,297.1 574.1,296.9 574.3,296.9 574.5,296.8 574.8,296.7 575,296.7 575.2,296.7 575.4,296.6 575.6,296.5 575.8,296.5 576,296.3 576.3,296.3 576.5,296.3 576.7,296.1 576.9,295.9 577.1,296.1 577.3,295.9 577.5,296 577.8,295.8 578,295.8 578.2,295.6 578.4,295.4 578.6,295.4 578.8,295.2 579,295.1 579.2,295.1 579.5,295 579.7,295.1 579.9,294.9 580.1,294.8 580.3,294.6 580.5,294.6 580.7,294.4 581,294.3 581.2,294.2 581.4,294.1 581.6,294 581.8,293.7 582,293.6 582.2,293.5 582.5,293.5 582.7,293.3 582.9,293.1 583.1,292.9 583.3,292.8 583.5,292.8 583.7,292.5 583.9,292.4 584.2,292.3 584.4,292 584.6,291.9 584.8,291.8 585,291.8 585.2,291.5 585.4,291.4 585.7,291.3 585.9,291 586.1,290.9 586.3,290.9 586.5,290.7 586.7,290.5 586.9,290.5 587.2,290.4 587.4,290.4 587.6,290.2 587.8,290.4 588,290.3 588.2,290.2 588.4,290.1 588.7,290.1 588.9,290.1 589.1,290.1 589.3,290 589.5,290 589.7,290 589.9,289.9 590.1,290.1 590.4,289.9 590.6,289.7 590.8,289.9 591,289.6 591.2,289.7 591.4,289.5 591.6,289.4 591.9,289.5 592.1,289.3 592.3,289.3 592.5,289.1 592.7,289 592.9,288.9 593.1,288.9 593.4,288.7 593.6,288.5 593.8,288.4 594,288.2 594.2,288.3 594.4,288.1 594.6,288 594.9,287.9 595.1,287.7 595.3,287.7 595.5,287.5 595.7,287.3 595.9,287.2 596.1,287.3 596.3,287.1 596.6,287 596.8,286.8 597,286.9 597.2,286.6 597.4,286.6 597.6,286.5 597.8,286.3 598.1,286.5 598.3,286.3 598.5,286.3 598.7,286.2 598.9,286.1 599.1,286 599.3,286 599.6,286.1 599.8,286 600,286.1 600.2,286.2 600.4,286.1 600.6,286.2 600.8,286.5 601,286.5 601.3,286.8 601.5,287.3 601.7,287.7 601.9,287.9 602.1,288.3 602.3,289 602.5,289.3 602.8,289.9 603,290.5 603.2,291 603.4,291.4 603.6,292.1 603.8,292.5 604,293 604.3,293.7 604.5,294.1 604.7,294.6 604.9,295 605.1,295.5 605.3,296 605.5,296.4 605.8,296.7 606,297.2 606.2,297.3 606.4,297.5 606.6,297.9 606.8,298 607,298.2 607.2,298.4 607.5,298.4 607.7,298.5 607.9,298.8 608.1,298.9 608.3,298.9 608.5,298.7 608.7,298.9 609,298.8 609.2,299.2 609.4,299.2 609.6,299.1 609.8,298.9 610,299.3 610.2,299.4 610.5,299 610.7,299.4 610.9,299.1 611.1,299.4 611.3,299.4 611.5,299.2 611.7,299.1 611.9,299.3 612.2,299.3 612.4,299.5 612.6,299.3 612.8,299.4 613,299.1 613.2,299.2 613.4,299.1 613.7,299.2 613.9,299.2 614.1,299.5 614.3,299.3 614.5,299.4 614.7,299.4 614.9,299.1 615.2,299.4 615.4,299.4 615.6,299.4 615.8,299.1 616,299.2 616.2,299.3 616.4,299.3 616.7,299.1 616.9,299.1 617.1,299.3 617.3,299.2 617.5,299.1 617.7,299.4 617.9,299.4 618.1,299.5 618.4,299.3 618.6,299.2 618.8,299.5 619,299.3 619.2,299 619.4,299.3 619.6,299.4 619.9,299.1 620.1,299.1 620.3,299.4 620.5,299.5 620.7,299.2 620.9,299.2 621.1,299.1 621.4,299.2 621.6,299.4 621.8,299.3 622,299.4 622.2,299.3 622.4,299.3 622.6,299.1 622.9,299.1 623.1,299.1 623.3,299.3 623.5,299.1 623.7,299.5 623.9,299.1 624.1,299.2 624.3,299.1 624.6,299.4 624.8,299.1 625,299.6 625.2,299.1 625.4,299.2 625.6,299.4 625.8,299.2 626.1,299.5 626.3,299.2 626.5,299.3 626.7,299.4 626.9,299.5 627.1,299.2 627.3,299.2 627.6,299.5 627.8,299.1 628,299.5 628.2,299.4 628.4,299.4 628.6,299.3 628.8,299.1 629,299.1 629.3,299.3 629.5,299.4 629.7,299.5 629.9,299.6 630.1,299.3 630.3,299.3 630.5,299.4 630.8,299.1 631,299.4 631.2,299.4 631.4,299.4 631.6,299.5 631.8,299.1 632,299.3 632.3,299.3 632.5,299.4 632.7,299.5 632.9,299.4 633.1,299.4 633.3,299.4 633.5,299.1 633.8,299.3 634,299.5 634.2,299.6 634.4,299.5 634.6,299.4 634.8,299.2 635,299.2 635.2,299.5 635.5,299.2 635.7,299.4 635.9,299.3 636.1,299.3 636.3,299.6 636.5,299.6 636.7,299.3 637,299.3 637.2,299.4 637.4,299.2 637.6,299.2 637.8,299.5 638,299.6 638.2,299.3 638.5,299.3 638.7,299.5 638.9,299.6 639.1,299.4 639.3,299.6 639.5,299.3 639.7,299.3 640,299.5 640.2,299.4 640.4,299.5 640.6,299.5 640.8,299.5 641,299.2 641.2,299.4 641.4,299.3 641.7,299.5 641.9,299.2 642.1,299.3 642.3,299.3 642.5,299.4 642.7,299.4 642.9,299.5 643.2,299.1 643.4,299.3 643.6,299.4 643.8,299.3 644,299.6 644.2,299.5 644.4,299.5 644.7,299.2 644.9,299.6 645.1,299.4 645.3,299.2 645.5,299.3 645.7,299.3 645.9,299.5 646.1,299.5 646.4,299.3 646.6,299.5 646.8,299.3 647,299.5 647.2,299.3 647.4,299.4 647.6,299.2 647.9,299.2 648.1,299.5 648.3,299.2 648.5,299.6 648.7,299.2 648.9,299.6 649.1,299.4 649.4,299.5 649.6,299.3 649.8,299.5 650,299.6 650.2,299.3 650.4,299.4 650.6,299.3 650.9,299.4 651.1,299.6 651.3,299.3 651.5,299.6 651.7,299.4 651.9,299.7 652.1,299.5 652.3,299.3 652.6,299.3 652.8,299.3 653,299.4 653.2,299.3 653.4,299.3 653.6,299.6 653.8,299.4 654.1,299.4 654.3,299.3 654.5,299.6 654.7,299.5 654.9,299.5 655.1,299.6 655.3,299.5 655.6,299.3 655.8,299.4 656,299.6 656.2,299.3 656.4,299.6 656.6,299.3 656.8,299.6 657.1,299.6 657.3,299.5 657.5,299.4 657.7,299.5 657.9,299.2 658.1,299.2 658.3,299.5 658.5,299.3 658.8,299.3 659,299.4 659.2,299.6 659.4,299.2 659.6,299.2 659.8,299.7 660,299.5 660.3,299.5 660.5,299.6 660.7,299.5 660.9,299.2 661.1,299.7 661.3,299.3 661.5,299.5 661.8,299.7 662,299.2 662.2,299.5 662.4,299.6 662.6,299.6 662.8,299.5 663,299.6 663.2,299.6 663.5,299.6 663.7,299.4 663.9,299.5 664.1,299.5 664.3,299.4 664.5,299.3 664.7,299.3 665,299.5 665.2,299.2 665.4,299.3 665.6,299.4 665.8,299.5 666,299.5 666.2,299.6 666.5,299.3 666.7,299.4 666.9,299.6 667.1,299.2 667.3,299.3 667.5,299.7 667.7,299.3 668,299.6 668.2,299.4 668.4,299.3 668.6,299.5 668.8,299.4 669,299.4 669.2,299.6 669.4,299.4 669.7,299.5 669.9,299.2 670.1,299.6 670.3,299.3 670.5,299.7 670.7,299.6 670.9,299.6 671.2,299.6 671.4,299.4 671.6,299.6 671.8,299.3" stroke="#444444" stroke-width="1.15" fill="none" stroke-linejoin="round" clip-path="url(#clipF)"/>
<path d="M500.8,257.2 501,257.2 501.2,257.3 501.4,257.8 501.7,258.2 501.9,258.6 502.1,259.2 502.3,259.6 502.5,260.3 502.7,261.1 502.9,262 503.2,263.8 503.4,264.9 503.6,266.4 503.8,268.3 504,270.1 504.2,271.9 504.4,274.1 504.6,275.8 504.9,277.6 505.1,279.3 505.3,280.7 505.5,282.4 505.7,283.6 505.9,284.9 506.1,285.8 506.4,286.6 506.6,287.5 506.8,288.1 507,288.6 507.2,288.9 507.4,289.3 507.6,289.3 507.9,289.6 508.1,289.6 508.3,289.7 508.5,289.6 508.7,289.7 508.9,289.6 509.1,289.6 509.4,289.3 509.6,289.3 509.8,289 510,288.9 510.2,288.9 510.4,288.7 510.6,288.7 510.8,288.8 511.1,289.1 511.3,289 511.5,289.2 511.7,289.4 511.9,289.7 512.1,289.6 512.3,289.9 512.6,290 512.8,290.1 513,290.4 513.2,290.6 513.4,290.5 513.6,290.8 513.8,290.9 514.1,291 514.3,290.8 514.5,290.9 514.7,291.1 514.9,291.1 515.1,290.9 515.3,290.9 515.5,290.9 515.8,291 516,290.9 516.2,290.7 516.4,290.9 516.6,290.8 516.8,290.7 517,290.2 517.3,290.1 517.5,289.4 517.7,288.9 517.9,288.4 518.1,288 518.3,287.3 518.5,286.8 518.8,286.3 519,285.9 519.2,285.3 519.4,284.9 519.6,284.8 519.8,284.3 520,284.3 520.3,284.3 520.5,284.3 520.7,284.4 520.9,284.6 521.1,284.9 521.3,285.2 521.5,285.8 521.7,286.2 522,286.6 522.2,287.4 522.4,288.1 522.6,288.6 522.8,289.1 523,289.7 523.2,290.1 523.5,290.6 523.7,290.9 523.9,291.4 524.1,291.6 524.3,292 524.5,292.2 524.7,292.5 525,292.9 525.2,293 525.4,293.3 525.6,293.4 525.8,293.6 526,293.7 526.2,294 526.5,294.1 526.7,294.1 526.9,294.2 527.1,294.3 527.3,294.7 527.5,294.8 527.7,294.9 527.9,294.9 528.2,295 528.4,295.1 528.6,295.2 528.8,295.4 529,295.5 529.2,295.5 529.4,295.8 529.7,295.9 529.9,296 530.1,296.2 530.3,296.2 530.5,296.4 530.7,296.6 530.9,296.7 531.2,296.8 531.4,296.9 531.6,296.9 531.8,297.1 532,297.2 532.2,297.3 532.4,297.4 532.6,297.3 532.9,297.6 533.1,297.7 533.3,297.6 533.5,297.7 533.7,297.8 533.9,297.8 534.1,297.9 534.4,298 534.6,298.1 534.8,297.9 535,297.9 535.2,298.1 535.4,298.1 535.6,298.2 535.9,298.3 536.1,298.1 536.3,298.1 536.5,298.3 536.7,298.3 536.9,298.2 537.1,298.2 537.4,298.3 537.6,298.3 537.8,298.3 538,298.2 538.2,298.1 538.4,298.1 538.6,298.3 538.8,298.2 539.1,298 539.3,298.1 539.5,298.1 539.7,298.2 539.9,298.2 540.1,298 540.3,298.1 540.6,297.9 540.8,297.9 541,297.9 541.2,297.7 541.4,297.7 541.6,297.7 541.8,297.8 542.1,297.6 542.3,297.5 542.5,297.5 542.7,297.2 542.9,297.2 543.1,297.2 543.3,297.1 543.5,296.9 543.8,296.7 544,296.7 544.2,296.5 544.4,296.3 544.6,296.3 544.8,296 545,296 545.3,295.7 545.5,295.6 545.7,295.7 545.9,295.5 546.1,295.5 546.3,295.4 546.5,295.3 546.8,295.2 547,295.3 547.2,295.3 547.4,295.3 547.6,295.2 547.8,295.3 548,295.3 548.3,295.3 548.5,295.3 548.7,295.5 548.9,295.7 549.1,295.7 549.3,295.9 549.5,295.9 549.7,296.2 550,296.3 550.2,296.4 550.4,296.4 550.6,296.7 550.8,296.9 551,297 551.2,297.1 551.5,297.2 551.7,297.4 551.9,297.4 552.1,297.6 552.3,297.7 552.5,297.8 552.7,297.8 553,297.8 553.2,298 553.4,298 553.6,298.2 553.8,298.1 554,298.2 554.2,298.2 554.5,298.3 554.7,298.4 554.9,298.5 555.1,298.3 555.3,298.4 555.5,298.4 555.7,298.5 555.9,298.4 556.2,298.5 556.4,298.6 556.6,298.5 556.8,298.4 557,298.5 557.2,298.6 557.4,298.5 557.7,298.5 557.9,298.6 558.1,298.6 558.3,298.6 558.5,298.4 558.7,298.5 558.9,298.6 559.2,298.6 559.4,298.6 559.6,298.6 559.8,298.6 560,298.4 560.2,298.4 560.4,298.5 560.6,298.4 560.9,298.5 561.1,298.6 561.3,298.6 561.5,298.6 561.7,298.5 561.9,298.4 562.1,298.4 562.4,298.4 562.6,298.4 562.8,298.5 563,298.3 563.2,298.3 563.4,298.4 563.6,298.5 563.9,298.2 564.1,298.4 564.3,298.2 564.5,298.4 564.7,298.2 564.9,298.3 565.1,298.1 565.4,298.2 565.6,298.2 565.8,298.2 566,298 566.2,297.9 566.4,298 566.6,297.9 566.8,298 567.1,297.9 567.3,298 567.5,297.7 567.7,297.9 567.9,297.7 568.1,297.7 568.3,297.7 568.6,297.6 568.8,297.4 569,297.6 569.2,297.5 569.4,297.4 569.6,297.3 569.8,297.3 570.1,297.3 570.3,297.1 570.5,297.3 570.7,297.2 570.9,297.1 571.1,297 571.3,296.9 571.6,296.8 571.8,296.7 572,296.6 572.2,296.7 572.4,296.7 572.6,296.4 572.8,296.5 573,296.4 573.3,296.4 573.5,296.2 573.7,296 573.9,296.1 574.1,296 574.3,295.8 574.5,295.7 574.8,295.8 575,295.5 575.2,295.4 575.4,295.4 575.6,295.3 575.8,295.1 576,295.1 576.3,295 576.5,294.9 576.7,294.7 576.9,294.6 577.1,294.4 577.3,294.3 577.5,294.1 577.8,294.1 578,293.8 578.2,293.9 578.4,293.7 578.6,293.4 578.8,293.3 579,293.1 579.2,293 579.5,292.9 579.7,292.7 579.9,292.6 580.1,292.6 580.3,292.4 580.5,292.2 580.7,291.8 581,291.8 581.2,291.6 581.4,291.4 581.6,291.3 581.8,291 582,290.8 582.2,290.6 582.5,290.4 582.7,290.3 582.9,290.1 583.1,289.7 583.3,289.5 583.5,289.4 583.7,289.2 583.9,289 584.2,288.6 584.4,288.5 584.6,288.2 584.8,288.1 585,287.8 585.2,287.5 585.4,287.2 585.7,287 585.9,286.9 586.1,286.6 586.3,286.5 586.5,286.2 586.7,286.1 586.9,286 587.2,285.9 587.4,285.9 587.6,285.6 587.8,285.6 588,285.6 588.2,285.6 588.4,285.6 588.7,285.4 588.9,285.5 589.1,285.3 589.3,285.3 589.5,285.3 589.7,285.2 589.9,285.2 590.1,285.1 590.4,285.1 590.6,284.8 590.8,284.9 591,284.8 591.2,284.6 591.4,284.5 591.6,284.3 591.9,284.2 592.1,284 592.3,284.1 592.5,284 592.7,283.8 592.9,283.5 593.1,283.5 593.4,283.2 593.6,283 593.8,282.9 594,282.6 594.2,282.4 594.4,282.2 594.6,282.1 594.9,281.9 595.1,281.8 595.3,281.5 595.5,281.3 595.7,281.2 595.9,281.1 596.1,280.9 596.3,280.8 596.6,280.5 596.8,280.5 597,280.2 597.2,280.1 597.4,280 597.6,279.9 597.8,279.7 598.1,279.6 598.3,279.4 598.5,279.5 598.7,279.2 598.9,279.2 599.1,279.2 599.3,279 599.6,279.2 599.8,279.2 600,279.1 600.2,279.1 600.4,279.4 600.6,279.4 600.8,279.7 601,280.2 601.3,280.6 601.5,281 601.7,281.5 601.9,282.2 602.1,282.8 602.3,283.5 602.5,284.4 602.8,285 603,285.8 603.2,286.8 603.4,287.5 603.6,288.3 603.8,289.1 604,290 604.3,290.6 604.5,291.4 604.7,292.1 604.9,292.8 605.1,293.7 605.3,294.3 605.5,294.9 605.8,295.5 606,296 606.2,296.3 606.4,296.7 606.6,297 606.8,297.5 607,297.7 607.2,298 607.5,298.1 607.7,298.3 607.9,298.3 608.1,298.6 608.3,298.5 608.5,298.6 608.7,298.7 609,298.9 609.2,298.7 609.4,298.8 609.6,298.8 609.8,299 610,299.1 610.2,299.2 610.5,299.4 610.7,299.2 610.9,299.1 611.1,299.4 611.3,299 611.5,299 611.7,299.1 611.9,299.1 612.2,299.3 612.4,299.4 612.6,299.4 612.8,299.1 613,299 613.2,299.5 613.4,299.5 613.7,299.3 613.9,299.3 614.1,299.2 614.3,299.5 614.5,299.1 614.7,299.4 614.9,299.1 615.2,299.4 615.4,299.4 615.6,299.4 615.8,299 616,299.2 616.2,299.1 616.4,299.5 616.7,299.3 616.9,299.2 617.1,299 617.3,299.1 617.5,299.5 617.7,299.4 617.9,299 618.1,299.3 618.4,299.1 618.6,299.4 618.8,299.5 619,299.1 619.2,299.4 619.4,299.3 619.6,299.4 619.9,299.3 620.1,299.1 620.3,299.1 620.5,299.1 620.7,299.4 620.9,299.1 621.1,299.5 621.4,299.3 621.6,299.1 621.8,299.4 622,299.4 622.2,299.3 622.4,299.4 622.6,299.2 622.9,299.2 623.1,299.5 623.3,299.1 623.5,299.5 623.7,299.2 623.9,299.4 624.1,299.5 624.3,299.5 624.6,299.1 624.8,299.2 625,299.3 625.2,299.2 625.4,299.1 625.6,299.1 625.8,299.3 626.1,299.4 626.3,299.3 626.5,299.1 626.7,299.2 626.9,299.2 627.1,299.2 627.3,299.4 627.6,299.3 627.8,299.2 628,299.5 628.2,299.2 628.4,299.6 628.6,299.3 628.8,299.3 629,299.5 629.3,299.1 629.5,299.4 629.7,299.5 629.9,299.4 630.1,299.3 630.3,299.4 630.5,299.6 630.8,299.6 631,299.2 631.2,299.5 631.4,299.5 631.6,299.2 631.8,299.2 632,299.2 632.3,299.5 632.5,299.6 632.7,299.2 632.9,299.3 633.1,299.4 633.3,299.6 633.5,299.4 633.8,299.5 634,299.3 634.2,299.1 634.4,299.5 634.6,299.6 634.8,299.3 635,299.6 635.2,299.5 635.5,299.4 635.7,299.1 635.9,299.5 636.1,299.5 636.3,299.4 636.5,299.5 636.7,299.4 637,299.3 637.2,299.5 637.4,299.2 637.6,299.5 637.8,299.6 638,299.3 638.2,299.4 638.5,299.2 638.7,299.6 638.9,299.3 639.1,299.3 639.3,299.4 639.5,299.6 639.7,299.3 640,299.3 640.2,299.4 640.4,299.4 640.6,299.3 640.8,299.3 641,299.4 641.2,299.5 641.4,299.4 641.7,299.4 641.9,299.2 642.1,299.1 642.3,299.4 642.5,299.5 642.7,299.5 642.9,299.3 643.2,299.3 643.4,299.5 643.6,299.3 643.8,299.1 644,299.4 644.2,299.2 644.4,299.4 644.7,299.3 644.9,299.2 645.1,299.5 645.3,299.5 645.5,299.2 645.7,299.6 645.9,299.5 646.1,299.4 646.4,299.3 646.6,299.3 646.8,299.2 647,299.3 647.2,299.7 647.4,299.6 647.6,299.6 647.9,299.4 648.1,299.6 648.3,299.4 648.5,299.3 648.7,299.6 648.9,299.2 649.1,299.4 649.4,299.2 649.6,299.5 649.8,299.3 650,299.4 650.2,299.5 650.4,299.3 650.6,299.7 650.9,299.5 651.1,299.5 651.3,299.2 651.5,299.4 651.7,299.6 651.9,299.5 652.1,299.4 652.3,299.3 652.6,299.6 652.8,299.3 653,299.5 653.2,299.4 653.4,299.5 653.6,299.4 653.8,299.2 654.1,299.2 654.3,299.2 654.5,299.3 654.7,299.3 654.9,299.6 655.1,299.7 655.3,299.3 655.6,299.3 655.8,299.4 656,299.5 656.2,299.5 656.4,299.2 656.6,299.4 656.8,299.7 657.1,299.5 657.3,299.5 657.5,299.6 657.7,299.2 657.9,299.2 658.1,299.3 658.3,299.7 658.5,299.5 658.8,299.6 659,299.3 659.2,299.3 659.4,299.3 659.6,299.3 659.8,299.6 660,299.7 660.3,299.6 660.5,299.3 660.7,299.3 660.9,299.4 661.1,299.6 661.3,299.3 661.5,299.6 661.8,299.5 662,299.7 662.2,299.2 662.4,299.5 662.6,299.3 662.8,299.3 663,299.4 663.2,299.2 663.5,299.3 663.7,299.2 663.9,299.2 664.1,299.6 664.3,299.3 664.5,299.6 664.7,299.5 665,299.5 665.2,299.2 665.4,299.7 665.6,299.5 665.8,299.6 666,299.2 666.2,299.4 666.5,299.3 666.7,299.4 666.9,299.3 667.1,299.5 667.3,299.5 667.5,299.3 667.7,299.3 668,299.3 668.2,299.5 668.4,299.3 668.6,299.3 668.8,299.4 669,299.5 669.2,299.4 669.4,299.7 669.7,299.7 669.9,299.5 670.1,299.6 670.3,299.7 670.5,299.3 670.7,299.3 670.9,299.4 671.2,299.6 671.4,299.3 671.6,299.3 671.8,299.4" stroke="#f04848" stroke-width="1.15" fill="none" stroke-linejoin="round" clip-path="url(#clipF)"/>
<path d="M500.8,266.9 501,267.2 501.2,267.6 501.4,268.1 501.7,268.7 501.9,269.1 502.1,270 502.3,270.5 502.5,271.5 502.7,272.2 502.9,273 503.2,274 503.4,274.9 503.6,275.9 503.8,276.9 504,277.7 504.2,278.7 504.4,279.6 504.6,280.6 504.9,281.6 505.1,282.7 505.3,283.8 505.5,284.5 505.7,285.5 505.9,286.4 506.1,287.1 506.4,287.5 506.6,287.8 506.8,288.3 507,288.6 507.2,288.7 507.4,288.9 507.6,289 507.9,289 508.1,289 508.3,289.1 508.5,288.9 508.7,288.8 508.9,288.6 509.1,288.3 509.4,288.1 509.6,287.9 509.8,287.8 510,287.4 510.2,287.3 510.4,287.2 510.6,287.3 510.8,287.3 511.1,287.2 511.3,287.4 511.5,287.7 511.7,287.7 511.9,287.8 512.1,288.2 512.3,288.3 512.6,288.5 512.8,288.8 513,288.9 513.2,289 513.4,289.1 513.6,289.3 513.8,289.4 514.1,289.6 514.3,289.7 514.5,289.7 514.7,289.5 514.9,289.5 515.1,289.4 515.3,289.6 515.5,289.4 515.8,289.5 516,289.4 516.2,289.4 516.4,289.2 516.6,289.1 516.8,288.9 517,288.7 517.3,288 517.5,287.4 517.7,286.5 517.9,285.6 518.1,284.9 518.3,284.1 518.5,283.3 518.8,282.2 519,281.6 519.2,280.9 519.4,280.3 519.6,279.7 519.8,279.3 520,279.1 520.3,278.8 520.5,278.9 520.7,279.2 520.9,279.4 521.1,280 521.3,280.5 521.5,281.2 521.7,281.9 522,282.6 522.2,283.4 522.4,284.3 522.6,285.3 522.8,286 523,286.7 523.2,287.4 523.5,288.2 523.7,288.8 523.9,289.3 524.1,289.7 524.3,290.3 524.5,290.5 524.7,291 525,291.2 525.2,291.5 525.4,291.8 525.6,291.9 525.8,292.3 526,292.5 526.2,292.6 526.5,292.7 526.7,292.8 526.9,293.1 527.1,293.3 527.3,293.4 527.5,293.6 527.7,293.7 527.9,293.8 528.2,294 528.4,294.3 528.6,294.4 528.8,294.6 529,294.8 529.2,294.9 529.4,295.2 529.7,295.3 529.9,295.5 530.1,295.7 530.3,295.9 530.5,296 530.7,296.1 530.9,296.3 531.2,296.5 531.4,296.7 531.6,296.7 531.8,296.9 532,296.9 532.2,297.2 532.4,297.3 532.6,297.5 532.9,297.5 533.1,297.5 533.3,297.7 533.5,297.8 533.7,297.8 533.9,297.9 534.1,298 534.4,297.9 534.6,298 534.8,298 535,298.1 535.2,298.1 535.4,298.2 535.6,298.3 535.9,298.2 536.1,298.1 536.3,298.3 536.5,298.3 536.7,298.3 536.9,298.2 537.1,298.3 537.4,298.2 537.6,298.4 537.8,298.3 538,298.3 538.2,298.3 538.4,298.3 538.6,298.3 538.8,298.1 539.1,298.2 539.3,298.2 539.5,298 539.7,298.1 539.9,298.1 540.1,298 540.3,298.1 540.6,298.2 540.8,297.9 541,298 541.2,298 541.4,298.1 541.6,297.9 541.8,297.9 542.1,297.8 542.3,297.8 542.5,297.6 542.7,297.7 542.9,297.7 543.1,297.5 543.3,297.6 543.5,297.5 543.8,297.4 544,297.2 544.2,297.3 544.4,297.2 544.6,297 544.8,297.1 545,296.9 545.3,296.8 545.5,296.7 545.7,296.6 545.9,296.7 546.1,296.5 546.3,296.6 546.5,296.4 546.8,296.5 547,296.4 547.2,296.5 547.4,296.5 547.6,296.6 547.8,296.5 548,296.6 548.3,296.6 548.5,296.5 548.7,296.6 548.9,296.6 549.1,296.9 549.3,296.9 549.5,296.9 549.7,297.1 550,297.2 550.2,297.1 550.4,297.2 550.6,297.4 550.8,297.4 551,297.5 551.2,297.5 551.5,297.7 551.7,297.9 551.9,297.8 552.1,298 552.3,298.1 552.5,298.1 552.7,298.1 553,298.1 553.2,298.2 553.4,298.2 553.6,298.4 553.8,298.2 554,298.3 554.2,298.4 554.5,298.3 554.7,298.3 554.9,298.3 555.1,298.3 555.3,298.5 555.5,298.5 555.7,298.5 555.9,298.5 556.2,298.4 556.4,298.4 556.6,298.5 556.8,298.5 557,298.3 557.2,298.4 557.4,298.5 557.7,298.6 557.9,298.5 558.1,298.4 558.3,298.4 558.5,298.5 558.7,298.5 558.9,298.3 559.2,298.6 559.4,298.4 559.6,298.5 559.8,298.4 560,298.4 560.2,298.3 560.4,298.5 560.6,298.3 560.9,298.5 561.1,298.5 561.3,298.5 561.5,298.4 561.7,298.3 561.9,298.2 562.1,298.3 562.4,298.2 562.6,298.3 562.8,298.2 563,298.2 563.2,298.2 563.4,298.1 563.6,298.1 563.9,298.1 564.1,297.9 564.3,298 564.5,298.1 564.7,298 564.9,298 565.1,297.9 565.4,297.8 565.6,297.6 565.8,297.6 566,297.6 566.2,297.7 566.4,297.5 566.6,297.4 566.8,297.4 567.1,297.2 567.3,297.3 567.5,297.3 567.7,297.2 567.9,297.2 568.1,297 568.3,296.9 568.6,296.8 568.8,296.9 569,296.9 569.2,296.5 569.4,296.6 569.6,296.6 569.8,296.3 570.1,296.4 570.3,296.2 570.5,296.1 570.7,296.1 570.9,296 571.1,296 571.3,295.8 571.6,295.7 571.8,295.5 572,295.5 572.2,295.5 572.4,295.3 572.6,295.1 572.8,295.1 573,295 573.3,294.8 573.5,294.6 573.7,294.5 573.9,294.4 574.1,294.1 574.3,294.1 574.5,294 574.8,293.8 575,293.5 575.2,293.5 575.4,293.3 575.6,293.1 575.8,292.8 576,292.7 576.3,292.7 576.5,292.4 576.7,292.3 576.9,292 577.1,291.8 577.3,291.7 577.5,291.4 577.8,291.3 578,291 578.2,290.7 578.4,290.6 578.6,290.4 578.8,290.2 579,290 579.2,289.7 579.5,289.5 579.7,289.3 579.9,289 580.1,288.8 580.3,288.5 580.5,288.3 580.7,287.9 581,287.6 581.2,287.3 581.4,287.1 581.6,286.9 581.8,286.5 582,286.3 582.2,285.8 582.5,285.6 582.7,285.3 582.9,284.9 583.1,284.5 583.3,284.3 583.5,283.9 583.7,283.4 583.9,283.1 584.2,282.8 584.4,282.6 584.6,282.3 584.8,281.9 585,281.5 585.2,281 585.4,280.6 585.7,280.2 585.9,280 586.1,279.6 586.3,279.4 586.5,279.1 586.7,278.9 586.9,278.6 587.2,278.3 587.4,278.3 587.6,278.3 587.8,278.1 588,278 588.2,277.9 588.4,277.8 588.7,277.8 588.9,277.6 589.1,277.5 589.3,277.6 589.5,277.6 589.7,277.3 589.9,277.3 590.1,277.1 590.4,277.1 590.6,277 590.8,276.8 591,276.5 591.2,276.4 591.4,276.4 591.6,276.2 591.9,275.8 592.1,275.7 592.3,275.6 592.5,275.2 592.7,274.9 592.9,274.7 593.1,274.5 593.4,274.2 593.6,274.1 593.8,273.7 594,273.3 594.2,273.1 594.4,272.9 594.6,272.4 594.9,272.2 595.1,272.1 595.3,271.8 595.5,271.4 595.7,271 595.9,270.9 596.1,270.5 596.3,270.5 596.6,270.1 596.8,270 597,269.8 597.2,269.6 597.4,269.2 597.6,269.1 597.8,268.8 598.1,268.6 598.3,268.3 598.5,268.2 598.7,268.3 598.9,267.9 599.1,267.9 599.3,267.7 599.6,267.8 599.8,268 600,267.9 600.2,268.1 600.4,268 600.6,268.4 600.8,268.7 601,269.3 601.3,270 601.5,270.6 601.7,271.5 601.9,272.6 602.1,273.6 602.3,274.7 602.5,275.8 602.8,277.2 603,278.5 603.2,279.8 603.4,280.9 603.6,282.3 603.8,283.5 604,284.6 604.3,286 604.5,287.1 604.7,288.3 604.9,289.4 605.1,290.4 605.3,291.3 605.5,292.3 605.8,293.4 606,294.1 606.2,294.8 606.4,295.5 606.6,295.9 606.8,296.4 607,296.9 607.2,297 607.5,297.5 607.7,297.7 607.9,297.7 608.1,298 608.3,298.2 608.5,298.2 608.7,298.4 609,298.6 609.2,298.6 609.4,299 609.6,298.9 609.8,299.1 610,298.7 610.2,298.8 610.5,299 610.7,299.3 610.9,299 611.1,299.3 611.3,299 611.5,299.1 611.7,299.2 611.9,299.1 612.2,299.4 612.4,299.1 612.6,299.2 612.8,299.1 613,299.1 613.2,299.4 613.4,299.3 613.7,299.3 613.9,299.5 614.1,299.1 614.3,299.2 614.5,299.3 614.7,299.3 614.9,299.1 615.2,299.5 615.4,299.4 615.6,299.2 615.8,299.3 616,299.3 616.2,299.4 616.4,299.4 616.7,299.2 616.9,299.4 617.1,299.1 617.3,299.1 617.5,299.1 617.7,299.4 617.9,299.3 618.1,299.5 618.4,299.4 618.6,299.5 618.8,299.3 619,299.1 619.2,299.2 619.4,299.4 619.6,299.4 619.9,299.1 620.1,299.5 620.3,299.1 620.5,299.1 620.7,299.5 620.9,299.1 621.1,299.2 621.4,299.4 621.6,299.4 621.8,299.3 622,299.3 622.2,299.1 622.4,299.1 622.6,299.4 622.9,299.6 623.1,299.2 623.3,299.3 623.5,299.3 623.7,299.5 623.9,299.5 624.1,299.1 624.3,299.4 624.6,299.3 624.8,299.1 625,299.5 625.2,299.3 625.4,299.6 625.6,299.3 625.8,299.2 626.1,299.5 626.3,299.2 626.5,299.1 626.7,299.2 626.9,299.2 627.1,299.1 627.3,299.2 627.6,299.3 627.8,299.2 628,299.2 628.2,299.3 628.4,299.3 628.6,299.5 628.8,299.4 629,299.4 629.3,299.2 629.5,299.2 629.7,299.5 629.9,299.1 630.1,299.6 630.3,299.6 630.5,299.4 630.8,299.6 631,299.1 631.2,299.4 631.4,299.4 631.6,299.2 631.8,299.3 632,299.3 632.3,299.4 632.5,299.4 632.7,299.1 632.9,299.5 633.1,299.4 633.3,299.4 633.5,299.6 633.8,299.5 634,299.4 634.2,299.2 634.4,299.4 634.6,299.6 634.8,299.2 635,299.6 635.2,299.2 635.5,299.6 635.7,299.3 635.9,299.6 636.1,299.5 636.3,299.4 636.5,299.3 636.7,299.4 637,299.4 637.2,299.4 637.4,299.4 637.6,299.5 637.8,299.2 638,299.5 638.2,299.6 638.5,299.4 638.7,299.5 638.9,299.3 639.1,299.6 639.3,299.3 639.5,299.5 639.7,299.2 640,299.5 640.2,299.4 640.4,299.5 640.6,299.4 640.8,299.5 641,299.3 641.2,299.4 641.4,299.3 641.7,299.5 641.9,299.4 642.1,299.4 642.3,299.3 642.5,299.3 642.7,299.4 642.9,299.6 643.2,299.6 643.4,299.6 643.6,299.6 643.8,299.6 644,299.3 644.2,299.5 644.4,299.2 644.7,299.5 644.9,299.5 645.1,299.6 645.3,299.6 645.5,299.3 645.7,299.4 645.9,299.5 646.1,299.3 646.4,299.3 646.6,299.4 646.8,299.4 647,299.3 647.2,299.4 647.4,299.6 647.6,299.5 647.9,299.2 648.1,299.5 648.3,299.3 648.5,299.6 648.7,299.3 648.9,299.2 649.1,299.5 649.4,299.5 649.6,299.4 649.8,299.5 650,299.6 650.2,299.6 650.4,299.3 650.6,299.4 650.9,299.2 651.1,299.2 651.3,299.2 651.5,299.2 651.7,299.2 651.9,299.7 652.1,299.6 652.3,299.2 652.6,299.2 652.8,299.4 653,299.4 653.2,299.5 653.4,299.5 653.6,299.6 653.8,299.4 654.1,299.5 654.3,299.6 654.5,299.2 654.7,299.4 654.9,299.2 655.1,299.5 655.3,299.4 655.6,299.5 655.8,299.3 656,299.6 656.2,299.4 656.4,299.4 656.6,299.5 656.8,299.6 657.1,299.4 657.3,299.4 657.5,299.3 657.7,299.6 657.9,299.6 658.1,299.5 658.3,299.3 658.5,299.6 658.8,299.4 659,299.7 659.2,299.6 659.4,299.3 659.6,299.4 659.8,299.6 660,299.4 660.3,299.2 660.5,299.5 660.7,299.4 660.9,299.5 661.1,299.4 661.3,299.7 661.5,299.2 661.8,299.4 662,299.5 662.2,299.5 662.4,299.6 662.6,299.2 662.8,299.3 663,299.5 663.2,299.4 663.5,299.4 663.7,299.6 663.9,299.7 664.1,299.3 664.3,299.6 664.5,299.4 664.7,299.7 665,299.7 665.2,299.6 665.4,299.4 665.6,299.4 665.8,299.2 666,299.4 666.2,299.4 666.5,299.7 666.7,299.2 666.9,299.5 667.1,299.3 667.3,299.7 667.5,299.3 667.7,299.5 668,299.6 668.2,299.5 668.4,299.7 668.6,299.4 668.8,299.6 669,299.3 669.2,299.6 669.4,299.4 669.7,299.4 669.9,299.3 670.1,299.2 670.3,299.6 670.5,299.4 670.7,299.5 670.9,299.3 671.2,299.3 671.4,299.3 671.6,299.4 671.8,299.6" stroke="#3a7ae6" stroke-width="1.15" fill="none" stroke-linejoin="round" clip-path="url(#clipF)"/>
<path d="M500.8,271.1 501,271.3 501.2,271.5 501.4,271.9 501.7,272.1 501.9,272.5 502.1,273.1 502.3,273.6 502.5,274.3 502.7,274.9 502.9,275.5 503.2,276.3 503.4,277.2 503.6,277.9 503.8,279 504,279.7 504.2,280.3 504.4,281.2 504.6,281.9 504.9,282.9 505.1,283.6 505.3,284.5 505.5,285.3 505.7,285.9 505.9,286.5 506.1,287.1 506.4,287.4 506.6,287.6 506.8,287.8 507,287.9 507.2,287.9 507.4,287.9 507.6,287.7 507.9,287.5 508.1,287.4 508.3,286.9 508.5,286.4 508.7,285.9 508.9,285.4 509.1,284.9 509.4,284.4 509.6,283.9 509.8,283.3 510,282.7 510.2,282.4 510.4,282.3 510.6,282 510.8,282.1 511.1,282.4 511.3,282.6 511.5,283.1 511.7,283.5 511.9,283.8 512.1,284.2 512.3,284.8 512.6,285.3 512.8,285.7 513,286.1 513.2,286.5 513.4,286.9 513.6,287.2 513.8,287.4 514.1,287.8 514.3,287.8 514.5,287.9 514.7,288 514.9,287.7 515.1,287.8 515.3,287.7 515.5,287.5 515.8,287.6 516,287.5 516.2,287.4 516.4,287.4 516.6,287 516.8,286.8 517,286.2 517.3,285.1 517.5,283.6 517.7,282.1 517.9,280.4 518.1,278.6 518.3,277.2 518.5,275.6 518.8,273.8 519,272.4 519.2,270.9 519.4,269.7 519.6,268.9 519.8,268 520,267.5 520.3,267 520.5,267 520.7,267.2 520.9,267.8 521.1,268.7 521.3,269.7 521.5,270.7 521.7,271.9 522,273.5 522.2,275 522.4,276.6 522.6,278.1 522.8,279.3 523,280.7 523.2,281.9 523.5,283.1 523.7,284.3 523.9,285.2 524.1,286 524.3,286.7 524.5,287.3 524.7,287.8 525,288.5 525.2,288.8 525.4,289.4 525.6,289.7 525.8,289.8 526,290.1 526.2,290.5 526.5,290.6 526.7,291 526.9,291.1 527.1,291.5 527.3,291.7 527.5,291.7 527.7,292.1 527.9,292.1 528.2,292.5 528.4,292.6 528.6,292.8 528.8,293.1 529,293.3 529.2,293.6 529.4,293.7 529.7,294.1 529.9,294.2 530.1,294.5 530.3,295 530.5,295 530.7,295.2 530.9,295.5 531.2,295.7 531.4,296 531.6,296.2 531.8,296.4 532,296.5 532.2,296.6 532.4,296.8 532.6,296.9 532.9,297.1 533.1,297.1 533.3,297.4 533.5,297.3 533.7,297.5 533.9,297.6 534.1,297.8 534.4,297.7 534.6,297.9 534.8,297.9 535,298 535.2,298.1 535.4,298.2 535.6,298.1 535.9,298.3 536.1,298.2 536.3,298.2 536.5,298.2 536.7,298.3 536.9,298.3 537.1,298.3 537.4,298.2 537.6,298.4 537.8,298.3 538,298.3 538.2,298.3 538.4,298.3 538.6,298.3 538.8,298.3 539.1,298.1 539.3,298.2 539.5,298.1 539.7,298.1 539.9,298.2 540.1,298.1 540.3,298.2 540.6,298 540.8,298 541,298.1 541.2,298 541.4,298 541.6,297.9 541.8,298 542.1,297.8 542.3,297.8 542.5,297.9 542.7,297.7 542.9,297.6 543.1,297.7 543.3,297.6 543.5,297.5 543.8,297.4 544,297.6 544.2,297.3 544.4,297.4 544.6,297.2 544.8,297.2 545,297.1 545.3,297 545.5,296.9 545.7,296.8 545.9,296.8 546.1,296.9 546.3,296.8 546.5,296.8 546.8,296.8 547,296.8 547.2,296.8 547.4,296.9 547.6,296.9 547.8,296.7 548,296.7 548.3,296.8 548.5,296.9 548.7,297 548.9,297 549.1,297 549.3,297.3 549.5,297.2 549.7,297.1 550,297.4 550.2,297.4 550.4,297.6 550.6,297.6 550.8,297.6 551,297.8 551.2,297.7 551.5,297.8 551.7,297.8 551.9,298 552.1,297.9 552.3,298.1 552.5,298.1 552.7,298.1 553,298.2 553.2,298.2 553.4,298.4 553.6,298.4 553.8,298.4 554,298.4 554.2,298.3 554.5,298.4 554.7,298.3 554.9,298.3 555.1,298.5 555.3,298.3 555.5,298.4 555.7,298.4 555.9,298.5 556.2,298.3 556.4,298.3 556.6,298.4 556.8,298.3 557,298.4 557.2,298.5 557.4,298.4 557.7,298.3 557.9,298.3 558.1,298.4 558.3,298.4 558.5,298.3 558.7,298.4 558.9,298.4 559.2,298.3 559.4,298.3 559.6,298.1 559.8,298.3 560,298.2 560.2,298.1 560.4,298.2 560.6,298.2 560.9,298 561.1,298.1 561.3,298.1 561.5,297.9 561.7,298 561.9,297.8 562.1,297.9 562.4,297.9 562.6,297.8 562.8,297.7 563,297.6 563.2,297.6 563.4,297.7 563.6,297.4 563.9,297.4 564.1,297.4 564.3,297.3 564.5,297.4 564.7,297.2 564.9,297.1 565.1,297 565.4,296.9 565.6,297 565.8,296.8 566,296.7 566.2,296.6 566.4,296.5 566.6,296.4 566.8,296.2 567.1,296.1 567.3,295.9 567.5,296 567.7,295.8 567.9,295.7 568.1,295.6 568.3,295.3 568.6,295.2 568.8,295.2 569,295 569.2,294.8 569.4,294.6 569.6,294.5 569.8,294.3 570.1,294.4 570.3,294.3 570.5,294.1 570.7,293.8 570.9,293.8 571.1,293.6 571.3,293.3 571.6,293.1 571.8,293 572,292.8 572.2,292.6 572.4,292.4 572.6,292.2 572.8,292 573,291.6 573.3,291.3 573.5,291.3 573.7,290.9 573.9,290.6 574.1,290.4 574.3,290.3 574.5,289.9 574.8,289.8 575,289.5 575.2,288.9 575.4,288.8 575.6,288.3 575.8,288.1 576,287.9 576.3,287.6 576.5,287.1 576.7,286.9 576.9,286.4 577.1,286 577.3,285.8 577.5,285.4 577.8,285.1 578,284.5 578.2,284.2 578.4,283.8 578.6,283.5 578.8,283.2 579,282.6 579.2,282.2 579.5,281.9 579.7,281.4 579.9,281 580.1,280.5 580.3,280 580.5,279.6 580.7,279 581,278.6 581.2,278.1 581.4,277.5 581.6,276.9 581.8,276.4 582,276 582.2,275.4 582.5,274.8 582.7,274.2 582.9,273.6 583.1,273 583.3,272.3 583.5,271.6 583.7,271.1 583.9,270.4 584.2,269.8 584.4,269.3 584.6,268.7 584.8,268 585,267.3 585.2,266.6 585.4,265.9 585.7,265.1 585.9,264.6 586.1,264.1 586.3,263.6 586.5,263 586.7,262.7 586.9,262.2 587.2,261.8 587.4,261.7 587.6,261.3 587.8,261.1 588,261 588.2,261 588.4,260.7 588.7,260.7 588.9,260.6 589.1,260.4 589.3,260.2 589.5,260 589.7,259.9 589.9,259.7 590.1,259.7 590.4,259.4 590.6,259.2 590.8,258.9 591,258.6 591.2,258.4 591.4,258 591.6,257.7 591.9,257.3 592.1,257 592.3,256.6 592.5,256.1 592.7,255.8 592.9,255.4 593.1,254.7 593.4,254.3 593.6,253.7 593.8,253.3 594,252.8 594.2,252.1 594.4,251.8 594.6,251 594.9,250.6 595.1,250.2 595.3,249.8 595.5,249.3 595.7,248.8 595.9,248.1 596.1,247.9 596.3,247.3 596.6,247 596.8,246.4 597,246.1 597.2,245.6 597.4,245.2 597.6,245 597.8,244.6 598.1,244.3 598.3,243.8 598.5,243.7 598.7,243.4 598.9,243.1 599.1,242.7 599.3,242.7 599.6,242.8 599.8,242.7 600,243 600.2,243.1 600.4,243.3 600.6,243.7 600.8,244.6 601,245.3 601.3,246.5 601.5,247.8 601.7,249.5 601.9,251.4 602.1,253.1 602.3,255 602.5,257.2 602.8,259.4 603,261.9 603.2,264.3 603.4,266.4 603.6,268.4 603.8,270.7 604,273.2 604.3,275.3 604.5,277.6 604.7,279.5 604.9,281.5 605.1,283.3 605.3,285.1 605.5,286.9 605.8,288.6 606,290.2 606.2,291.3 606.4,292.4 606.6,293.5 606.8,294.1 607,294.7 607.2,295.4 607.5,295.9 607.7,296.4 607.9,296.6 608.1,297 608.3,297.3 608.5,297.4 608.7,297.8 609,298.2 609.2,298.1 609.4,298.3 609.6,298.5 609.8,298.6 610,298.9 610.2,298.9 610.5,298.8 610.7,298.8 610.9,299.1 611.1,298.9 611.3,299.4 611.5,299.2 611.7,299.1 611.9,299.1 612.2,299.3 612.4,299.4 612.6,299 612.8,299.2 613,299.2 613.2,299.4 613.4,299.5 613.7,299.3 613.9,299.3 614.1,299.1 614.3,299.2 614.5,299.2 614.7,299.3 614.9,299.2 615.2,299.5 615.4,299.1 615.6,299.3 615.8,299.3 616,299.5 616.2,299.5 616.4,299.2 616.7,299.2 616.9,299.2 617.1,299.4 617.3,299.3 617.5,299.2 617.7,299.3 617.9,299.1 618.1,299.5 618.4,299.2 618.6,299.6 618.8,299.3 619,299.3 619.2,299.5 619.4,299.4 619.6,299.2 619.9,299.2 620.1,299.5 620.3,299.3 620.5,299.2 620.7,299.5 620.9,299.1 621.1,299.1 621.4,299.4 621.6,299.5 621.8,299.5 622,299.5 622.2,299.4 622.4,299.2 622.6,299.1 622.9,299.3 623.1,299.1 623.3,299.4 623.5,299.3 623.7,299.6 623.9,299.4 624.1,299.6 624.3,299.5 624.6,299.2 624.8,299.6 625,299.5 625.2,299.4 625.4,299.4 625.6,299.6 625.8,299.6 626.1,299.3 626.3,299.4 626.5,299.6 626.7,299.4 626.9,299.4 627.1,299.1 627.3,299.6 627.6,299.5 627.8,299.6 628,299.4 628.2,299.1 628.4,299.2 628.6,299.6 628.8,299.4 629,299.5 629.3,299.1 629.5,299.3 629.7,299.3 629.9,299.5 630.1,299.4 630.3,299.4 630.5,299.5 630.8,299.4 631,299.6 631.2,299.4 631.4,299.1 631.6,299.4 631.8,299.4 632,299.3 632.3,299.2 632.5,299.3 632.7,299.5 632.9,299.3 633.1,299.5 633.3,299.3 633.5,299.6 633.8,299.6 634,299.6 634.2,299.5 634.4,299.3 634.6,299.6 634.8,299.2 635,299.6 635.2,299.2 635.5,299.2 635.7,299.3 635.9,299.2 636.1,299.2 636.3,299.4 636.5,299.2 636.7,299.6 637,299.3 637.2,299.3 637.4,299.3 637.6,299.6 637.8,299.6 638,299.4 638.2,299.4 638.5,299.3 638.7,299.6 638.9,299.4 639.1,299.2 639.3,299.5 639.5,299.3 639.7,299.2 640,299.3 640.2,299.4 640.4,299.5 640.6,299.4 640.8,299.6 641,299.6 641.2,299.5 641.4,299.6 641.7,299.2 641.9,299.5 642.1,299.2 642.3,299.4 642.5,299.2 642.7,299.2 642.9,299.3 643.2,299.4 643.4,299.6 643.6,299.4 643.8,299.5 644,299.3 644.2,299.7 644.4,299.4 644.7,299.5 644.9,299.5 645.1,299.4 645.3,299.2 645.5,299.2 645.7,299.5 645.9,299.2 646.1,299.2 646.4,299.4 646.6,299.4 646.8,299.6 647,299.3 647.2,299.4 647.4,299.3 647.6,299.2 647.9,299.4 648.1,299.3 648.3,299.4 648.5,299.6 648.7,299.4 648.9,299.6 649.1,299.6 649.4,299.2 649.6,299.5 649.8,299.6 650,299.5 650.2,299.7 650.4,299.4 650.6,299.6 650.9,299.6 651.1,299.4 651.3,299.2 651.5,299.7 651.7,299.3 651.9,299.4 652.1,299.4 652.3,299.5 652.6,299.7 652.8,299.5 653,299.4 653.2,299.5 653.4,299.2 653.6,299.5 653.8,299.3 654.1,299.3 654.3,299.3 654.5,299.4 654.7,299.4 654.9,299.3 655.1,299.6 655.3,299.6 655.6,299.7 655.8,299.4 656,299.5 656.2,299.2 656.4,299.2 656.6,299.5 656.8,299.4 657.1,299.6 657.3,299.3 657.5,299.4 657.7,299.6 657.9,299.2 658.1,299.7 658.3,299.6 658.5,299.4 658.8,299.2 659,299.6 659.2,299.6 659.4,299.3 659.6,299.5 659.8,299.2 660,299.7 660.3,299.6 660.5,299.5 660.7,299.3 660.9,299.6 661.1,299.4 661.3,299.2 661.5,299.2 661.8,299.3 662,299.7 662.2,299.5 662.4,299.6 662.6,299.6 662.8,299.6 663,299.3 663.2,299.4 663.5,299.6 663.7,299.6 663.9,299.7 664.1,299.2 664.3,299.3 664.5,299.5 664.7,299.2 665,299.2 665.2,299.6 665.4,299.6 665.6,299.6 665.8,299.4 666,299.4 666.2,299.4 666.5,299.3 666.7,299.4 666.9,299.5 667.1,299.4 667.3,299.2 667.5,299.7 667.7,299.5 668,299.6 668.2,299.3 668.4,299.5 668.6,299.3 668.8,299.4 669,299.2 669.2,299.4 669.4,299.4 669.7,299.2 669.9,299.3 670.1,299.5 670.3,299.7 670.5,299.2 670.7,299.7 670.9,299.2 671.2,299.2 671.4,299.4 671.6,299.2 671.8,299.4" stroke="#34b06c" stroke-width="1.15" fill="none" stroke-linejoin="round" clip-path="url(#clipF)"/>
<path d="M500.8,271.8 501,272.1 501.2,272.6 501.4,273 501.7,273.3 501.9,273.9 502.1,274.5 502.3,274.9 502.5,275.4 502.7,276 502.9,276.4 503.2,277 503.4,277.6 503.6,278.2 503.8,279 504,279.6 504.2,280.2 504.4,281 504.6,281.6 504.9,282.3 505.1,283.2 505.3,283.8 505.5,284.5 505.7,285.2 505.9,285.5 506.1,285.8 506.4,286.2 506.6,286.1 506.8,286.3 507,286.2 507.2,285.8 507.4,285.4 507.6,285.1 507.9,284.3 508.1,283.8 508.3,283.1 508.5,282 508.7,280.8 508.9,279.5 509.1,278.3 509.4,277.2 509.6,276 509.8,275 510,274 510.2,273.3 510.4,272.7 510.6,272.6 510.8,272.6 511.1,273.1 511.3,273.6 511.5,274.3 511.7,275.1 511.9,275.8 512.1,276.9 512.3,277.9 512.6,278.6 512.8,279.5 513,280.5 513.2,281 513.4,281.8 513.6,282.5 513.8,283 514.1,283.5 514.3,283.6 514.5,283.8 514.7,283.8 514.9,283.9 515.1,283.7 515.3,283.7 515.5,283.4 515.8,283.2 516,283 516.2,283.1 516.4,283.1 516.6,282.8 516.8,282.1 517,281.1 517.3,279.1 517.5,276.6 517.7,273.8 517.9,270.9 518.1,267.9 518.3,265.2 518.5,262.4 518.8,259.4 519,256.5 519.2,254.2 519.4,252 519.6,250.3 519.8,248.8 520,247.9 520.3,247.2 520.5,247 520.7,247.4 520.9,248.4 521.1,249.5 521.3,251.3 521.5,253.2 521.7,255.3 522,257.9 522.2,260.4 522.4,263.1 522.6,265.8 522.8,267.8 523,270.2 523.2,272.4 523.5,274.4 523.7,276.1 523.9,277.7 524.1,278.9 524.3,280.2 524.5,281.1 524.7,282.1 525,282.9 525.2,283.6 525.4,284.2 525.6,284.7 525.8,285.2 526,285.7 526.2,286 526.5,286.4 526.7,286.7 526.9,287 527.1,287.5 527.3,287.7 527.5,288.2 527.7,288.3 527.9,288.8 528.2,288.9 528.4,289.3 528.6,289.7 528.8,290.1 529,290.6 529.2,291.1 529.4,291.4 529.7,291.9 529.9,292.6 530.1,293 530.3,293.3 530.5,293.9 530.7,294.2 530.9,294.5 531.2,294.9 531.4,295.1 531.6,295.4 531.8,295.9 532,296.1 532.2,296.4 532.4,296.6 532.6,296.8 532.9,296.9 533.1,297 533.3,297.4 533.5,297.5 533.7,297.6 533.9,297.7 534.1,297.8 534.4,297.8 534.6,297.9 534.8,297.9 535,297.9 535.2,298 535.4,298.2 535.6,298.1 535.9,298.3 536.1,298.2 536.3,298.1 536.5,298.2 536.7,298.4 536.9,298.4 537.1,298.2 537.4,298.2 537.6,298.2 537.8,298.4 538,298.3 538.2,298.4 538.4,298.2 538.6,298.2 538.8,298.3 539.1,298.4 539.3,298.2 539.5,298.1 539.7,298.2 539.9,298.2 540.1,298.2 540.3,298.1 540.6,298 540.8,298.1 541,298.1 541.2,297.9 541.4,298 541.6,298 541.8,298 542.1,297.9 542.3,297.8 542.5,297.9 542.7,297.7 542.9,297.8 543.1,297.7 543.3,297.6 543.5,297.5 543.8,297.5 544,297.4 544.2,297.3 544.4,297.2 544.6,297.2 544.8,297.2 545,297.2 545.3,297.2 545.5,297 545.7,297 545.9,297.1 546.1,296.8 546.3,296.9 546.5,296.7 546.8,296.9 547,296.8 547.2,296.7 547.4,296.8 547.6,296.8 547.8,296.8 548,297 548.3,296.8 548.5,296.9 548.7,297 548.9,297 549.1,297 549.3,297.2 549.5,297.2 549.7,297.3 550,297.3 550.2,297.4 550.4,297.6 550.6,297.5 550.8,297.7 551,297.7 551.2,297.8 551.5,297.8 551.7,297.8 551.9,297.9 552.1,298.1 552.3,298.1 552.5,298.2 552.7,298.2 553,298.3 553.2,298.2 553.4,298.2 553.6,298.4 553.8,298.2 554,298.3 554.2,298.2 554.5,298.3 554.7,298.3 554.9,298.3 555.1,298.4 555.3,298.4 555.5,298.2 555.7,298.2 555.9,298.3 556.2,298.4 556.4,298.3 556.6,298.3 556.8,298.3 557,298.3 557.2,298.2 557.4,298.1 557.7,298.2 557.9,298.1 558.1,298.1 558.3,298.2 558.5,298.1 558.7,298.1 558.9,298.1 559.2,298 559.4,298 559.6,298.1 559.8,297.9 560,298 560.2,297.9 560.4,297.9 560.6,297.8 560.9,297.7 561.1,297.8 561.3,297.8 561.5,297.5 561.7,297.6 561.9,297.4 562.1,297.3 562.4,297.2 562.6,297.3 562.8,297.1 563,297.1 563.2,296.9 563.4,296.8 563.6,296.9 563.9,296.8 564.1,296.7 564.3,296.6 564.5,296.5 564.7,296.3 564.9,296.4 565.1,296 565.4,295.9 565.6,295.8 565.8,295.6 566,295.5 566.2,295.2 566.4,295 566.6,295 566.8,294.8 567.1,294.7 567.3,294.5 567.5,294.1 567.7,294 567.9,293.9 568.1,293.6 568.3,293.5 568.6,293.4 568.8,293.1 569,292.8 569.2,292.7 569.4,292.4 569.6,292.2 569.8,292 570.1,291.7 570.3,291.5 570.5,291.2 570.7,290.9 570.9,290.7 571.1,290.6 571.3,290.1 571.6,289.8 571.8,289.5 572,289.2 572.2,288.9 572.4,288.5 572.6,288.3 572.8,287.7 573,287.5 573.3,287.2 573.5,286.7 573.7,286.3 573.9,286 574.1,285.8 574.3,285.2 574.5,284.9 574.8,284.4 575,283.9 575.2,283.5 575.4,282.9 575.6,282.5 575.8,282 576,281.6 576.3,281.1 576.5,280.5 576.7,279.9 576.9,279.2 577.1,278.8 577.3,278.2 577.5,277.7 577.8,277 578,276.5 578.2,275.9 578.4,275.4 578.6,274.8 578.8,274.1 579,273.4 579.2,272.9 579.5,272.3 579.7,271.4 579.9,270.9 580.1,270 580.3,269.3 580.5,268.6 580.7,267.7 581,267 581.2,266.2 581.4,265.3 581.6,264.3 581.8,263.5 582,262.7 582.2,261.9 582.5,261.1 582.7,260.1 582.9,259.1 583.1,258.2 583.3,257.2 583.5,256.1 583.7,255.2 583.9,254.2 584.2,253.2 584.4,252.2 584.6,251.5 584.8,250.3 585,249.2 585.2,248.2 585.4,247.1 585.7,246 585.9,245.2 586.1,244.3 586.3,243.5 586.5,242.6 586.7,241.8 586.9,241.4 587.2,240.8 587.4,240.4 587.6,239.9 587.8,239.6 588,239.5 588.2,239.3 588.4,239.1 588.7,238.9 588.9,238.5 589.1,238.3 589.3,238.1 589.5,238 589.7,237.8 589.9,237.6 590.1,237.2 590.4,236.7 590.6,236.5 590.8,236.1 591,235.7 591.2,235.1 591.4,234.7 591.6,234.1 591.9,233.7 592.1,233 592.3,232.4 592.5,231.7 592.7,231.1 592.9,230.4 593.1,229.8 593.4,229 593.6,228.1 593.8,227.4 594,226.3 594.2,225.5 594.4,224.8 594.6,224 594.9,223.3 595.1,222.4 595.3,221.6 595.5,221 595.7,220.3 595.9,219.4 596.1,218.7 596.3,217.9 596.6,217.4 596.8,216.6 597,216 597.2,215.5 597.4,214.7 597.6,214.1 597.8,213.5 598.1,212.9 598.3,212.4 598.5,212 598.7,211.8 598.9,211.2 599.1,210.9 599.3,210.7 599.6,210.8 599.8,210.7 600,211 600.2,211.3 600.4,211.6 600.6,212.4 600.8,213.4 601,214.9 601.3,216.6 601.5,218.7 601.7,221.3 601.9,224.1 602.1,227 602.3,230 602.5,233.5 602.8,237.1 603,240.8 603.2,244.5 603.4,247.7 603.6,251.2 603.8,254.7 604,258.4 604.3,261.8 604.5,265.2 604.7,268.4 604.9,271.5 605.1,274.4 605.3,277.2 605.5,280 605.8,282.5 606,284.9 606.2,286.8 606.4,288.5 606.6,290.1 606.8,291.4 607,292.2 607.2,293.3 607.5,294 607.7,294.8 607.9,295.4 608.1,295.7 608.3,296.5 608.5,296.5 608.7,296.8 609,297.1 609.2,297.4 609.4,297.8 609.6,298 609.8,298.1 610,298.5 610.2,298.7 610.5,299 610.7,299 610.9,299.2 611.1,298.8 611.3,299.2 611.5,299.3 611.7,299 611.9,299.2 612.2,299.3 612.4,299.5 612.6,299.4 612.8,299.4 613,299.1 613.2,299.4 613.4,299.1 613.7,299.4 613.9,299.5 614.1,299.1 614.3,299.5 614.5,299.2 614.7,299.3 614.9,299.4 615.2,299.2 615.4,299.4 615.6,299.1 615.8,299.3 616,299.1 616.2,299.1 616.4,299.4 616.7,299.3 616.9,299.2 617.1,299.3 617.3,299.6 617.5,299.3 617.7,299.2 617.9,299.5 618.1,299.6 618.4,299.6 618.6,299.3 618.8,299.6 619,299.2 619.2,299.4 619.4,299.1 619.6,299.3 619.9,299.4 620.1,299.5 620.3,299.4 620.5,299.3 620.7,299.2 620.9,299.2 621.1,299.5 621.4,299.6 621.6,299.3 621.8,299.3 622,299.3 622.2,299.2 622.4,299.2 622.6,299.3 622.9,299.2 623.1,299.6 623.3,299.2 623.5,299.3 623.7,299.6 623.9,299.6 624.1,299.3 624.3,299.5 624.6,299.2 624.8,299.5 625,299.4 625.2,299.4 625.4,299.2 625.6,299.5 625.8,299.2 626.1,299.3 626.3,299.4 626.5,299.2 626.7,299.2 626.9,299.3 627.1,299.4 627.3,299.6 627.6,299.6 627.8,299.3 628,299.6 628.2,299.4 628.4,299.5 628.6,299.5 628.8,299.3 629,299.3 629.3,299.3 629.5,299.5 629.7,299.4 629.9,299.2 630.1,299.2 630.3,299.4 630.5,299.6 630.8,299.2 631,299.7 631.2,299.6 631.4,299.4 631.6,299.6 631.8,299.3 632,299.3 632.3,299.6 632.5,299.2 632.7,299.2 632.9,299.4 633.1,299.2 633.3,299.3 633.5,299.5 633.8,299.3 634,299.2 634.2,299.3 634.4,299.7 634.6,299.5 634.8,299.3 635,299.5 635.2,299.6 635.5,299.5 635.7,299.6 635.9,299.5 636.1,299.6 636.3,299.3 636.5,299.6 636.7,299.2 637,299.6 637.2,299.4 637.4,299.4 637.6,299.6 637.8,299.4 638,299.4 638.2,299.4 638.5,299.6 638.7,299.5 638.9,299.3 639.1,299.4 639.3,299.6 639.5,299.5 639.7,299.3 640,299.7 640.2,299.5 640.4,299.4 640.6,299.5 640.8,299.7 641,299.6 641.2,299.3 641.4,299.5 641.7,299.6 641.9,299.5 642.1,299.7 642.3,299.7 642.5,299.3 642.7,299.3 642.9,299.6 643.2,299.5 643.4,299.7 643.6,299.5 643.8,299.4 644,299.3 644.2,299.4 644.4,299.3 644.7,299.2 644.9,299.4 645.1,299.7 645.3,299.6 645.5,299.4 645.7,299.6 645.9,299.3 646.1,299.7 646.4,299.7 646.6,299.2 646.8,299.5 647,299.4 647.2,299.4 647.4,299.6 647.6,299.5 647.9,299.5 648.1,299.3 648.3,299.3 648.5,299.4 648.7,299.6 648.9,299.5 649.1,299.2 649.4,299.6 649.6,299.5 649.8,299.4 650,299.2 650.2,299.7 650.4,299.4 650.6,299.5 650.9,299.4 651.1,299.3 651.3,299.7 651.5,299.4 651.7,299.5 651.9,299.3 652.1,299.3 652.3,299.5 652.6,299.6 652.8,299.3 653,299.3 653.2,299.4 653.4,299.3 653.6,299.2 653.8,299.6 654.1,299.4 654.3,299.3 654.5,299.6 654.7,299.2 654.9,299.5 655.1,299.2 655.3,299.4 655.6,299.2 655.8,299.3 656,299.3 656.2,299.5 656.4,299.5 656.6,299.4 656.8,299.3 657.1,299.5 657.3,299.2 657.5,299.6 657.7,299.4 657.9,299.6 658.1,299.6 658.3,299.6 658.5,299.7 658.8,299.4 659,299.4 659.2,299.5 659.4,299.3 659.6,299.4 659.8,299.4 660,299.7 660.3,299.5 660.5,299.7 660.7,299.6 660.9,299.3 661.1,299.6 661.3,299.4 661.5,299.5 661.8,299.4 662,299.3 662.2,299.3 662.4,299.2 662.6,299.2 662.8,299.5 663,299.2 663.2,299.3 663.5,299.6 663.7,299.5 663.9,299.4 664.1,299.3 664.3,299.6 664.5,299.3 664.7,299.4 665,299.4 665.2,299.5 665.4,299.5 665.6,299.5 665.8,299.3 666,299.5 666.2,299.3 666.5,299.3 666.7,299.7 666.9,299.7 667.1,299.2 667.3,299.6 667.5,299.3 667.7,299.5 668,299.6 668.2,299.7 668.4,299.5 668.6,299.4 668.8,299.7 669,299.7 669.2,299.6 669.4,299.3 669.7,299.3 669.9,299.6 670.1,299.5 670.3,299.5 670.5,299.3 670.7,299.6 670.9,299.5 671.2,299.5 671.4,299.6 671.6,299.5 671.8,299.3" stroke="#b070ea" stroke-width="1.15" fill="none" stroke-linejoin="round" clip-path="url(#clipF)"/>
<path d="M500.8,275.6 501,276.2 501.2,276.7 501.4,277.3 501.7,278.2 501.9,278.9 502.1,279.5 502.3,280.2 502.5,280.6 502.7,280.7 502.9,281.2 503.2,281.3 503.4,281.8 503.6,282 503.8,282.2 504,282.5 504.2,282.6 504.4,282.7 504.6,283 504.9,283.2 505.1,283.2 505.3,283 505.5,283.1 505.7,282.9 505.9,282.9 506.1,282.9 506.4,282.8 506.6,282.7 506.8,282.6 507,282.4 507.2,281.9 507.4,281.2 507.6,280.5 507.9,279.9 508.1,278.9 508.3,278.2 508.5,276.7 508.7,275.1 508.9,273.3 509.1,271.6 509.4,270 509.6,268.6 509.8,267.1 510,265.8 510.2,264.7 510.4,264.1 510.6,263.8 510.8,263.8 511.1,264.4 511.3,265.2 511.5,266.2 511.7,267.3 511.9,268.5 512.1,269.7 512.3,271 512.6,272.4 512.8,273.5 513,274.5 513.2,275.6 513.4,276.5 513.6,277.6 513.8,278.4 514.1,279.1 514.3,279.4 514.5,279.3 514.7,279.5 514.9,279.3 515.1,279.2 515.3,279 515.5,278.7 515.8,278.5 516,278.3 516.2,278.1 516.4,278 516.6,277.8 516.8,276.6 517,275.1 517.3,272.3 517.5,268.7 517.7,264.6 517.9,260.3 518.1,256 518.3,252.4 518.5,248 518.8,243.7 519,239.8 519.2,236.1 519.4,233.1 519.6,230.5 519.8,228.5 520,227 520.3,226.1 520.5,225.8 520.7,226.2 520.9,227.6 521.1,229.5 521.3,231.9 521.5,234.9 521.7,237.6 522,241.1 522.2,245 522.4,248.8 522.6,252.4 522.8,255.8 523,259.1 523.2,262.2 523.5,264.9 523.7,267.4 523.9,269.8 524.1,271.4 524.3,273.1 524.5,274.5 524.7,276 525,277.1 525.2,278.3 525.4,278.9 525.6,279.8 525.8,280.4 526,281.1 526.2,281.5 526.5,282.1 526.7,282.5 526.9,283.1 527.1,283.5 527.3,284 527.5,284.5 527.7,284.8 527.9,285.1 528.2,285.6 528.4,286 528.6,286.6 528.8,287.1 529,287.9 529.2,288.3 529.4,289 529.7,289.7 529.9,290.4 530.1,291 530.3,291.7 530.5,292.3 530.7,292.7 530.9,293.2 531.2,293.7 531.4,294.1 531.6,294.5 531.8,295 532,295.2 532.2,295.6 532.4,296 532.6,296.3 532.9,296.6 533.1,296.9 533.3,296.9 533.5,297.1 533.7,297.3 533.9,297.5 534.1,297.5 534.4,297.8 534.6,297.8 534.8,298 535,298 535.2,298.1 535.4,298.1 535.6,298.1 535.9,298.2 536.1,298.3 536.3,298.4 536.5,298.2 536.7,298.3 536.9,298.3 537.1,298.4 537.4,298.4 537.6,298.5 537.8,298.2 538,298.4 538.2,298.4 538.4,298.3 538.6,298.3 538.8,298.4 539.1,298.2 539.3,298.2 539.5,298.1 539.7,298.3 539.9,298.2 540.1,298.3 540.3,298.2 540.6,298.2 540.8,298.2 541,298 541.2,298.1 541.4,298 541.6,297.9 541.8,297.9 542.1,298.1 542.3,297.9 542.5,297.8 542.7,297.8 542.9,297.7 543.1,297.7 543.3,297.6 543.5,297.6 543.8,297.6 544,297.5 544.2,297.4 544.4,297.4 544.6,297.3 544.8,297.2 545,297.1 545.3,297.2 545.5,297.1 545.7,296.9 545.9,297.1 546.1,296.9 546.3,296.8 546.5,296.9 546.8,296.9 547,296.9 547.2,296.8 547.4,296.9 547.6,296.8 547.8,296.8 548,296.8 548.3,297 548.5,296.8 548.7,296.9 548.9,297 549.1,297.2 549.3,297.1 549.5,297.3 549.7,297.3 550,297.3 550.2,297.5 550.4,297.4 550.6,297.6 550.8,297.7 551,297.7 551.2,297.9 551.5,297.8 551.7,298 551.9,297.9 552.1,298.2 552.3,298.2 552.5,298.1 552.7,298.3 553,298.2 553.2,298.3 553.4,298.2 553.6,298.2 553.8,298.2 554,298.4 554.2,298.4 554.5,298.3 554.7,298.4 554.9,298.3 555.1,298.3 555.3,298.2 555.5,298.2 555.7,298.2 555.9,298.2 556.2,298.2 556.4,298.3 556.6,298.3 556.8,298.1 557,298.1 557.2,298.1 557.4,298.1 557.7,298.1 557.9,298 558.1,298.1 558.3,298.1 558.5,297.9 558.7,297.9 558.9,297.8 559.2,297.8 559.4,297.9 559.6,297.9 559.8,297.8 560,297.8 560.2,297.8 560.4,297.6 560.6,297.7 560.9,297.5 561.1,297.6 561.3,297.5 561.5,297.3 561.7,297.3 561.9,297.1 562.1,297.1 562.4,297 562.6,296.9 562.8,296.8 563,296.6 563.2,296.4 563.4,296.3 563.6,296.4 563.9,296.3 564.1,296.1 564.3,295.9 564.5,295.8 564.7,295.6 564.9,295.4 565.1,295.3 565.4,295.2 565.6,295 565.8,294.9 566,294.6 566.2,294.3 566.4,294.2 566.6,294 566.8,293.7 567.1,293.4 567.3,293.2 567.5,293.1 567.7,292.8 567.9,292.6 568.1,292.2 568.3,292 568.6,291.7 568.8,291.4 569,291.2 569.2,290.9 569.4,290.5 569.6,290.4 569.8,290.1 570.1,289.8 570.3,289.5 570.5,289.1 570.7,288.9 570.9,288.4 571.1,288.1 571.3,287.7 571.6,287.4 571.8,287 572,286.6 572.2,286.3 572.4,285.8 572.6,285.4 572.8,285 573,284.4 573.3,284 573.5,283.5 573.7,283 573.9,282.7 574.1,282.2 574.3,281.5 574.5,281.2 574.8,280.4 575,279.9 575.2,279.2 575.4,278.6 575.6,278.1 575.8,277.4 576,276.8 576.3,276 576.5,275.4 576.7,274.7 576.9,273.9 577.1,273.2 577.3,272.6 577.5,271.8 577.8,271.2 578,270.4 578.2,269.7 578.4,268.8 578.6,268 578.8,267.3 579,266.5 579.2,265.8 579.5,264.9 579.7,264 579.9,263.3 580.1,262.2 580.3,261.4 580.5,260.2 580.7,259.3 581,258.2 581.2,257.1 581.4,256.3 581.6,255 581.8,254 582,253 582.2,252 582.5,250.9 582.7,249.6 582.9,248.5 583.1,247.2 583.3,245.9 583.5,244.6 583.7,243.4 583.9,242.1 584.2,240.9 584.4,239.8 584.6,238.6 584.8,237.3 585,235.7 585.2,234.4 585.4,233.1 585.7,231.7 585.9,230.7 586.1,229.4 586.3,228.5 586.5,227.3 586.7,226.4 586.9,225.8 587.2,225 587.4,224.5 587.6,224 587.8,223.5 588,223.2 588.2,223 588.4,222.9 588.7,222.5 588.9,222.2 589.1,222.1 589.3,221.7 589.5,221.4 589.7,221.3 589.9,221 590.1,220.6 590.4,220.1 590.6,219.6 590.8,219.1 591,218.4 591.2,218 591.4,217.3 591.6,216.7 591.9,215.9 592.1,215.3 592.3,214.4 592.5,213.7 592.7,212.9 592.9,211.8 593.1,211 593.4,210 593.6,208.8 593.8,207.9 594,206.8 594.2,205.9 594.4,204.7 594.6,203.6 594.9,202.6 595.1,201.7 595.3,200.7 595.5,199.9 595.7,199 595.9,198 596.1,197 596.3,196.1 596.6,195.3 596.8,194.4 597,193.8 597.2,192.8 597.4,192 597.6,191.3 597.8,190.4 598.1,189.8 598.3,189.1 598.5,188.5 598.7,188.1 598.9,187.5 599.1,187.2 599.3,187 599.6,186.8 599.8,187 600,187.2 600.2,187.6 600.4,188.1 600.6,189.1 600.8,190.3 601,192.2 601.3,194.5 601.5,197 601.7,200.3 601.9,203.9 602.1,207.5 602.3,211.4 602.5,215.6 602.8,220.4 603,224.9 603.2,229.6 603.4,233.8 603.6,238.2 603.8,242.7 604,247.3 604.3,251.8 604.5,255.9 604.7,260.1 604.9,263.7 605.1,267.5 605.3,271.2 605.5,274.9 605.8,278 606,280.9 606.2,283.6 606.4,285.8 606.6,287.7 606.8,289.2 607,290.5 607.2,291.7 607.5,292.7 607.7,293.7 607.9,294.5 608.1,294.8 608.3,295.3 608.5,296 608.7,296.6 609,296.7 609.2,297.2 609.4,297.6 609.6,297.6 609.8,297.9 610,298.3 610.2,298.6 610.5,298.5 610.7,298.6 610.9,299 611.1,299 611.3,299.2 611.5,299.2 611.7,299.2 611.9,299.4 612.2,299.3 612.4,299.3 612.6,299.6 612.8,299.5 613,299.4 613.2,299.5 613.4,299.3 613.7,299.3 613.9,299.3 614.1,299.2 614.3,299.3 614.5,299.2 614.7,299.5 614.9,299.2 615.2,299.1 615.4,299.3 615.6,299.2 615.8,299.3 616,299.4 616.2,299.5 616.4,299.4 616.7,299.3 616.9,299.2 617.1,299.2 617.3,299.4 617.5,299.2 617.7,299.5 617.9,299.6 618.1,299.4 618.4,299.4 618.6,299.3 618.8,299.5 619,299.6 619.2,299.3 619.4,299.6 619.6,299.2 619.9,299.4 620.1,299.6 620.3,299.4 620.5,299.3 620.7,299.6 620.9,299.2 621.1,299.6 621.4,299.6 621.6,299.4 621.8,299.3 622,299.4 622.2,299.2 622.4,299.6 622.6,299.7 622.9,299.4 623.1,299.5 623.3,299.5 623.5,299.5 623.7,299.2 623.9,299.5 624.1,299.3 624.3,299.4 624.6,299.5 624.8,299.2 625,299.6 625.2,299.5 625.4,299.6 625.6,299.3 625.8,299.3 626.1,299.5 626.3,299.6 626.5,299.4 626.7,299.5 626.9,299.4 627.1,299.4 627.3,299.7 627.6,299.7 627.8,299.3 628,299.3 628.2,299.7 628.4,299.6 628.6,299.5 628.8,299.3 629,299.6 629.3,299.2 629.5,299.7 629.7,299.3 629.9,299.7 630.1,299.4 630.3,299.2 630.5,299.4 630.8,299.3 631,299.5 631.2,299.2 631.4,299.3 631.6,299.6 631.8,299.3 632,299.3 632.3,299.6 632.5,299.5 632.7,299.3 632.9,299.4 633.1,299.3 633.3,299.5 633.5,299.5 633.8,299.6 634,299.6 634.2,299.3 634.4,299.6 634.6,299.3 634.8,299.3 635,299.4 635.2,299.6 635.5,299.7 635.7,299.7 635.9,299.3 636.1,299.2 636.3,299.2 636.5,299.6 636.7,299.3 637,299.5 637.2,299.5 637.4,299.3 637.6,299.3 637.8,299.4 638,299.6 638.2,299.7 638.5,299.6 638.7,299.6 638.9,299.6 639.1,299.4 639.3,299.6 639.5,299.6 639.7,299.3 640,299.5 640.2,299.7 640.4,299.7 640.6,299.5 640.8,299.7 641,299.4 641.2,299.7 641.4,299.5 641.7,299.4 641.9,299.5 642.1,299.6 642.3,299.3 642.5,299.2 642.7,299.3 642.9,299.3 643.2,299.2 643.4,299.5 643.6,299.5 643.8,299.5 644,299.3 644.2,299.6 644.4,299.6 644.7,299.5 644.9,299.5 645.1,299.2 645.3,299.6 645.5,299.7 645.7,299.5 645.9,299.3 646.1,299.7 646.4,299.5 646.6,299.4 646.8,299.3 647,299.6 647.2,299.4 647.4,299.2 647.6,299.2 647.9,299.4 648.1,299.6 648.3,299.4 648.5,299.4 648.7,299.4 648.9,299.4 649.1,299.5 649.4,299.4 649.6,299.5 649.8,299.6 650,299.7 650.2,299.4 650.4,299.6 650.6,299.6 650.9,299.6 651.1,299.5 651.3,299.5 651.5,299.2 651.7,299.5 651.9,299.4 652.1,299.5 652.3,299.4 652.6,299.3 652.8,299.5 653,299.5 653.2,299.5 653.4,299.6 653.6,299.6 653.8,299.7 654.1,299.6 654.3,299.7 654.5,299.5 654.7,299.4 654.9,299.7 655.1,299.3 655.3,299.5 655.6,299.4 655.8,299.5 656,299.3 656.2,299.4 656.4,299.6 656.6,299.4 656.8,299.6 657.1,299.3 657.3,299.5 657.5,299.6 657.7,299.7 657.9,299.2 658.1,299.6 658.3,299.6 658.5,299.2 658.8,299.7 659,299.5 659.2,299.5 659.4,299.4 659.6,299.3 659.8,299.2 660,299.5 660.3,299.7 660.5,299.6 660.7,299.7 660.9,299.6 661.1,299.4 661.3,299.3 661.5,299.7 661.8,299.6 662,299.3 662.2,299.4 662.4,299.5 662.6,299.7 662.8,299.7 663,299.6 663.2,299.4 663.5,299.7 663.7,299.4 663.9,299.3 664.1,299.7 664.3,299.6 664.5,299.5 664.7,299.4 665,299.3 665.2,299.4 665.4,299.5 665.6,299.5 665.8,299.4 666,299.5 666.2,299.2 666.5,299.4 666.7,299.4 666.9,299.4 667.1,299.5 667.3,299.5 667.5,299.4 667.7,299.4 668,299.2 668.2,299.5 668.4,299.5 668.6,299.2 668.8,299.3 669,299.4 669.2,299.5 669.4,299.6 669.7,299.5 669.9,299.5 670.1,299.5 670.3,299.6 670.5,299.5 670.7,299.4 670.9,299.7 671.2,299.4 671.4,299.3 671.6,299.6 671.8,299.6" stroke="#d8a028" stroke-width="1.15" fill="none" stroke-linejoin="round" clip-path="url(#clipF)"/>
<text x="-0.6" y="366.2" font-family='"Liberation Serif", serif' font-size="15" font-weight="normal" text-anchor="start" fill="#000">g</text>
<defs><linearGradient id="starg" x1="0" y1="0" x2="0" y2="1"><stop offset="0" stop-color="#fff"/><stop offset="0.27" stop-color="#fff"/><stop offset="0.36" stop-color="#ffe21a"/><stop offset="0.6" stop-color="#ffd000"/><stop offset="1" stop-color="#f29a00"/></linearGradient></defs>
<path d="M24.3 360.9 L25.6 364.6 L28.6 363.3 L30 365.6 L34.5 363.4 L31 368.6 L31.8 373.8 L28.3 372.8 L27.6 377.4 L24.6 374 L22.4 379.2 L21.6 373.4 L16.4 373.8 L19.3 370.4 L16 367 L21.6 365.6 Z" fill="url(#starg)" stroke="#e0221a" stroke-width="0.85" stroke-linejoin="miter"/>
<text x="25.4" y="370.8" font-family='"Liberation Serif", serif' font-size="4.4" font-weight="bold" text-anchor="middle" fill="#2a2000">ROS</text>
<rect x="59.2" y="367.3" width="105.6" height="3.1" fill="#4472c4" stroke="none" stroke-width="1"/>
<path d="M164.6 365.6 L169.3 368.85 L164.6 372.1 Z" fill="#4472c4"/>
<text x="110.2" y="361.8" font-family='"Liberation Serif", serif' font-size="5" font-weight="normal" text-anchor="middle" fill="#000" stroke="#000" stroke-width="0.1">HA-CUR NPs</text>
<defs><linearGradient id="rosg" x1="0" y1="0" x2="0" y2="1"><stop offset="0" stop-color="#fff"/><stop offset="0.6" stop-color="#fff"/><stop offset="0.7" stop-color="#ffc81e"/><stop offset="1" stop-color="#f6a400"/></linearGradient></defs>
<circle cx="193.3" cy="368.3" r="5.7" fill="url(#rosg)" stroke="#f08a8a" stroke-width="0.75"/>
<text x="193.6" y="370.1" font-family='"Liberation Serif", serif' font-size="4.8" font-weight="bold" text-anchor="middle" fill="#222">ROS</text>
<text x="26.05" y="387.5" font-family='"Liberation Serif", serif' font-size="5.1" font-weight="normal" text-anchor="middle" fill="#000" stroke="#000" stroke-width="0.12">Activated ROS signal</text>
<text x="193" y="387.2" font-family='"Liberation Serif", serif' font-size="5.1" font-weight="normal" text-anchor="middle" fill="#000" stroke="#000" stroke-width="0.12">Quenched ROS signal</text>
<path d="M19.55 403.03 L15 405.65 L10.45 403.03 L10.45 397.78 L15 395.15 L19.55 397.78 Z" fill="none" stroke="#151515" stroke-width="0.8" stroke-linejoin="round"/>
<line x1="14.59" y1="403.94" x2="12.14" y2="402.53" stroke="#151515" stroke-width="0.8"/>
<line x1="12.14" y1="398.27" x2="14.59" y2="396.86" stroke="#151515" stroke-width="0.8"/>
<line x1="18.27" y1="398.98" x2="18.27" y2="401.82" stroke="#151515" stroke-width="0.8"/>
<path d="M39.65 403.03 L35.1 405.65 L30.55 403.03 L30.55 397.78 L35.1 395.15 L39.65 397.78 Z" fill="none" stroke="#151515" stroke-width="0.8" stroke-linejoin="round"/>
<line x1="34.69" y1="403.94" x2="32.24" y2="402.53" stroke="#151515" stroke-width="0.8"/>
<line x1="32.24" y1="398.27" x2="34.69" y2="396.86" stroke="#151515" stroke-width="0.8"/>
<line x1="38.37" y1="398.98" x2="38.37" y2="401.82" stroke="#151515" stroke-width="0.8"/>
<line x1="19.55" y1="403.03" x2="23.7" y2="404.9" stroke="#151515" stroke-width="0.8"/>
<line x1="30.55" y1="403.03" x2="26.3" y2="404.9" stroke="#151515" stroke-width="0.8"/>
<text x="25" y="406.42" font-family='"Liberation Serif", serif' font-size="3.2" font-weight="bold" text-anchor="middle" fill="#000">N</text>
<line x1="25" y1="406.7" x2="25" y2="407.4" stroke="#151515" stroke-width="0.8"/>
<line x1="25" y1="408" x2="25" y2="408.7" stroke="#151515" stroke-width="0.8"/>
<line x1="25" y1="409.3" x2="25" y2="410" stroke="#151515" stroke-width="0.8"/>
<text x="25.4" y="412.22" font-family='"Liberation Serif", serif' font-size="3.2" font-weight="bold" text-anchor="middle" fill="#000">N</text>
<line x1="25" y1="412.4" x2="25" y2="416" stroke="#151515" stroke-width="0.8"/>
<path d="M29.33 423.45 L25 425.95 L20.67 423.45 L20.67 418.45 L25 415.95 L29.33 418.45 Z" fill="none" stroke="#151515" stroke-width="0.8" stroke-linejoin="round"/>
<line x1="27.73" y1="422.98" x2="25.39" y2="424.33" stroke="#151515" stroke-width="0.8"/>
<line x1="21.88" y1="422.3" x2="21.88" y2="419.6" stroke="#151515" stroke-width="0.8"/>
<line x1="25.39" y1="417.58" x2="27.73" y2="418.93" stroke="#151515" stroke-width="0.8"/>
<line x1="20.67" y1="418.45" x2="16.6" y2="416.7" stroke="#151515" stroke-width="0.8"/>
<text x="12.9" y="417.75" font-family='"Liberation Serif", serif' font-size="3.3" font-weight="bold" text-anchor="middle" fill="#000">O₂N</text>
<line x1="29.33" y1="418.45" x2="33.4" y2="416.7" stroke="#151515" stroke-width="0.8"/>
<text x="37.2" y="417.75" font-family='"Liberation Serif", serif' font-size="3.3" font-weight="bold" text-anchor="middle" fill="#000">NO₂</text>
<line x1="25" y1="425.95" x2="25" y2="428.75" stroke="#151515" stroke-width="0.8"/>
<text x="25.3" y="432.86" font-family='"Liberation Serif", serif' font-size="3.3" font-weight="bold" text-anchor="middle" fill="#000">NO₂</text>
<path d="M91.89 420.45 L87.3 423.1 L82.71 420.45 L82.71 415.15 L87.3 412.5 L91.89 415.15 Z" fill="none" stroke="#151515" stroke-width="0.8" stroke-linejoin="round"/>
<line x1="90.19" y1="419.95" x2="87.71" y2="421.38" stroke="#151515" stroke-width="0.8"/>
<line x1="84" y1="419.23" x2="84" y2="416.37" stroke="#151515" stroke-width="0.8"/>
<line x1="87.71" y1="414.22" x2="90.19" y2="415.65" stroke="#151515" stroke-width="0.8"/>
<line x1="91.89" y1="415.15" x2="96.03" y2="413.91" stroke="#151515" stroke-width="0.8"/>
<line x1="97.53" y1="414.31" x2="100.05" y2="417.8" stroke="#151515" stroke-width="0.8"/>
<line x1="100.05" y1="417.8" x2="97.53" y2="421.29" stroke="#151515" stroke-width="0.8"/>
<line x1="96.03" y1="421.69" x2="91.89" y2="420.45" stroke="#151515" stroke-width="0.8"/>
<text x="96.93" y="414.63" font-family='"Liberation Serif", serif' font-size="3.2" font-weight="bold" text-anchor="middle" fill="#000">S</text>
<text x="96.93" y="423.21" font-family='"Liberation Serif", serif' font-size="3.2" font-weight="bold" text-anchor="middle" fill="#000">N</text>
<line x1="97.23" y1="423.39" x2="98.23" y2="425.69" stroke="#151515" stroke-width="0.8"/>
<line x1="98.23" y1="425.69" x2="95.13" y2="429.59" stroke="#151515" stroke-width="0.8"/>
<path d="M130.39 416.35 L125.8 419 L121.21 416.35 L121.21 411.05 L125.8 408.4 L130.39 411.05 Z" fill="none" stroke="#151515" stroke-width="0.8" stroke-linejoin="round"/>
<line x1="125.39" y1="417.28" x2="122.91" y2="415.85" stroke="#151515" stroke-width="0.8"/>
<line x1="122.91" y1="411.55" x2="125.39" y2="410.12" stroke="#151515" stroke-width="0.8"/>
<line x1="129.1" y1="412.27" x2="129.1" y2="415.13" stroke="#151515" stroke-width="0.8"/>
<line x1="113.05" y1="413.7" x2="115.57" y2="410.21" stroke="#151515" stroke-width="0.8"/>
<line x1="117.07" y1="409.81" x2="121.21" y2="411.05" stroke="#151515" stroke-width="0.8"/>
<line x1="113.05" y1="413.7" x2="115.57" y2="417.19" stroke="#151515" stroke-width="0.8"/>
<line x1="117.07" y1="417.59" x2="121.21" y2="416.35" stroke="#151515" stroke-width="0.8"/>
<text x="116.17" y="410.53" font-family='"Liberation Serif", serif' font-size="3.2" font-weight="bold" text-anchor="middle" fill="#000">N</text>
<text x="116.17" y="419.11" font-family='"Liberation Serif", serif' font-size="3.2" font-weight="bold" text-anchor="middle" fill="#000">S</text>
<line x1="115.87" y1="408.11" x2="115.57" y2="405.01" stroke="#151515" stroke-width="0.8"/>
<line x1="115.57" y1="405.01" x2="118.77" y2="401.21" stroke="#151515" stroke-width="0.8"/>
<line x1="100.15" y1="418.13" x2="103.75" y2="416.98" stroke="#151515" stroke-width="0.8"/>
<line x1="99.94" y1="417.47" x2="103.53" y2="416.31" stroke="#151515" stroke-width="0.8"/>
<text x="104.34" y="417.46" font-family='"Liberation Serif", serif' font-size="2.9" font-weight="bold" text-anchor="middle" fill="#000">N</text>
<line x1="105.14" y1="416.25" x2="107.83" y2="415.29" stroke="#151515" stroke-width="0.8"/>
<text x="108.63" y="416.11" font-family='"Liberation Serif", serif' font-size="2.9" font-weight="bold" text-anchor="middle" fill="#000">N</text>
<line x1="109.44" y1="415.23" x2="113.16" y2="414.03" stroke="#151515" stroke-width="0.8"/>
<line x1="109.22" y1="414.56" x2="112.95" y2="413.37" stroke="#151515" stroke-width="0.8"/>
<line x1="82.71" y1="415.15" x2="79.21" y2="413.55" stroke="#151515" stroke-width="0.8"/>
<text x="78.21" y="414.27" font-family='"Liberation Serif", serif' font-size="3.2" font-weight="bold" text-anchor="middle" fill="#000">S</text>
<line x1="77.39" y1="412.11" x2="75.79" y2="410.91" stroke="#151515" stroke-width="0.8"/>
<line x1="77.03" y1="412.59" x2="75.43" y2="411.39" stroke="#151515" stroke-width="0.8"/>
<text x="74.61" y="411.8" font-family='"Liberation Serif", serif' font-size="3" font-weight="bold" text-anchor="middle" fill="#000">O</text>
<line x1="77.54" y1="414.22" x2="76.74" y2="415.92" stroke="#151515" stroke-width="0.8"/>
<line x1="78.08" y1="414.48" x2="77.28" y2="416.18" stroke="#151515" stroke-width="0.8"/>
<text x="76.61" y="418.2" font-family='"Liberation Serif", serif' font-size="3" font-weight="bold" text-anchor="middle" fill="#000">O</text>
<line x1="79.21" y1="412.25" x2="80.61" y2="410.95" stroke="#151515" stroke-width="0.8"/>
<text x="82.41" y="411.6" font-family='"Liberation Serif", serif' font-size="3" font-weight="bold" text-anchor="middle" fill="#000">OH</text>
<line x1="130.39" y1="416.35" x2="133.89" y2="418.25" stroke="#151515" stroke-width="0.8"/>
<text x="134.89" y="419.87" font-family='"Liberation Serif", serif' font-size="3.2" font-weight="bold" text-anchor="middle" fill="#000">S</text>
<line x1="135.75" y1="417.7" x2="136.75" y2="415.9" stroke="#151515" stroke-width="0.8"/>
<line x1="135.23" y1="417.4" x2="136.23" y2="415.6" stroke="#151515" stroke-width="0.8"/>
<text x="136.99" y="415.8" font-family='"Liberation Serif", serif' font-size="3" font-weight="bold" text-anchor="middle" fill="#000">O</text>
<line x1="133.85" y1="419.57" x2="132.65" y2="421.17" stroke="#151515" stroke-width="0.8"/>
<line x1="134.33" y1="419.93" x2="133.13" y2="421.53" stroke="#151515" stroke-width="0.8"/>
<text x="132.29" y="423.4" font-family='"Liberation Serif", serif' font-size="3" font-weight="bold" text-anchor="middle" fill="#000">O</text>
<line x1="135.99" y1="419.45" x2="137.69" y2="420.55" stroke="#151515" stroke-width="0.8"/>
<text x="139.69" y="422.2" font-family='"Liberation Serif", serif' font-size="3" font-weight="bold" text-anchor="middle" fill="#000">OH</text>
<path d="M186.94 410.65 L182.17 413.4 L177.41 410.65 L177.41 405.15 L182.17 402.4 L186.94 405.15 Z" fill="none" stroke="#151515" stroke-width="0.8" stroke-linejoin="round"/>
<line x1="181.75" y1="411.61" x2="179.17" y2="410.13" stroke="#151515" stroke-width="0.8"/>
<line x1="179.17" y1="405.67" x2="181.75" y2="404.19" stroke="#151515" stroke-width="0.8"/>
<line x1="185.6" y1="406.41" x2="185.6" y2="409.38" stroke="#151515" stroke-width="0.8"/>
<line x1="191.7" y1="402.4" x2="196.46" y2="405.15" stroke="#151515" stroke-width="0.8"/>
<line x1="186.94" y1="405.15" x2="191.2" y2="402.7" stroke="#151515" stroke-width="0.8"/>
<line x1="192.3" y1="413.1" x2="196.46" y2="410.65" stroke="#151515" stroke-width="0.8"/>
<line x1="186.94" y1="410.65" x2="191.1" y2="413.1" stroke="#151515" stroke-width="0.8"/>
<text x="191.7" y="403.79" font-family='"Liberation Serif", serif' font-size="3.4" font-weight="bold" text-anchor="middle" fill="#000">N</text>
<text x="191.7" y="414.79" font-family='"Liberation Serif", serif' font-size="3.4" font-weight="bold" text-anchor="middle" fill="#000">S</text>
<path d="M205.99 410.65 L201.23 413.4 L196.46 410.65 L196.46 405.15 L201.23 402.4 L205.99 405.15 Z" fill="none" stroke="#151515" stroke-width="0.8" stroke-linejoin="round"/>
<line x1="204.23" y1="410.13" x2="201.65" y2="411.61" stroke="#151515" stroke-width="0.8"/>
<line x1="197.8" y1="409.38" x2="197.8" y2="406.41" stroke="#151515" stroke-width="0.8"/>
<line x1="201.65" y1="404.19" x2="204.23" y2="405.67" stroke="#151515" stroke-width="0.8"/>
<line x1="177.41" y1="410.65" x2="172.51" y2="413.85" stroke="#151515" stroke-width="0.8"/>
<text x="171.91" y="415.71" font-family='"Liberation Serif", serif' font-size="3.6" font-weight="bold" text-anchor="middle" fill="#000">N</text>
<line x1="170.91" y1="413.75" x2="167.31" y2="411.85" stroke="#151515" stroke-width="0.8"/>
<text x="164.51" y="413.21" font-family='"Liberation Serif", serif' font-size="3.6" font-weight="bold" text-anchor="middle" fill="#000">H₃C</text>
<line x1="171.91" y1="415.65" x2="171.91" y2="418.05" stroke="#151515" stroke-width="0.8"/>
<text x="172.21" y="421.31" font-family='"Liberation Serif", serif' font-size="3.6" font-weight="bold" text-anchor="middle" fill="#000">CH₃</text>
<line x1="205.99" y1="410.65" x2="210.89" y2="413.85" stroke="#151515" stroke-width="0.8"/>
<text x="211.49" y="415.71" font-family='"Liberation Serif", serif' font-size="3.6" font-weight="bold" text-anchor="middle" fill="#000">N</text>
<line x1="212.49" y1="413.75" x2="216.09" y2="411.85" stroke="#151515" stroke-width="0.8"/>
<text x="219.09" y="413.21" font-family='"Liberation Serif", serif' font-size="3.6" font-weight="bold" text-anchor="middle" fill="#000">CH₃</text>
<line x1="211.49" y1="415.65" x2="211.49" y2="418.05" stroke="#151515" stroke-width="0.8"/>
<text x="211.79" y="421.31" font-family='"Liberation Serif", serif' font-size="3.6" font-weight="bold" text-anchor="middle" fill="#000">CH₃</text>
<text x="0" y="0" font-family='"Liberation Serif", serif' font-size="7.6" font-weight="bold" text-anchor="middle" fill="#111" transform="translate(28 444.4) scale(0.92 1)">DPPH</text>
<text x="28.2" y="452.4" font-family='"Liberation Serif", serif' font-size="7.2" font-weight="bold" text-anchor="middle" fill="#9d5ee0">purple</text>
<text x="0" y="0" font-family='"Liberation Serif", serif' font-size="7.6" font-weight="bold" text-anchor="middle" fill="#111" transform="translate(107 445) scale(0.92 1)">ABTS</text>
<text x="116.5" y="441.5" font-family='"Liberation Serif", serif' font-size="4.6" font-weight="bold" text-anchor="start" fill="#111">·+</text>
<text x="0" y="0" font-family='"Liberation Serif", serif' font-size="7.3" font-weight="bold" text-anchor="middle" fill="#1ca54c" transform="translate(109.7 454.4) scale(0.95 1)">GREEN</text>
<text x="0" y="0" font-family='"Liberation Serif", serif' font-size="7.6" font-weight="bold" text-anchor="middle" fill="#111" transform="translate(190.9 444.4) scale(0.92 1)">Methylene blue</text>
<text x="0" y="0" font-family='"Liberation Serif", serif' font-size="7.3" font-weight="bold" text-anchor="middle" fill="#20a4ee" transform="translate(191.5 454.4) scale(0.95 1)">BLUE</text>
<rect x="23.6" y="459.6" width="3.2" height="24.6" fill="#4472c4" stroke="none" stroke-width="1"/>
<path d="M22 484 L28.4 484 L25.2 489.2 Z" fill="#4472c4"/>
<circle cx="19.2" cy="472.8" r="1.35" fill="#2f5fc8"/>
<text x="29.8" y="474.5" font-family='"Liberation Serif", serif' font-size="7" font-weight="bold" text-anchor="start" fill="#111">HA-CUR NPs</text>
<rect x="107.9" y="459.6" width="3.2" height="24.6" fill="#4472c4" stroke="none" stroke-width="1"/>
<path d="M106.3 484 L112.7 484 L109.5 489.2 Z" fill="#4472c4"/>
<circle cx="104" cy="472.8" r="1.35" fill="#2f5fc8"/>
<text x="116" y="474.5" font-family='"Liberation Serif", serif' font-size="7" font-weight="bold" text-anchor="start" fill="#111">HA-CUR NPs</text>
<rect x="190" y="459.6" width="3.2" height="24.6" fill="#4472c4" stroke="none" stroke-width="1"/>
<path d="M188.4 484 L194.8 484 L191.6 489.2 Z" fill="#4472c4"/>
<circle cx="185" cy="472.8" r="1.35" fill="#2f5fc8"/>
<text x="197.2" y="474.5" font-family='"Liberation Serif", serif' font-size="7" font-weight="bold" text-anchor="start" fill="#111">HA-CUR NPs</text>
<path d="M19.85 500.43 L15.3 503.05 L10.75 500.43 L10.75 495.18 L15.3 492.55 L19.85 495.18 Z" fill="none" stroke="#151515" stroke-width="0.8" stroke-linejoin="round"/>
<line x1="14.89" y1="501.34" x2="12.44" y2="499.93" stroke="#151515" stroke-width="0.8"/>
<line x1="12.44" y1="495.67" x2="14.89" y2="494.26" stroke="#151515" stroke-width="0.8"/>
<line x1="18.57" y1="496.38" x2="18.57" y2="499.22" stroke="#151515" stroke-width="0.8"/>
<path d="M39.95 500.43 L35.4 503.05 L30.85 500.43 L30.85 495.18 L35.4 492.55 L39.95 495.18 Z" fill="none" stroke="#151515" stroke-width="0.8" stroke-linejoin="round"/>
<line x1="34.99" y1="501.34" x2="32.54" y2="499.93" stroke="#151515" stroke-width="0.8"/>
<line x1="32.54" y1="495.67" x2="34.99" y2="494.26" stroke="#151515" stroke-width="0.8"/>
<line x1="38.67" y1="496.38" x2="38.67" y2="499.22" stroke="#151515" stroke-width="0.8"/>
<line x1="19.85" y1="500.43" x2="24" y2="502.3" stroke="#151515" stroke-width="0.8"/>
<line x1="30.85" y1="500.43" x2="26.6" y2="502.3" stroke="#151515" stroke-width="0.8"/>
<text x="25.3" y="503.82" font-family='"Liberation Serif", serif' font-size="3.2" font-weight="bold" text-anchor="middle" fill="#000">N</text>
<line x1="25.3" y1="504.1" x2="25.3" y2="504.8" stroke="#151515" stroke-width="0.8"/>
<line x1="25.3" y1="505.4" x2="25.3" y2="506.1" stroke="#151515" stroke-width="0.8"/>
<line x1="25.3" y1="506.7" x2="25.3" y2="507.4" stroke="#151515" stroke-width="0.8"/>
<text x="25.7" y="509.62" font-family='"Liberation Serif", serif' font-size="3.2" font-weight="bold" text-anchor="middle" fill="#000">NH</text>
<line x1="25.3" y1="509.8" x2="25.3" y2="513.4" stroke="#151515" stroke-width="0.8"/>
<path d="M29.63 520.85 L25.3 523.35 L20.97 520.85 L20.97 515.85 L25.3 513.35 L29.63 515.85 Z" fill="none" stroke="#151515" stroke-width="0.8" stroke-linejoin="round"/>
<line x1="28.03" y1="520.38" x2="25.69" y2="521.73" stroke="#151515" stroke-width="0.8"/>
<line x1="22.18" y1="519.7" x2="22.18" y2="517" stroke="#151515" stroke-width="0.8"/>
<line x1="25.69" y1="514.98" x2="28.03" y2="516.33" stroke="#151515" stroke-width="0.8"/>
<line x1="20.97" y1="515.85" x2="16.9" y2="514.1" stroke="#151515" stroke-width="0.8"/>
<text x="13.2" y="515.15" font-family='"Liberation Serif", serif' font-size="3.3" font-weight="bold" text-anchor="middle" fill="#000">O₂N</text>
<line x1="29.63" y1="515.85" x2="33.7" y2="514.1" stroke="#151515" stroke-width="0.8"/>
<text x="37.5" y="515.15" font-family='"Liberation Serif", serif' font-size="3.3" font-weight="bold" text-anchor="middle" fill="#000">NO₂</text>
<line x1="25.3" y1="523.35" x2="25.3" y2="526.15" stroke="#151515" stroke-width="0.8"/>
<text x="25.6" y="530.25" font-family='"Liberation Serif", serif' font-size="3.3" font-weight="bold" text-anchor="middle" fill="#000">NO₂</text>
<circle cx="30.4" cy="507.7" r="1.3" fill="#2f5fc8"/>
<path d="M92.39 517.55 L87.8 520.2 L83.21 517.55 L83.21 512.25 L87.8 509.6 L92.39 512.25 Z" fill="none" stroke="#151515" stroke-width="0.8" stroke-linejoin="round"/>
<line x1="90.69" y1="517.05" x2="88.21" y2="518.48" stroke="#151515" stroke-width="0.8"/>
<line x1="84.5" y1="516.33" x2="84.5" y2="513.47" stroke="#151515" stroke-width="0.8"/>
<line x1="88.21" y1="511.32" x2="90.69" y2="512.75" stroke="#151515" stroke-width="0.8"/>
<line x1="92.39" y1="512.25" x2="96.53" y2="511.01" stroke="#151515" stroke-width="0.8"/>
<line x1="98.03" y1="511.41" x2="100.55" y2="514.9" stroke="#151515" stroke-width="0.8"/>
<line x1="100.55" y1="514.9" x2="98.03" y2="518.39" stroke="#151515" stroke-width="0.8"/>
<line x1="96.53" y1="518.79" x2="92.39" y2="517.55" stroke="#151515" stroke-width="0.8"/>
<text x="97.43" y="511.73" font-family='"Liberation Serif", serif' font-size="3.2" font-weight="bold" text-anchor="middle" fill="#000">S</text>
<text x="97.43" y="520.31" font-family='"Liberation Serif", serif' font-size="3.2" font-weight="bold" text-anchor="middle" fill="#000">N</text>
<line x1="97.73" y1="520.49" x2="98.73" y2="522.79" stroke="#151515" stroke-width="0.8"/>
<line x1="98.73" y1="522.79" x2="95.63" y2="526.69" stroke="#151515" stroke-width="0.8"/>
<path d="M130.89 513.45 L126.3 516.1 L121.71 513.45 L121.71 508.15 L126.3 505.5 L130.89 508.15 Z" fill="none" stroke="#151515" stroke-width="0.8" stroke-linejoin="round"/>
<line x1="125.89" y1="514.38" x2="123.41" y2="512.95" stroke="#151515" stroke-width="0.8"/>
<line x1="123.41" y1="508.65" x2="125.89" y2="507.22" stroke="#151515" stroke-width="0.8"/>
<line x1="129.6" y1="509.37" x2="129.6" y2="512.23" stroke="#151515" stroke-width="0.8"/>
<line x1="113.55" y1="510.8" x2="116.07" y2="507.31" stroke="#151515" stroke-width="0.8"/>
<line x1="117.57" y1="506.91" x2="121.71" y2="508.15" stroke="#151515" stroke-width="0.8"/>
<line x1="113.55" y1="510.8" x2="116.07" y2="514.29" stroke="#151515" stroke-width="0.8"/>
<line x1="117.57" y1="514.69" x2="121.71" y2="513.45" stroke="#151515" stroke-width="0.8"/>
<text x="116.67" y="507.63" font-family='"Liberation Serif", serif' font-size="3.2" font-weight="bold" text-anchor="middle" fill="#000">N</text>
<text x="116.67" y="516.21" font-family='"Liberation Serif", serif' font-size="3.2" font-weight="bold" text-anchor="middle" fill="#000">S</text>
<line x1="116.37" y1="505.21" x2="116.07" y2="502.11" stroke="#151515" stroke-width="0.8"/>
<line x1="116.07" y1="502.11" x2="119.27" y2="498.31" stroke="#151515" stroke-width="0.8"/>
<line x1="100.65" y1="515.23" x2="104.25" y2="514.08" stroke="#151515" stroke-width="0.8"/>
<line x1="100.44" y1="514.57" x2="104.03" y2="513.41" stroke="#151515" stroke-width="0.8"/>
<text x="104.84" y="514.56" font-family='"Liberation Serif", serif' font-size="2.9" font-weight="bold" text-anchor="middle" fill="#000">N</text>
<line x1="105.64" y1="513.35" x2="108.33" y2="512.39" stroke="#151515" stroke-width="0.8"/>
<text x="109.13" y="513.21" font-family='"Liberation Serif", serif' font-size="2.9" font-weight="bold" text-anchor="middle" fill="#000">N</text>
<line x1="109.94" y1="512.33" x2="113.66" y2="511.13" stroke="#151515" stroke-width="0.8"/>
<line x1="109.72" y1="511.66" x2="113.45" y2="510.47" stroke="#151515" stroke-width="0.8"/>
<line x1="83.21" y1="512.25" x2="79.71" y2="510.65" stroke="#151515" stroke-width="0.8"/>
<text x="78.71" y="511.37" font-family='"Liberation Serif", serif' font-size="3.2" font-weight="bold" text-anchor="middle" fill="#000">S</text>
<line x1="77.89" y1="509.21" x2="76.29" y2="508.01" stroke="#151515" stroke-width="0.8"/>
<line x1="77.53" y1="509.69" x2="75.93" y2="508.49" stroke="#151515" stroke-width="0.8"/>
<text x="75.11" y="508.9" font-family='"Liberation Serif", serif' font-size="3" font-weight="bold" text-anchor="middle" fill="#000">O</text>
<line x1="78.04" y1="511.32" x2="77.24" y2="513.02" stroke="#151515" stroke-width="0.8"/>
<line x1="78.58" y1="511.58" x2="77.78" y2="513.28" stroke="#151515" stroke-width="0.8"/>
<text x="77.11" y="515.3" font-family='"Liberation Serif", serif' font-size="3" font-weight="bold" text-anchor="middle" fill="#000">O</text>
<line x1="79.71" y1="509.35" x2="81.11" y2="508.05" stroke="#151515" stroke-width="0.8"/>
<text x="82.91" y="508.7" font-family='"Liberation Serif", serif' font-size="3" font-weight="bold" text-anchor="middle" fill="#000">OH</text>
<line x1="130.89" y1="513.45" x2="134.39" y2="515.35" stroke="#151515" stroke-width="0.8"/>
<text x="135.39" y="516.97" font-family='"Liberation Serif", serif' font-size="3.2" font-weight="bold" text-anchor="middle" fill="#000">S</text>
<line x1="136.25" y1="514.8" x2="137.25" y2="513" stroke="#151515" stroke-width="0.8"/>
<line x1="135.73" y1="514.5" x2="136.73" y2="512.7" stroke="#151515" stroke-width="0.8"/>
<text x="137.49" y="512.9" font-family='"Liberation Serif", serif' font-size="3" font-weight="bold" text-anchor="middle" fill="#000">O</text>
<line x1="134.35" y1="516.67" x2="133.15" y2="518.27" stroke="#151515" stroke-width="0.8"/>
<line x1="134.83" y1="517.03" x2="133.63" y2="518.63" stroke="#151515" stroke-width="0.8"/>
<text x="132.79" y="520.5" font-family='"Liberation Serif", serif' font-size="3" font-weight="bold" text-anchor="middle" fill="#000">O</text>
<line x1="136.49" y1="516.55" x2="138.19" y2="517.65" stroke="#151515" stroke-width="0.8"/>
<text x="140.19" y="519.3" font-family='"Liberation Serif", serif' font-size="3" font-weight="bold" text-anchor="middle" fill="#000">OH</text>
<circle cx="95.63" cy="523.79" r="1.3" fill="#2f5fc8"/>
<path d="M186.94 512.85 L182.17 515.6 L177.41 512.85 L177.41 507.35 L182.17 504.6 L186.94 507.35 Z" fill="none" stroke="#151515" stroke-width="0.8" stroke-linejoin="round"/>
<line x1="181.75" y1="513.81" x2="179.17" y2="512.33" stroke="#151515" stroke-width="0.8"/>
<line x1="179.17" y1="507.87" x2="181.75" y2="506.39" stroke="#151515" stroke-width="0.8"/>
<line x1="185.6" y1="508.62" x2="185.6" y2="511.59" stroke="#151515" stroke-width="0.8"/>
<line x1="191.7" y1="504.6" x2="196.46" y2="507.35" stroke="#151515" stroke-width="0.8"/>
<line x1="186.94" y1="507.35" x2="191.2" y2="504.9" stroke="#151515" stroke-width="0.8"/>
<line x1="192.3" y1="515.3" x2="196.46" y2="512.85" stroke="#151515" stroke-width="0.8"/>
<line x1="186.94" y1="512.85" x2="191.1" y2="515.3" stroke="#151515" stroke-width="0.8"/>
<text x="191.7" y="505.99" font-family='"Liberation Serif", serif' font-size="3.4" font-weight="bold" text-anchor="middle" fill="#000">N</text>
<text x="191.7" y="516.99" font-family='"Liberation Serif", serif' font-size="3.4" font-weight="bold" text-anchor="middle" fill="#000">S</text>
<path d="M205.99 512.85 L201.23 515.6 L196.46 512.85 L196.46 507.35 L201.23 504.6 L205.99 507.35 Z" fill="none" stroke="#151515" stroke-width="0.8" stroke-linejoin="round"/>
<line x1="204.23" y1="512.33" x2="201.65" y2="513.81" stroke="#151515" stroke-width="0.8"/>
<line x1="197.8" y1="511.59" x2="197.8" y2="508.62" stroke="#151515" stroke-width="0.8"/>
<line x1="201.65" y1="506.39" x2="204.23" y2="507.87" stroke="#151515" stroke-width="0.8"/>
<line x1="177.41" y1="512.85" x2="172.51" y2="516.05" stroke="#151515" stroke-width="0.8"/>
<text x="171.91" y="517.91" font-family='"Liberation Serif", serif' font-size="3.6" font-weight="bold" text-anchor="middle" fill="#000">N</text>
<line x1="170.91" y1="515.95" x2="167.31" y2="514.05" stroke="#151515" stroke-width="0.8"/>
<text x="164.51" y="515.41" font-family='"Liberation Serif", serif' font-size="3.6" font-weight="bold" text-anchor="middle" fill="#000">H₃C</text>
<line x1="171.91" y1="517.85" x2="171.91" y2="520.25" stroke="#151515" stroke-width="0.8"/>
<text x="172.21" y="523.51" font-family='"Liberation Serif", serif' font-size="3.6" font-weight="bold" text-anchor="middle" fill="#000">CH₃</text>
<line x1="205.99" y1="512.85" x2="210.89" y2="516.05" stroke="#151515" stroke-width="0.8"/>
<text x="211.49" y="517.91" font-family='"Liberation Serif", serif' font-size="3.6" font-weight="bold" text-anchor="middle" fill="#000">N</text>
<line x1="212.49" y1="515.95" x2="216.09" y2="514.05" stroke="#151515" stroke-width="0.8"/>
<text x="219.09" y="515.41" font-family='"Liberation Serif", serif' font-size="3.6" font-weight="bold" text-anchor="middle" fill="#000">CH₃</text>
<line x1="211.49" y1="517.85" x2="211.49" y2="520.25" stroke="#151515" stroke-width="0.8"/>
<text x="211.79" y="523.51" font-family='"Liberation Serif", serif' font-size="3.6" font-weight="bold" text-anchor="middle" fill="#000">CH₃</text>
<circle cx="211.29" cy="513.05" r="1.05" fill="#2f5fc8"/>
<text x="232.3" y="366.6" font-family='"Liberation Serif", serif' font-size="16" font-weight="normal" text-anchor="start" fill="#000">h</text>
<rect x="273.3" y="370.7" width="175.2" height="140.5" fill="none" stroke="#444" stroke-width="0.9"/>
<text x="264.6" y="441" font-family='"Liberation Sans", sans-serif' font-size="7.3" font-weight="normal" text-anchor="middle" fill="#222" transform="rotate(-90 264.6 441)">ESR Amplitude</text>
<line x1="400.2" y1="375.6" x2="415.1" y2="375.6" stroke="#a8a8a8" stroke-width="1.1"/>
<line x1="400.2" y1="384" x2="415.1" y2="384" stroke="#f48a8a" stroke-width="1.1"/>
<line x1="400.2" y1="392.3" x2="415.1" y2="392.3" stroke="#3d86ee" stroke-width="1.1"/>
<text x="416.9" y="378" font-family='"Liberation Sans", sans-serif' font-size="6.8" font-weight="normal" text-anchor="start" fill="#222">Blank</text>
<text x="416.9" y="386.4" font-family='"Liberation Sans", sans-serif' font-size="6.8" font-weight="normal" text-anchor="start" fill="#222">Control</text>
<text x="416.9" y="394.7" font-family='"Liberation Sans", sans-serif' font-size="6.8" font-weight="normal" text-anchor="start" fill="#222">HA-CUR</text>
<path d="M273.8,398.3 274.3,398.9 274.8,399.1 275.3,398.8 275.8,399 276.3,399 276.8,398.3 277.3,398.3 277.8,398.9 278.3,399.5 278.8,399.2 279.3,398.8 279.8,398.6 280.3,398.4 280.8,399.1 281.3,399.3 281.8,398.7 282.3,398.3 282.8,398.6 283.4,399.2 283.9,399.3 284.4,398.8 284.9,399.4 285.4,398.7 285.9,398.2 286.4,398.5 286.9,399.4 287.4,399.2 287.9,398.3 288.4,398.6 288.9,398.8 289.4,398.9 289.9,398.2 290.4,399.5 290.9,398.9 291.4,398.6 291.9,398.2 292.4,399 292.9,399.5 293.4,399.2 293.9,399.4 294.4,399.4 294.9,399.1 295.4,398.3 295.9,398.6 296.4,399 296.9,398.8 297.4,398.5 297.9,398.3 298.4,399.4 298.9,399.1 299.4,398.6 299.9,398.9 300.4,399.4 300.9,398.4 301.4,399.1 302,398.5 302.5,399.5 303,399.3 303.5,399.5 304,398.7 304.5,398.9 305,398.7 305.5,398.7 306,399.5 306.5,399.6 307,399.6 307.5,399.5 308,398.9 308.5,399.1 309,399.5 309.5,398.8 310,399.5 310.5,399.3 311,398.6 311.5,398.7 312,399.2 312.5,398.4 313,398.6 313.5,398.5 314,398.3 314.5,399.5 315,399.6 315.5,399.3 316,398.9 316.5,399.2 317,399.2 317.5,398.8 318,398.9 318.5,398.4 319,398.5 319.5,398.7 320.1,398.7 320.6,399.1 321.1,398.5 321.6,398.5 322.1,399.4 322.6,399.3 323.1,399.5 323.6,399.3 324.1,398.5 324.6,398.9 325.1,399.4 325.6,399.3 326.1,398.5 326.6,398.9 327.1,399 327.6,398.2 328.1,398.5 328.6,399.2 329.1,399.1 329.6,398.8 330.1,399 330.6,398.9 331.1,398.7 331.6,398.3 332.1,399.2 332.6,399.3 333.1,398.8 333.6,399.3 334.1,399.4 334.6,399.2 335.1,399.3 335.6,399.6 336.1,398.3 336.6,399.5 337.1,398.8 337.6,399.3 338.1,399.2 338.7,398.3 339.2,399 339.7,398.3 340.2,399.2 340.7,398.7 341.2,398.7 341.7,398.6 342.2,399.3 342.7,399.1 343.2,398.6 343.7,399.2 344.2,398.5 344.7,399.3 345.2,399 345.7,399.3 346.2,399.1 346.7,399.6 347.2,399.2 347.7,398.8 348.2,399 348.7,399 349.2,398.6 349.7,398.6 350.2,399.3 350.7,399.3 351.2,399.6 351.7,399.2 352.2,398.9 352.7,398.8 353.2,399.2 353.7,399.1 354.2,399.5 354.7,399.2 355.2,398.7 355.7,398.6 356.2,398.3 356.8,399.3 357.3,398.8 357.8,398.8 358.3,398.3 358.8,398.9 359.3,399.5 359.8,398.6 360.3,399.2 360.8,399.3 361.3,399.1 361.8,399 362.3,398.5 362.8,399.1 363.3,399 363.8,399.6 364.3,398.9 364.8,398.7 365.3,399.5 365.8,399.1 366.3,398.7 366.8,399.1 367.3,398.4 367.8,398.5 368.3,399.4 368.8,398.8 369.3,399.3 369.8,398.5 370.3,398.9 370.8,398.5 371.3,399.3 371.8,399 372.3,398.8 372.8,398.7 373.3,398.5 373.8,398.5 374.3,399.2 374.8,398.6 375.4,398.3 375.9,398.7 376.4,398.8 376.9,399.6 377.4,398.7 377.9,398.8 378.4,399.6 378.9,399.2 379.4,398.8 379.9,398.8 380.4,398.5 380.9,398.4 381.4,398.9 381.9,399.1 382.4,398.3 382.9,398.9 383.4,398.4 383.9,399 384.4,398.7 384.9,399.1 385.4,399.3 385.9,398.8 386.4,398.7 386.9,398.3 387.4,398.5 387.9,399.1 388.4,399.3 388.9,398.4 389.4,399.6 389.9,399.5 390.4,398.7 390.9,399 391.4,399.1 391.9,398.7 392.4,398.7 392.9,399.2 393.4,398.9 394,398.8 394.5,399 395,398.4 395.5,398.9 396,398.6 396.5,398.4 397,398.9 397.5,399.2 398,398.9 398.5,398.9 399,399.1 399.5,398.8 400,399.6 400.5,398.5 401,398.2 401.5,399 402,399.2 402.5,398.7 403,398.8 403.5,398.7 404,398.5 404.5,399.3 405,399.4 405.5,398.6 406,399 406.5,398.8 407,398.4 407.5,399.2 408,398.9 408.5,399.6 409,399.5 409.5,399.5 410,398.6 410.5,398.4 411,399.3 411.5,398.4 412,399.2 412.6,398.4 413.1,399.2 413.6,398.3 414.1,398.3 414.6,399.4 415.1,398.9 415.6,398.8 416.1,399.6 416.6,399.3 417.1,398.5 417.6,399.2 418.1,398.7 418.6,398.8 419.1,398.6 419.6,398.5 420.1,398.6 420.6,398.6 421.1,398.5 421.6,399.4 422.1,398.7 422.6,399 423.1,399.3 423.6,399.1 424.1,398.4 424.6,399.5 425.1,399.5 425.6,399.4 426.1,398.7 426.6,399.4 427.1,399.1 427.6,398.2 428.1,398.7 428.6,399.2 429.1,399 429.6,399.5 430.1,399.3 430.7,399.4 431.2,399.6 431.7,398.7 432.2,399.5 432.7,398.2 433.2,399.3 433.7,398.3 434.2,398.9 434.7,398.8 435.2,398.3 435.7,399.1 436.2,399.3 436.7,398.5 437.2,398.5 437.7,399.3 438.2,398.9 438.7,398.2 439.2,398.6 439.7,399.5" stroke="#3c3c3c" stroke-width="2" fill="none" stroke-linejoin="round"/>
<path d="M273.6,452 273.8,452 274.1,452 274.3,452 274.5,452 274.8,452 275,452 275.3,452 275.5,452 275.7,452 276,452 276.2,452 276.4,452 276.7,452 276.9,452 277.2,452 277.4,452 277.6,452 277.9,452 278.1,452 278.3,452 278.6,452 278.8,452 279.1,452 279.3,452 279.5,452 279.8,452 280,452 280.2,452 280.5,452 280.7,452 280.9,452 281.2,452 281.4,452 281.7,452 281.9,452 282.1,452 282.4,452 282.6,452 282.8,452 283.1,452 283.3,452 283.6,452 283.8,452 284,452 284.3,452 284.5,452 284.7,452 285,452 285.2,452 285.5,452 285.7,452 285.9,452 286.2,452 286.4,452 286.6,452 286.9,452 287.1,452 287.3,452 287.6,452 287.8,452 288.1,452 288.3,452 288.5,452 288.8,452 289,452 289.2,452 289.5,452 289.7,452 290,452 290.2,452 290.4,452 290.7,452 290.9,452 291.1,452 291.4,452 291.6,452 291.8,452 292.1,452 292.3,452 292.6,452 292.8,452 293,452 293.3,452 293.5,452 293.7,452 294,452 294.2,452 294.5,452 294.7,452 294.9,452 295.2,452 295.4,452 295.6,452 295.9,451.9 296.1,451.9 296.4,451.9 296.6,451.9 296.8,451.9 297.1,451.9 297.3,451.9 297.5,451.9 297.8,451.9 298,451.9 298.2,451.9 298.5,451.9 298.7,451.9 299,451.9 299.2,451.9 299.4,451.9 299.7,451.9 299.9,451.9 300.1,451.9 300.4,451.9 300.6,451.9 300.9,451.9 301.1,451.9 301.3,451.9 301.6,451.9 301.8,451.9 302,451.9 302.3,451.9 302.5,451.9 302.8,451.9 303,451.9 303.2,451.9 303.5,451.9 303.7,451.9 303.9,451.9 304.2,451.9 304.4,451.9 304.6,451.8 304.9,451.8 305.1,451.8 305.4,451.8 305.6,451.8 305.8,451.8 306.1,451.8 306.3,451.8 306.5,451.8 306.8,451.8 307,451.8 307.3,451.8 307.5,451.7 307.7,451.7 308,451.7 308.2,451.7 308.4,451.7 308.7,451.7 308.9,451.6 309.2,451.6 309.4,451.6 309.6,451.6 309.9,451.5 310.1,451.5 310.3,451.5 310.6,451.4 310.8,451.4 311,451.3 311.3,451.3 311.5,451.2 311.8,451.2 312,451.1 312.2,451 312.5,450.9 312.7,450.8 312.9,450.7 313.2,450.6 313.4,450.5 313.7,450.3 313.9,450.1 314.1,449.9 314.4,449.7 314.6,449.4 314.8,449 315.1,448.7 315.3,448.2 315.5,447.7 315.8,447 316,446.3 316.3,445.4 316.5,444.4 316.7,443.2 317,441.9 317.2,440.3 317.4,438.6 317.7,436.8 317.9,435.1 318.2,433.7 318.4,433.1 318.6,433.8 318.9,436.3 319.1,440.8 319.3,447.1 319.6,454.2 319.8,461 320.1,466.2 320.3,469.4 320.5,470.6 320.8,470.4 321,469.2 321.2,467.6 321.5,465.8 321.7,464 321.9,462.4 322.2,460.9 322.4,459.7 322.7,458.6 322.9,457.7 323.1,456.9 323.4,456.3 323.6,455.7 323.8,455.2 324.1,454.8 324.3,454.4 324.6,454.1 324.8,453.9 325,453.6 325.3,453.4 325.5,453.3 325.7,453.1 326,453 326.2,452.8 326.5,452.7 326.7,452.6 326.9,452.5 327.2,452.4 327.4,452.4 327.6,452.3 327.9,452.2 328.1,452.2 328.3,452.1 328.6,452.1 328.8,452 329.1,452 329.3,451.9 329.5,451.9 329.8,451.8 330,451.8 330.2,451.7 330.5,451.7 330.7,451.6 331,451.6 331.2,451.5 331.4,451.5 331.7,451.5 331.9,451.4 332.1,451.4 332.4,451.3 332.6,451.2 332.9,451.2 333.1,451.1 333.3,451.1 333.6,451 333.8,450.9 334,450.8 334.3,450.7 334.5,450.7 334.7,450.6 335,450.4 335.2,450.3 335.5,450.2 335.7,450.1 335.9,449.9 336.2,449.8 336.4,449.6 336.6,449.4 336.9,449.2 337.1,448.9 337.4,448.7 337.6,448.4 337.8,448.1 338.1,447.7 338.3,447.3 338.5,446.9 338.8,446.4 339,445.9 339.2,445.3 339.5,444.6 339.7,443.8 340,442.9 340.2,441.9 340.4,440.8 340.7,439.5 340.9,438 341.1,436.4 341.4,434.6 341.6,432.5 341.9,430.2 342.1,427.7 342.3,425 342.6,422.2 342.8,419.3 343,416.7 343.3,414.4 343.5,413 343.8,412.9 344,414.5 344.2,418.4 344.5,424.8 344.7,433.6 344.9,444.1 345.2,455.5 345.4,466.5 345.6,476 345.9,483.3 346.1,488.1 346.4,490.6 346.6,491.1 346.8,490.1 347.1,488.1 347.3,485.5 347.5,482.7 347.8,479.9 348,477.1 348.3,474.5 348.5,472.1 348.7,470 349,468.1 349.2,466.4 349.4,464.8 349.7,463.5 349.9,462.3 350.2,461.3 350.4,460.3 350.6,459.5 350.9,458.8 351.1,458.1 351.3,457.5 351.6,457 351.8,456.6 352,456.2 352.3,455.8 352.5,455.4 352.8,455.1 353,454.9 353.2,454.6 353.5,454.4 353.7,454.2 353.9,454 354.2,453.8 354.4,453.6 354.7,453.5 354.9,453.4 355.1,453.2 355.4,453.1 355.6,453 355.8,452.9 356.1,452.8 356.3,452.7 356.6,452.6 356.8,452.5 357,452.4 357.3,452.3 357.5,452.2 357.7,452.1 358,452 358.2,451.9 358.4,451.9 358.7,451.8 358.9,451.7 359.2,451.6 359.4,451.5 359.6,451.4 359.9,451.3 360.1,451.2 360.3,451.1 360.6,451 360.8,450.9 361.1,450.7 361.3,450.6 361.5,450.4 361.8,450.3 362,450.1 362.2,449.9 362.5,449.7 362.7,449.5 362.9,449.3 363.2,449 363.4,448.7 363.7,448.4 363.9,448 364.1,447.6 364.4,447.2 364.6,446.7 364.8,446.1 365.1,445.5 365.3,444.7 365.6,443.9 365.8,443 366,442 366.3,440.9 366.5,439.5 366.7,438.1 367,436.4 367.2,434.5 367.5,432.4 367.7,430.1 367.9,427.6 368.2,425 368.4,422.3 368.6,419.6 368.9,417.3 369.1,415.5 369.3,414.8 369.6,415.6 369.8,418.3 370.1,423.3 370.3,430.7 370.5,440.1 370.8,450.7 371,461.5 371.2,471.3 371.5,479.2 371.7,484.8 372,488.1 372.2,489.3 372.4,488.9 372.7,487.4 372.9,485.2 373.1,482.6 373.4,479.9 373.6,477.2 373.9,474.7 374.1,472.3 374.3,470.2 374.6,468.3 374.8,466.5 375,465 375.3,463.7 375.5,462.5 375.7,461.4 376,460.5 376.2,459.7 376.5,459 376.7,458.3 376.9,457.7 377.2,457.2 377.4,456.8 377.6,456.4 377.9,456 378.1,455.7 378.4,455.4 378.6,455.1 378.8,454.9 379.1,454.7 379.3,454.5 379.5,454.3 379.8,454.1 380,454 380.2,453.8 380.5,453.7 380.7,453.6 381,453.5 381.2,453.4 381.4,453.3 381.7,453.2 381.9,453.1 382.1,453 382.4,453 382.6,452.9 382.9,452.9 383.1,452.8 383.3,452.7 383.6,452.7 383.8,452.6 384,452.6 384.3,452.5 384.5,452.5 384.8,452.5 385,452.4 385.2,452.4 385.5,452.3 385.7,452.3 385.9,452.3 386.2,452.2 386.4,452.2 386.6,452.1 386.9,452.1 387.1,452 387.4,452 387.6,451.9 387.8,451.9 388.1,451.8 388.3,451.8 388.5,451.7 388.8,451.7 389,451.6 389.3,451.5 389.5,451.4 389.7,451.3 390,451.2 390.2,451.1 390.4,450.9 390.7,450.8 390.9,450.6 391.2,450.4 391.4,450.1 391.6,449.9 391.9,449.5 392.1,449.2 392.3,448.7 392.6,448.2 392.8,447.5 393,446.8 393.3,445.9 393.5,444.9 393.8,443.6 394,442.2 394.2,440.6 394.5,438.8 394.7,437.1 394.9,435.5 395.2,434.6 395.4,434.9 395.7,436.9 395.9,441 396.1,447.1 396.4,454.1 396.6,460.7 396.8,465.8 397.1,468.7 397.3,469.7 397.6,469.2 397.8,467.9 398,466.2 398.3,464.4 398.5,462.8 398.7,461.2 399,459.9 399.2,458.8 399.4,457.8 399.7,457 399.9,456.4 400.2,455.8 400.4,455.3 400.6,454.9 400.9,454.6 401.1,454.3 401.3,454 401.6,453.8 401.8,453.6 402.1,453.4 402.3,453.3 402.5,453.2 402.8,453.1 403,453 403.2,452.9 403.5,452.8 403.7,452.8 403.9,452.7 404.2,452.6 404.4,452.6 404.7,452.5 404.9,452.5 405.1,452.5 405.4,452.4 405.6,452.4 405.8,452.4 406.1,452.4 406.3,452.3 406.6,452.3 406.8,452.3 407,452.3 407.3,452.3 407.5,452.3 407.7,452.2 408,452.2 408.2,452.2 408.5,452.2 408.7,452.2 408.9,452.2 409.2,452.2 409.4,452.2 409.6,452.2 409.9,452.2 410.1,452.2 410.3,452.1 410.6,452.1 410.8,452.1 411.1,452.1 411.3,452.1 411.5,452.1 411.8,452.1 412,452.1 412.2,452.1 412.5,452.1 412.7,452.1 413,452.1 413.2,452.1 413.4,452.1 413.7,452.1 413.9,452.1 414.1,452.1 414.4,452.1 414.6,452.1 414.9,452.1 415.1,452.1 415.3,452.1 415.6,452.1 415.8,452.1 416,452.1 416.3,452.1 416.5,452.1 416.7,452.1 417,452.1 417.2,452.1 417.5,452.1 417.7,452.1 417.9,452.1 418.2,452.1 418.4,452.1 418.6,452 418.9,452 419.1,452 419.4,452 419.6,452 419.8,452 420.1,452 420.3,452 420.5,452 420.8,452 421,452 421.3,452 421.5,452 421.7,452 422,452 422.2,452 422.4,452 422.7,452 422.9,452 423.1,452 423.4,452 423.6,452 423.9,452 424.1,452 424.3,452 424.6,452 424.8,452 425,452 425.3,452 425.5,452 425.8,452 426,452 426.2,452 426.5,452 426.7,452 426.9,452 427.2,452 427.4,452 427.6,452 427.9,452 428.1,452 428.4,452 428.6,452 428.8,452 429.1,452 429.3,452 429.5,452 429.8,452 430,452 430.3,452 430.5,452 430.7,452 431,452 431.2,452 431.4,452 431.7,452 431.9,452 432.2,452 432.4,452 432.6,452 432.9,452 433.1,452 433.3,452 433.6,452 433.8,452 434,452 434.3,452 434.5,452 434.8,452 435,452 435.2,452 435.5,452 435.7,452 435.9,452 436.2,452 436.4,452 436.7,452 436.9,452 437.1,452 437.4,452 437.6,452 437.8,452 438.1,452 438.3,452 438.6,452 438.8,452 439,452 439.3,452 439.5,452" stroke="#f03c3c" stroke-width="1.05" fill="none" stroke-linejoin="round"/>
<line x1="273.8" y1="499" x2="439.5" y2="499" stroke="#4189ec" stroke-width="1.2"/>
<path d="M313.7,498.8 314,498.7 314.2,498.7 314.5,498.6 314.7,498.4 315,498.3 315.2,498.2 315.5,498 315.7,497.8 316,497.7 316.2,497.6 316.5,497.5 316.7,497.4 317,497.4 317.2,497.5 317.5,497.6 317.7,497.8 318,498 318.2,498.3 318.5,498.6 318.7,499 318.9,499.4 319.2,499.7 319.4,500 319.7,500.2 319.9,500.4 320.2,500.5 320.4,500.6 320.7,500.6 320.9,500.5 321.2,500.4 321.4,500.3 321.7,500.2 321.9,500 322.2,499.8 322.4,499.7 322.7,499.6 322.9,499.4 323.2,499.3 323.4,499.3 323.7,499.2" stroke="#1a6ae6" stroke-width="1.9" fill="none" stroke-linejoin="round"/>
<path d="M339.3,498.7 339.6,498.5 339.8,498.4 340,498.2 340.2,498 340.5,497.7 340.7,497.4 340.9,497.1 341.1,496.8 341.3,496.6 341.6,496.3 341.8,496.1 342,496 342.2,496 342.5,496.1 342.7,496.3 342.9,496.7 343.1,497.2 343.4,497.7 343.6,498.3 343.8,499 344,499.7 344.2,500.3 344.5,500.8 344.7,501.3 344.9,501.7 345.1,501.9 345.4,502 345.6,502 345.8,501.9 346,501.7 346.3,501.4 346.5,501.2 346.7,500.9 346.9,500.6 347.1,500.3 347.4,500 347.6,499.8 347.8,499.6 348,499.5 348.3,499.3" stroke="#1a6ae6" stroke-width="1.9" fill="none" stroke-linejoin="round"/>
<path d="M365,498.7 365.3,498.5 365.5,498.4 365.7,498.2 365.9,498 366.2,497.7 366.4,497.4 366.6,497.1 366.8,496.8 367,496.6 367.3,496.3 367.5,496.1 367.7,496 367.9,496 368.2,496.1 368.4,496.3 368.6,496.7 368.8,497.2 369.1,497.7 369.3,498.3 369.5,499 369.7,499.7 369.9,500.3 370.2,500.8 370.4,501.3 370.6,501.7 370.8,501.9 371.1,502 371.3,502 371.5,501.9 371.7,501.7 372,501.4 372.2,501.2 372.4,500.9 372.6,500.6 372.8,500.3 373.1,500 373.3,499.8 373.5,499.6 373.7,499.5 374,499.3" stroke="#1a6ae6" stroke-width="1.9" fill="none" stroke-linejoin="round"/>
<path d="M390,498.8 390.3,498.7 390.5,498.7 390.8,498.6 391,498.4 391.3,498.3 391.5,498.2 391.8,498 392,497.8 392.3,497.7 392.5,497.6 392.8,497.5 393,497.4 393.3,497.4 393.5,497.5 393.8,497.6 394,497.8 394.3,498 394.5,498.3 394.8,498.6 395,499 395.2,499.4 395.5,499.7 395.7,500 396,500.2 396.2,500.4 396.5,500.5 396.7,500.6 397,500.6 397.2,500.5 397.5,500.4 397.7,500.3 398,500.2 398.2,500 398.5,499.8 398.7,499.7 399,499.6 399.2,499.4 399.5,499.3 399.7,499.3 400,499.2" stroke="#1a6ae6" stroke-width="1.9" fill="none" stroke-linejoin="round"/>
<text x="468" y="367" font-family='"Liberation Serif", serif' font-size="16" font-weight="normal" text-anchor="start" fill="#000">i</text>
<rect x="495.6" y="371.7" width="175.8" height="141.9" fill="none" stroke="#555" stroke-width="0.9"/>
<text x="0" y="0" font-family='"Liberation Sans", sans-serif' font-size="7.7" font-weight="normal" text-anchor="middle" fill="#222" transform="translate(488.6 442.4) rotate(-90) scale(1.14 1)">ESR Amplitude</text>
<line x1="618.1" y1="378.3" x2="635.8" y2="378.3" stroke="#7a7a7a" stroke-width="1.3"/>
<line x1="618.1" y1="386.6" x2="635.8" y2="386.6" stroke="#f4a0a0" stroke-width="1.3"/>
<text x="638.2" y="380.9" font-family='"Liberation Sans", sans-serif' font-size="7.8" font-weight="normal" text-anchor="start" fill="#222">Control</text>
<text x="638.2" y="389.4" font-family='"Liberation Sans", sans-serif' font-size="7.8" font-weight="normal" text-anchor="start" fill="#222">HA-CUR</text>
<path d="M496,434.3 496.2,436.1 496.5,431.1 496.7,435.1 497,435.4 497.2,433 497.5,434.1 497.7,434.1 498,436.2 498.2,435.6 498.5,434.1 498.7,433.7 499,438 499.2,436.3 499.5,435.2 499.7,435.3 500,435.4 500.2,435.2 500.4,434.2 500.7,436.9 500.9,434.2 501.2,433.2 501.4,432.6 501.7,434 501.9,433.7 502.2,434 502.4,434.4 502.7,434.5 502.9,435.7 503.2,434.2 503.4,433.4 503.7,433.9 503.9,433.1 504.2,434.8 504.4,432.5 504.6,431.6 504.9,436.9 505.1,430.8 505.4,431.5 505.6,434.6 505.9,433.7 506.1,435.7 506.4,429.7 506.6,433.4 506.9,437.3 507.1,436.2 507.4,433.8 507.6,436.7 507.9,434.7 508.1,437.6 508.4,433.6 508.6,434.4 508.9,434.4 509.1,434.6 509.3,438 509.6,437.7 509.8,436.9 510.1,436 510.3,434.6 510.6,434.2 510.8,435.7 511.1,434.3 511.3,436.5 511.6,434.5 511.8,432.4 512.1,432.8 512.3,436.2 512.6,436.1 512.8,434.9 513.1,431.3 513.3,433.7 513.5,431.6 513.8,435.3 514,436.1 514.3,434.4 514.5,434.5 514.8,434.7 515,433.7 515.3,433 515.5,433.7 515.8,436.9 516,439.1 516.3,433.2 516.5,432.2 516.8,432.2 517,432.6 517.3,434.7 517.5,434.1 517.7,433.5 518,435.3 518.2,433.2 518.5,433.2 518.7,435.5 519,434.1 519.2,434 519.5,438.7 519.7,435 520,432.7 520.2,432.1 520.5,436.3 520.7,436.7 521,437.5 521.2,435.7 521.5,438.2 521.7,439.1 522,437.4 522.2,435.4 522.4,434.4 522.7,436.8 522.9,438.6 523.2,436.1 523.4,433.5 523.7,435.2 523.9,432.3 524.2,434.2 524.4,437.4 524.7,434.2 524.9,435.1 525.2,436.5 525.4,432.5 525.7,434.3 525.9,436.5 526.2,434.2 526.4,432.8 526.6,434.1 526.9,436.8 527.1,435.8 527.4,434.6 527.6,434.6 527.9,436.8 528.1,440.9 528.4,435.3 528.6,437.4 528.9,435.3 529.1,435.6 529.4,435.8 529.6,436.3 529.9,436.6 530.1,439.9 530.4,435.5 530.6,432 530.8,437.1 531.1,434.8 531.3,433.9 531.6,435.7 531.8,433.9 532.1,435.4 532.3,434.6 532.6,436.4 532.8,433.6 533.1,433.2 533.3,434.2 533.6,431.3 533.8,434.2 534.1,429.5 534.3,431.7 534.6,430 534.8,432.8 535,436.3 535.3,437.2 535.5,431.9 535.8,431.7 536,432.9 536.3,436.1 536.5,435.4 536.8,433.4 537,431.8 537.3,436.7 537.5,433.7 537.8,432.6 538,437.4 538.3,435.4 538.5,433.5 538.8,435.1 539,433.9 539.2,435.1 539.5,436.5 539.7,432.1 540,436.8 540.2,434.4 540.5,435.6 540.7,436.4 541,435 541.2,434.6 541.5,433.9 541.7,435.3 542,435.4 542.2,436 542.5,434.3 542.7,434 543,435.7 543.2,433.2 543.5,434.6 543.7,435.3 543.9,432.9 544.2,433.9 544.4,433.4 544.7,434.2 544.9,433 545.2,435.9 545.4,436.6 545.7,436 545.9,436 546.2,432.5 546.4,435.8 546.7,436.6 546.9,435.6 547.2,435.1 547.4,436.7 547.7,434.8 547.9,435 548.1,435.7 548.4,437.3 548.6,437.4 548.9,436.4 549.1,436.6 549.4,435.1 549.6,432 549.9,431.8 550.1,432.3 550.4,434.3 550.6,430.8 550.9,435.2 551.1,434.6 551.4,434.3 551.6,434.2 551.9,433.1 552.1,433.5 552.3,429.4 552.6,427.1 552.8,428.1 553.1,428.1 553.3,422.2 553.6,424.6 553.8,419.1 554.1,416.8 554.3,413.9 554.6,406.3 554.8,407.5 555.1,398.3 555.3,397.5 555.6,400.3 555.8,419.2 556.1,442.1 556.3,462.7 556.5,473.1 556.8,479.9 557,472.5 557.3,467.8 557.5,463.5 557.8,457 558,452.1 558.3,447.9 558.5,446.6 558.8,442.5 559,444.3 559.3,440.4 559.5,438.6 559.8,443.4 560,441.6 560.3,438.2 560.5,434.4 560.8,435.2 561,435.5 561.2,439.5 561.5,435.7 561.7,436.5 562,436.5 562.2,439.8 562.5,437.8 562.7,438 563,435.4 563.2,436.8 563.5,438.5 563.7,438.6 564,434.1 564.2,436.8 564.5,437.3 564.7,437.3 565,439.5 565.2,436.8 565.4,440.3 565.7,435.9 565.9,436.8 566.2,435.3 566.4,436.5 566.7,436.5 566.9,435.9 567.2,434.4 567.4,436.6 567.7,437.5 567.9,436.6 568.2,439.9 568.4,436.5 568.7,432.7 568.9,437.2 569.2,439.4 569.4,434.6 569.6,435.3 569.9,433.4 570.1,432.4 570.4,435 570.6,431.6 570.9,432 571.1,436.9 571.4,439.8 571.6,436.7 571.9,434 572.1,436.4 572.4,434.7 572.6,433.7 572.9,437 573.1,437.5 573.4,435.9 573.6,437.4 573.9,433.9 574.1,436.8 574.3,435.2 574.6,433.6 574.8,432 575.1,437.2 575.3,434.1 575.6,436.9 575.8,433.7 576.1,434.1 576.3,435 576.6,430.4 576.8,434 577.1,435.9 577.3,435.5 577.6,435.1 577.8,436.8 578.1,436.5 578.3,434.7 578.5,435.5 578.8,434.2 579,432.5 579.3,439.1 579.5,437.9 579.8,437.6 580,435.2 580.3,438.3 580.5,438.3 580.8,436.8 581,435 581.3,439.5 581.5,434.2 581.8,436.8 582,439.1 582.3,435.8 582.5,431.3 582.7,429.7 583,432.2 583.2,431.6 583.5,431.6 583.7,429.1 584,430.9 584.2,432.8 584.5,427.1 584.7,423.7 585,424.8 585.2,421 585.5,416.8 585.7,410.8 586,405.2 586.2,398.3 586.5,393.5 586.7,393 586.9,406.3 587.2,426 587.4,450.6 587.7,464.6 587.9,473.3 588.2,472.9 588.4,472.8 588.7,468.4 588.9,462.6 589.2,454.8 589.4,451.9 589.7,449.6 589.9,446.5 590.2,449.9 590.4,443.8 590.7,443.8 590.9,441.3 591.1,440.7 591.4,441 591.6,436.8 591.9,438.7 592.1,439.4 592.4,441.7 592.6,437.2 592.9,438.3 593.1,437 593.4,440.6 593.6,437.8 593.9,443.2 594.1,440 594.4,437.9 594.6,436.7 594.9,439.5 595.1,436.4 595.4,437.1 595.6,437.2 595.8,438.3 596.1,441 596.3,439.4 596.6,438 596.8,439.8 597.1,439 597.3,439.9 597.6,440.4 597.8,434.8 598.1,437.9 598.3,441.8 598.6,435.6 598.8,437.6 599.1,439.1 599.3,438.1 599.6,435.8 599.8,438.6 600,436.9 600.3,436.2 600.5,436 600.8,436.8 601,435.6 601.3,434.2 601.5,438.1 601.8,437.9 602,436.4 602.3,437.7 602.5,438.5 602.8,437.8 603,434.5 603.3,435.9 603.5,433.6 603.8,436.7 604,439.3 604.2,439.4 604.5,437.7 604.7,436.1 605,436.1 605.2,437.3 605.5,435.9 605.7,434.2 606,437.6 606.2,437.7 606.5,440 606.7,437.2 607,437.5 607.2,439.3 607.5,439.2 607.7,438.7 608,434.8 608.2,438.4 608.5,435.2 608.7,437.3 608.9,433.5 609.2,434.3 609.4,435.1 609.7,437.3 609.9,438.1 610.2,437.9 610.4,437.5 610.7,435.7 610.9,437.5 611.2,433.5 611.4,434.6 611.7,435.7 611.9,440.3 612.2,437.8 612.4,435.5 612.7,435 612.9,435.1 613.1,437 613.4,436.5 613.6,435.7 613.9,435.5 614.1,438.4 614.4,435.8 614.6,436.8 614.9,431.1 615.1,432.6 615.4,431.9 615.6,431.7 615.9,427.8 616.1,425.1 616.4,426.5 616.6,420 616.9,416.6 617.1,412.8 617.3,408.1 617.6,402.4 617.8,398.5 618.1,409.7 618.3,424.9 618.6,443.8 618.8,463.3 619.1,471.4 619.3,474.9 619.6,471.6 619.8,467.4 620.1,458.4 620.3,457.8 620.6,454.8 620.8,452.3 621.1,449.2 621.3,444 621.5,441.8 621.8,446.6 622,444.6 622.3,436.1 622.5,439.7 622.8,442.8 623,437.6 623.3,440.9 623.5,438.5 623.8,438 624,435.4 624.3,438.4 624.5,438.7 624.8,440 625,440.1 625.3,440.7 625.5,443.7 625.8,443 626,436.6 626.2,437.4 626.5,436.4 626.7,439.1 627,439.5 627.2,442.9 627.5,437.9 627.7,439.6 628,438.7 628.2,434.9 628.5,440.2 628.7,439 629,435.6 629.2,439.7 629.5,437.8 629.7,439.1 630,437.1 630.2,438.6 630.4,438.5 630.7,441.9 630.9,437.7 631.2,440.6 631.4,438.7 631.7,439.5 631.9,439.4 632.2,435.5 632.4,437.3 632.7,435.8 632.9,439.1 633.2,440.7 633.4,440.7 633.7,436.1 633.9,435.8 634.2,436.6 634.4,438.5 634.6,439.1 634.9,438.9 635.1,438.3 635.4,438.5 635.6,440.5 635.9,438 636.1,435.7 636.4,440.9 636.6,435.8 636.9,437.8 637.1,439.8 637.4,440 637.6,440 637.9,442.7 638.1,442.3 638.4,437.3 638.6,437.3 638.8,442.2 639.1,440.7 639.3,439.1 639.6,441.9 639.8,439.6 640.1,440.2 640.3,440.4 640.6,440.7 640.8,438.4 641.1,440.9 641.3,438.7 641.6,437.2 641.8,439.8 642.1,440.5 642.3,437.2 642.6,439.5 642.8,437.9 643,439.2 643.3,440.9 643.5,441.1 643.8,437.1 644,436.1 644.3,436.6 644.5,436.4 644.8,439.5 645,442.7 645.3,437.3 645.5,437.8 645.8,438.2 646,440.3 646.3,440.8 646.5,438.7 646.8,438.9 647,437.7 647.3,437.1 647.5,437.3 647.7,438.4 648,440.1 648.2,436.7 648.5,439.8 648.7,435.6 649,440 649.2,440.9 649.5,442.1 649.7,436.1 650,439.3 650.2,437.5 650.5,439.2 650.7,440.8 651,437.3 651.2,437.9 651.5,436.1 651.7,436.9 651.9,433.6 652.2,437.2 652.4,433.3 652.7,436.5 652.9,439.4 653.2,441.4 653.4,436.7 653.7,439.7 653.9,437.4 654.2,434.3 654.4,440.1 654.7,439.2 654.9,439.7 655.2,439.5 655.4,440.1 655.7,437.2 655.9,439.2 656.1,438.1 656.4,438.6 656.6,437.3 656.9,440.2 657.1,440.9 657.4,439.7 657.6,441 657.9,437.5 658.1,441.8 658.4,437.9 658.6,438 658.9,438.4 659.1,440.8 659.4,439.9 659.6,439.7 659.9,437.3 660.1,440.4 660.4,441.2 660.6,437 660.8,437.7 661.1,440 661.3,440.5 661.6,436.2 661.8,436.7 662.1,438.8 662.3,438.1 662.6,439.2 662.8,437.2 663.1,436.7 663.3,439 663.6,439.3 663.8,436.8 664.1,440.1 664.3,439.8 664.6,439 664.8,438.9 665,440.3 665.3,439.5 665.5,438.6 665.8,438.5 666,441.2 666.3,442.1 666.5,434.1 666.8,436.2 667,433.5 667.3,436.3 667.5,437.4 667.8,436.5 668,439.1 668.3,439 668.5,439.3 668.8,436 669,437.7" stroke="#474747" stroke-width="1.15" fill="none" stroke-linejoin="round"/>
<path d="M496,494.6 496.2,492.5 496.5,491.7 496.7,493.6 497,497.7 497.2,494 497.4,493.8 497.7,494.7 497.9,495.7 498.2,495 498.4,493.9 498.6,494 498.9,494.6 499.1,494.3 499.4,494.8 499.6,493.5 499.8,494.3 500.1,493.6 500.3,493.2 500.6,493.7 500.8,495.1 501,494.4 501.3,494.4 501.5,494.2 501.8,494.1 502,493.9 502.2,493.7 502.5,491.6 502.7,493.8 503,493.3 503.2,493.2 503.4,492.9 503.7,494.4 503.9,493.9 504.2,494.3 504.4,494.4 504.6,494.6 504.9,494.4 505.1,495 505.4,495.4 505.6,495.2 505.8,494.6 506.1,495.4 506.3,493.8 506.6,492.8 506.8,493.6 507,492 507.3,492.9 507.5,494 507.8,495.6 508,494.8 508.2,493.5 508.5,494.6 508.7,494.7 509,494.5 509.2,495.1 509.4,493.4 509.7,495.1 509.9,492.5 510.2,493.7 510.4,494.7 510.6,494.8 510.9,493.6 511.1,491.8 511.4,492.1 511.6,492.5 511.8,493.9 512.1,496.1 512.3,493.8 512.6,495.5 512.8,493.5 513,494 513.3,494.3 513.5,496.5 513.8,494.8 514,492 514.2,493 514.5,494.6 514.7,493.9 515,494.8 515.2,494 515.4,494.4 515.7,494.9 515.9,496.8 516.2,494.5 516.4,493.3 516.6,494.9 516.9,495.1 517.1,492.4 517.4,494.5 517.6,493.5 517.8,494 518.1,495.3 518.3,495.7 518.6,493.7 518.8,494.4 519,493.6 519.3,491.5 519.5,493.4 519.8,492.1 520,492.8 520.2,494.2 520.5,492.9 520.7,493.2 521,492.3 521.2,492.4 521.4,494.2 521.7,494.9 521.9,492.1 522.2,494.7 522.4,494 522.6,493.4 522.9,492.6 523.1,494.2 523.4,493.4 523.6,493 523.8,494 524.1,494.6 524.3,492.5 524.6,494.2 524.8,494.1 525,494.9 525.3,495.3 525.5,494.4 525.8,493.1 526,495.1 526.2,494.9 526.5,493.3 526.7,493.1 527,493.7 527.2,494.9 527.4,494.4 527.7,496.1 527.9,493.1 528.2,495 528.4,493.4 528.6,493.6 528.9,493.6 529.1,495.5 529.4,495.9 529.6,492.5 529.8,494.2 530.1,494.7 530.3,494.7 530.6,494.6 530.8,492.8 531,494.9 531.3,495.4 531.5,493.5 531.8,494.6 532,495 532.2,494.7 532.5,494.8 532.7,493 533,493.2 533.2,494.3 533.4,494.8 533.7,495.4 533.9,493.3 534.2,493.1 534.4,493.2 534.6,493.3 534.9,495.6 535.1,495.9 535.4,494.5 535.6,495.6 535.8,493.9 536.1,494.3 536.3,494.1 536.6,494.2 536.8,493.3 537,492.5 537.3,494.4 537.5,493.7 537.8,493.1 538,492.8 538.2,491.5 538.5,492.4 538.7,493.9 539,493.1 539.2,491.8 539.4,492.6 539.7,491.4 539.9,494 540.2,491.3 540.4,493.4 540.6,495.5 540.9,494.4 541.1,494.6 541.4,492.7 541.6,496 541.8,494.1 542.1,494.9 542.3,497 542.6,493.2 542.8,493.9 543,492.9 543.3,494 543.5,493.6 543.8,494.3 544,494.1 544.2,493.6 544.5,494.6 544.7,494.9 545,493.2 545.2,494.6 545.4,493.1 545.7,493.1 545.9,494.5 546.2,495.2 546.4,494.6 546.6,496.9 546.9,493.6 547.1,494.3 547.4,493.8 547.6,492 547.8,494.3 548.1,494.2 548.3,494.3 548.6,494.1 548.8,494.4 549,493.9 549.3,492.1 549.5,493.9 549.8,493.8 550,493.2 550.2,491.8 550.5,493.6 550.7,494.1 551,495.7 551.2,493.8 551.4,494.2 551.7,493.9 551.9,493.1 552.2,492.6 552.4,492.4 552.6,493 552.9,493.7 553.1,493.3 553.4,490.2 553.6,490.7 553.8,492.2 554.1,491.4 554.3,492.6 554.6,492.8 554.8,493.7 555,495.4 555.3,497.1 555.5,496 555.8,495.5 556,494.8 556.2,496.3 556.5,497.5 556.7,496.5 557,495.5 557.2,495.8 557.4,494.4 557.7,495.4 557.9,496.6 558.2,495.6 558.4,494.4 558.6,495.1 558.9,496 559.1,495.4 559.4,496.1 559.6,495.2 559.8,494.8 560.1,494 560.3,494.8 560.6,495.4 560.8,496.1 561,496.1 561.3,494.5 561.5,493 561.8,493.7 562,496.3 562.2,492.7 562.5,493.9 562.7,495.1 563,496 563.2,494.1 563.4,495 563.7,494.3 563.9,494.7 564.2,494.1 564.4,494.9 564.6,495.1 564.9,494 565.1,495.3 565.4,493.3 565.6,492.2 565.8,492.8 566.1,494.9 566.3,493.7 566.6,495 566.8,494.7 567,494.7 567.3,494.6 567.5,496.4 567.8,495.5 568,493.2 568.2,493.3 568.5,494.7 568.7,494.9 569,495.4 569.2,496.2 569.4,494.9 569.7,493.5 569.9,495.2 570.2,493.8 570.4,494.5 570.6,493.6 570.9,495 571.1,496.5 571.4,493.6 571.6,494.1 571.8,495.7 572.1,495.3 572.3,497.4 572.6,496 572.8,495.8 573,496.1 573.3,495 573.5,494.5 573.8,494.6 574,495.3 574.2,495.8 574.5,493.9 574.7,494.6 575,495.5 575.2,495.1 575.4,494.4 575.7,495 575.9,494 576.2,494 576.4,492.8 576.6,493.9 576.9,495.7 577.1,494.9 577.4,493.1 577.6,492.5 577.8,493.4 578.1,492.4 578.3,493.7 578.6,493.7 578.8,495.1 579,492.9 579.3,491.7 579.5,494.2 579.8,496.7 580,495.7 580.2,493.9 580.5,495.4 580.7,494.8 581,493.9 581.2,494.1 581.4,494.3 581.7,497 581.9,495.5 582.2,494.8 582.4,495.5 582.6,496.3 582.9,496.3 583.1,492.3 583.4,493.5 583.6,493.5 583.8,494.7 584.1,493.6 584.3,494.6 584.6,492.7 584.8,491 585,491 585.3,491.1 585.5,491.9 585.8,492.1 586,493.9 586.2,496 586.5,498 586.7,496.5 587,496.9 587.2,499.5 587.4,495.9 587.7,496.8 587.9,495.5 588.2,494.8 588.4,497.4 588.6,494.5 588.9,494.5 589.1,497.5 589.4,495.2 589.6,496.9 589.8,496.6 590.1,496.9 590.3,494.5 590.6,498.5 590.8,495.4 591,494.4 591.3,495.6 591.5,495.2 591.8,495.2 592,493.6 592.2,496.1 592.5,495.5 592.7,498.7 593,499 593.2,497.2 593.4,496.5 593.7,494.9 593.9,495 594.2,496.5 594.4,494.9 594.6,494.5 594.9,494.5 595.1,495.6 595.4,496.1 595.6,496.1 595.8,495.6 596.1,494.2 596.3,495 596.6,495.2 596.8,494.6 597,495.5 597.3,496.5 597.5,495.1 597.8,494.3 598,495.2 598.2,495.7 598.5,494.6 598.7,495.9 599,495.6 599.2,494.5 599.4,494.1 599.7,496.5 599.9,495.5 600.2,495.6 600.4,497.7 600.6,495.3 600.9,494.9 601.1,496 601.4,494.6 601.6,495.3 601.8,495.7 602.1,493.1 602.3,494.5 602.6,494 602.8,496.3 603,493.2 603.3,495.5 603.5,496.7 603.8,497 604,498.4 604.2,496.2 604.5,494.3 604.7,495 605,494.2 605.2,496.2 605.4,495.9 605.7,496.4 605.9,496 606.2,496.2 606.4,494.2 606.6,494.9 606.9,495.9 607.1,494.1 607.4,494.5 607.6,495.6 607.8,494.9 608.1,493.9 608.3,495.2 608.6,494.7 608.8,495.6 609,494.2 609.3,495.9 609.5,495.6 609.8,496.2 610,492.8 610.2,494.2 610.5,494 610.7,495 611,496.4 611.2,495.7 611.4,494.9 611.7,495.5 611.9,493.7 612.2,495 612.4,494 612.6,496.3 612.9,495 613.1,494.7 613.4,496.2 613.6,495.6 613.8,493.9 614.1,493.7 614.3,494.6 614.6,495.6 614.8,494.5 615,493.2 615.3,493.1 615.5,493.6 615.8,492.7 616,492.2 616.2,494.7 616.5,493.2 616.7,493.9 617,490.3 617.2,495 617.4,494.7 617.7,495.2 617.9,496.9 618.2,497 618.4,496.3 618.6,496.9 618.9,497.6 619.1,495.7 619.4,495.4 619.6,496.4 619.8,495.7 620.1,496.6 620.3,497.8 620.6,498 620.8,498.1 621,497.8 621.3,495.6 621.5,495.8 621.8,497.3 622,496.3 622.2,495 622.5,494.8 622.7,494.4 623,497.2 623.2,495.1 623.4,495 623.7,494.5 623.9,496.7 624.2,495.1 624.4,495.3 624.6,494.8 624.9,496.7 625.1,496.9 625.4,496.5 625.6,498.8 625.8,496.8 626.1,498.3 626.3,496 626.6,496.5 626.8,495.1 627,495.2 627.3,497.2 627.5,496 627.8,496.6 628,496.5 628.2,496.9 628.5,496.9 628.7,495.1 629,495.5 629.2,495.2 629.4,494.6 629.7,496.3 629.9,494.4 630.2,495.4 630.4,497.8 630.6,497 630.9,496.2 631.1,498.5 631.4,496.8 631.6,494 631.8,495 632.1,496.1 632.3,495.8 632.6,496 632.8,495.7 633,495.2 633.3,493.8 633.5,493.7 633.8,496.9 634,496.2 634.2,494.6 634.5,495.4 634.7,496.4 635,497.1 635.2,496.7 635.4,495.3 635.7,495.6 635.9,495.3 636.2,495.6 636.4,495.2 636.6,497.2 636.9,496.9 637.1,497.1 637.4,497.6 637.6,497.9 637.8,496.8 638.1,498.5 638.3,498.8 638.6,495 638.8,495.3 639,497.3 639.3,498.8 639.5,497.6 639.8,496.1 640,495.6 640.2,496.1 640.5,496.3 640.7,494.4 641,497.6 641.2,496.4 641.4,495 641.7,495.7 641.9,495.6 642.2,494.7 642.4,495.3 642.6,497.9 642.9,497.3 643.1,494.1 643.4,492.4 643.6,494.2 643.8,494.3 644.1,496.4 644.3,496.8 644.6,497.1 644.8,495.2 645,494.9 645.3,494.7 645.5,495.5 645.8,495.9 646,496 646.2,496.5 646.5,496.3 646.7,496.1 647,496 647.2,492.2 647.4,494.4 647.7,493.6 647.9,495.9 648.2,497.9 648.4,494.6 648.6,497 648.9,496.1 649.1,496.8 649.4,495.2 649.6,495.6 649.8,495.7 650.1,497.5 650.3,496.9 650.6,493 650.8,494.7 651,494.7 651.3,494.2 651.5,495.8 651.8,493.7 652,494 652.2,492.9 652.5,494.1 652.7,494.3 653,495.7 653.2,496.7 653.4,496.2 653.7,495.7 653.9,495.8 654.2,495.3 654.4,495.9 654.6,495.6 654.9,498 655.1,496.7 655.4,495.7 655.6,494.7 655.8,494.9 656.1,496.5 656.3,496.2 656.6,494.8 656.8,495.3 657,495.3 657.3,495.5 657.5,494.6 657.8,494.6 658,496.1 658.2,497.2 658.5,498.2 658.7,495.3 659,494.7 659.2,494.7 659.4,495.6 659.7,494.5 659.9,495.3 660.2,494.7 660.4,493.9 660.6,494.8 660.9,494.3 661.1,494.7 661.4,494.8 661.6,496.3 661.8,495.2 662.1,494.7 662.3,494.6 662.6,495.9 662.8,495.4 663,497.2 663.3,496.6 663.5,495.5 663.8,494.9 664,494.5" stroke="#ec3434" stroke-width="1.4" fill="none" stroke-linejoin="round"/>
<text x="5" y="545.6" font-family='"Liberation Serif", serif' font-size="15.5" font-weight="normal" text-anchor="start" fill="#000">j</text>
<line x1="40.4" y1="568" x2="40.4" y2="720.1" stroke="#4a4a4a" stroke-width="1.4"/>
<line x1="39.7" y1="719.4" x2="209.5" y2="719.4" stroke="#4a4a4a" stroke-width="1.4"/>
<line x1="37.4" y1="702.5" x2="40.4" y2="702.5" stroke="#222" stroke-width="0.8"/>
<text x="36.1" y="704.7" font-family='"Liberation Serif", serif' font-size="6.3" font-weight="normal" text-anchor="end" fill="#111">0. 05</text>
<line x1="37.4" y1="669" x2="40.4" y2="669" stroke="#222" stroke-width="0.8"/>
<text x="36.1" y="671.2" font-family='"Liberation Serif", serif' font-size="6.3" font-weight="normal" text-anchor="end" fill="#111">0. 10</text>
<line x1="37.4" y1="635.5" x2="40.4" y2="635.5" stroke="#222" stroke-width="0.8"/>
<text x="36.1" y="637.7" font-family='"Liberation Serif", serif' font-size="6.3" font-weight="normal" text-anchor="end" fill="#111">0. 15</text>
<line x1="37.4" y1="602" x2="40.4" y2="602" stroke="#222" stroke-width="0.8"/>
<text x="36.1" y="604.2" font-family='"Liberation Serif", serif' font-size="6.3" font-weight="normal" text-anchor="end" fill="#111">0. 20</text>
<line x1="37.4" y1="568.5" x2="40.4" y2="568.5" stroke="#222" stroke-width="0.8"/>
<text x="36.1" y="570.7" font-family='"Liberation Serif", serif' font-size="6.3" font-weight="normal" text-anchor="end" fill="#111">0. 25</text>
<line x1="40.4" y1="685.75" x2="42" y2="685.75" stroke="#222" stroke-width="0.7"/>
<line x1="40.4" y1="652.25" x2="42" y2="652.25" stroke="#222" stroke-width="0.7"/>
<line x1="40.4" y1="618.75" x2="42" y2="618.75" stroke="#222" stroke-width="0.7"/>
<line x1="40.4" y1="585.25" x2="42" y2="585.25" stroke="#222" stroke-width="0.7"/>
<line x1="40.4" y1="719.4" x2="40.4" y2="721.6" stroke="#222" stroke-width="0.8"/>
<text x="0" y="0" font-family='"Liberation Serif", serif' font-size="6.4" font-weight="normal" text-anchor="middle" fill="#111" transform="translate(40.4 729.9) scale(0.92 1)">400</text>
<line x1="74.22" y1="719.4" x2="74.22" y2="721.6" stroke="#222" stroke-width="0.8"/>
<text x="0" y="0" font-family='"Liberation Serif", serif' font-size="6.4" font-weight="normal" text-anchor="middle" fill="#111" transform="translate(74.22 729.9) scale(0.92 1)">420</text>
<line x1="108.04" y1="719.4" x2="108.04" y2="721.6" stroke="#222" stroke-width="0.8"/>
<text x="0" y="0" font-family='"Liberation Serif", serif' font-size="6.4" font-weight="normal" text-anchor="middle" fill="#111" transform="translate(108.04 729.9) scale(0.92 1)">440</text>
<line x1="141.86" y1="719.4" x2="141.86" y2="721.6" stroke="#222" stroke-width="0.8"/>
<text x="0" y="0" font-family='"Liberation Serif", serif' font-size="6.4" font-weight="normal" text-anchor="middle" fill="#111" transform="translate(141.86 729.9) scale(0.92 1)">460</text>
<line x1="175.68" y1="719.4" x2="175.68" y2="721.6" stroke="#222" stroke-width="0.8"/>
<text x="0" y="0" font-family='"Liberation Serif", serif' font-size="6.4" font-weight="normal" text-anchor="middle" fill="#111" transform="translate(175.68 729.9) scale(0.92 1)">480</text>
<line x1="209.5" y1="719.4" x2="209.5" y2="721.6" stroke="#222" stroke-width="0.8"/>
<text x="0" y="0" font-family='"Liberation Serif", serif' font-size="6.4" font-weight="normal" text-anchor="middle" fill="#111" transform="translate(209.5 729.9) scale(0.92 1)">500</text>
<line x1="57.31" y1="719.4" x2="57.31" y2="720.7" stroke="#222" stroke-width="0.7"/>
<line x1="91.13" y1="719.4" x2="91.13" y2="720.7" stroke="#222" stroke-width="0.7"/>
<line x1="124.95" y1="719.4" x2="124.95" y2="720.7" stroke="#222" stroke-width="0.7"/>
<line x1="158.77" y1="719.4" x2="158.77" y2="720.7" stroke="#222" stroke-width="0.7"/>
<line x1="192.59" y1="719.4" x2="192.59" y2="720.7" stroke="#222" stroke-width="0.7"/>
<text x="0" y="0" font-family='"Liberation Serif", serif' font-size="10.4" font-weight="bold" text-anchor="middle" fill="#111" transform="translate(21 644.2) rotate(-90) scale(0.84 1)">SOD</text>
<text x="0" y="0" font-family='"Liberation Serif", serif' font-size="9.7" font-weight="bold" text-anchor="middle" fill="#111" transform="translate(125 741.6) scale(0.86 1)">Wavelength(nm)</text>
<path d="M57.3,642.2 58.4,641.5 59.6,640.6 60.7,639.6 61.8,638.5 62.9,637.3 64.1,636 65.2,634.6 66.3,633.2 67.5,631.7 68.6,630.3 69.7,628.8 70.8,627.4 72,626 73.1,624.7 74.2,623.4 75.3,622.2 76.5,621 77.6,619.8 78.7,618.6 79.9,617.4 81,616.2 82.1,615 83.2,613.8 84.4,612.7 85.5,611.5 86.6,610.4 87.7,609.3 88.9,608.2 90,607.1 91.1,606 92.3,605 93.4,603.9 94.5,602.9 95.6,601.9 96.8,600.9 97.9,599.9 99,599 100.1,598 101.3,597.1 102.4,596.2 103.5,595.3 104.7,594.4 105.8,593.6 106.9,592.7 108,591.9 109.2,591.2 110.3,590.4 111.4,589.7 112.5,589 113.7,588.3 114.8,587.6 115.9,587 117.1,586.3 118.2,585.7 119.3,585.1 120.4,584.6 121.6,584 122.7,583.5 123.8,583 124.9,582.6 126.1,582.1 127.2,581.7 128.3,581.3 129.5,580.9 130.6,580.6 131.7,580.3 132.8,579.9 134,579.7 135.1,579.4 136.2,579.2 137.4,579 138.5,578.8 139.6,578.7 140.7,578.6 141.9,578.5 143,578.5 144.1,578.5 145.2,578.5 146.4,578.6 147.5,578.7 148.6,578.8 149.8,578.9 150.9,579.1 152,579.3 153.1,579.5 154.3,579.8 155.4,580.1 156.5,580.5 157.6,580.8 158.8,581.2 159.9,581.7 161,582.2 162.2,582.7 163.3,583.3 164.4,583.9 165.5,584.5 166.7,585.2 167.8,585.9 168.9,586.6 170,587.4 171.2,588.1 172.3,588.9 173.4,589.7 174.6,590.5 175.7,591.3 176.8,592.1 177.9,593.1 179.1,594.1 180.2,595.1 181.3,596.2 182.4,597.3 183.6,598.4 184.7,599.5 185.8,600.5 187,601.6 188.1,602.5 189.2,603.4 190.3,604.1 191.5,604.8 192.6,605.4" stroke="#2a2a2a" stroke-width="1.3" fill="none" stroke-linejoin="round"/>
<path d="M57.3,656.9 58.4,656.3 59.6,655.4 60.7,654.4 61.8,653.3 62.9,652.2 64.1,650.9 65.2,649.5 66.3,648.2 67.5,646.8 68.6,645.4 69.7,644 70.8,642.6 72,641.3 73.1,640 74.2,638.9 75.3,637.7 76.5,636.6 77.6,635.5 78.7,634.5 79.9,633.4 81,632.3 82.1,631.3 83.2,630.3 84.4,629.2 85.5,628.2 86.6,627.2 87.7,626.3 88.9,625.3 90,624.4 91.1,623.4 92.3,622.5 93.4,621.6 94.5,620.7 95.6,619.9 96.8,619 97.9,618.1 99,617.3 100.1,616.5 101.3,615.7 102.4,614.9 103.5,614.2 104.7,613.4 105.8,612.7 106.9,612 108,611.4 109.2,610.7 110.3,610.1 111.4,609.5 112.5,609 113.7,608.4 114.8,607.9 115.9,607.4 117.1,606.9 118.2,606.4 119.3,605.9 120.4,605.5 121.6,605.1 122.7,604.7 123.8,604.4 124.9,604 126.1,603.7 127.2,603.4 128.3,603.1 129.5,602.8 130.6,602.6 131.7,602.3 132.8,602.1 134,602 135.1,601.8 136.2,601.7 137.4,601.5 138.5,601.4 139.6,601.4 140.7,601.3 141.9,601.3 143,601.3 144.1,601.4 145.2,601.4 146.4,601.5 147.5,601.6 148.6,601.7 149.8,601.9 150.9,602 152,602.2 153.1,602.5 154.3,602.7 155.4,603 156.5,603.3 157.6,603.6 158.8,604 159.9,604.4 161,604.8 162.2,605.3 163.3,605.8 164.4,606.3 165.5,606.9 166.7,607.4 167.8,608 168.9,608.7 170,609.3 171.2,610 172.3,610.6 173.4,611.3 174.6,612 175.7,612.7 176.8,613.5 177.9,614.3 179.1,615.2 180.2,616.2 181.3,617.1 182.4,618.1 183.6,619.1 184.7,620.1 185.8,621.1 187,622 188.1,622.9 189.2,623.7 190.3,624.4 191.5,625 192.6,625.4" stroke="#ee2a2a" stroke-width="1.3" fill="none" stroke-linejoin="round"/>
<path d="M57.3,680.4 58.4,680 59.6,679.4 60.7,678.8 61.8,678.1 62.9,677.4 64.1,676.6 65.2,675.7 66.3,674.8 67.5,674 68.6,673.1 69.7,672.2 70.8,671.3 72,670.5 73.1,669.7 74.2,669 75.3,668.3 76.5,667.6 77.6,667 78.7,666.3 79.9,665.6 81,665 82.1,664.4 83.2,663.7 84.4,663.1 85.5,662.5 86.6,661.9 87.7,661.3 88.9,660.8 90,660.2 91.1,659.6 92.3,659.1 93.4,658.5 94.5,658 95.6,657.4 96.8,656.9 97.9,656.4 99,655.9 100.1,655.4 101.3,654.9 102.4,654.4 103.5,654 104.7,653.5 105.8,653.1 106.9,652.7 108,652.2 109.2,651.9 110.3,651.5 111.4,651.1 112.5,650.7 113.7,650.4 114.8,650 115.9,649.7 117.1,649.4 118.2,649.1 119.3,648.8 120.4,648.5 121.6,648.2 122.7,648 123.8,647.8 124.9,647.6 126.1,647.4 127.2,647.2 128.3,647 129.5,646.9 130.6,646.8 131.7,646.7 132.8,646.6 134,646.5 135.1,646.4 136.2,646.3 137.4,646.3 138.5,646.3 139.6,646.2 140.7,646.2 141.9,646.2 143,646.2 144.1,646.2 145.2,646.3 146.4,646.3 147.5,646.3 148.6,646.4 149.8,646.4 150.9,646.5 152,646.6 153.1,646.7 154.3,646.8 155.4,647 156.5,647.2 157.6,647.3 158.8,647.6 159.9,647.8 161,648.1 162.2,648.3 163.3,648.6 164.4,648.9 165.5,649.3 166.7,649.6 167.8,650 168.9,650.4 170,650.8 171.2,651.2 172.3,651.6 173.4,652 174.6,652.5 175.7,652.9 176.8,653.4 177.9,653.9 179.1,654.5 180.2,655.1 181.3,655.7 182.4,656.3 183.6,657 184.7,657.6 185.8,658.2 187,658.8 188.1,659.3 189.2,659.8 190.3,660.3 191.5,660.7 192.6,661" stroke="#2a6fe6" stroke-width="1.3" fill="none" stroke-linejoin="round"/>
<path d="M57.3,693.8 58.4,693.6 59.6,693.5 60.7,693.3 61.8,693 62.9,692.8 64.1,692.5 65.2,692.2 66.3,691.9 67.5,691.6 68.6,691.3 69.7,691 70.8,690.7 72,690.4 73.1,690.1 74.2,689.8 75.3,689.5 76.5,689.2 77.6,688.9 78.7,688.5 79.9,688.2 81,687.9 82.1,687.5 83.2,687.2 84.4,686.9 85.5,686.6 86.6,686.3 87.7,685.9 88.9,685.6 90,685.4 91.1,685.1 92.3,684.8 93.4,684.6 94.5,684.3 95.6,684.1 96.8,683.8 97.9,683.6 99,683.3 100.1,683.1 101.3,682.9 102.4,682.7 103.5,682.5 104.7,682.3 105.8,682.1 106.9,681.9 108,681.7 109.2,681.6 110.3,681.4 111.4,681.2 112.5,681 113.7,680.9 114.8,680.7 115.9,680.6 117.1,680.4 118.2,680.3 119.3,680.2 120.4,680.1 121.6,680 122.7,679.9 123.8,679.8 124.9,679.7 126.1,679.7 127.2,679.6 128.3,679.6 129.5,679.6 130.6,679.5 131.7,679.5 132.8,679.5 134,679.6 135.1,679.6 136.2,679.6 137.4,679.6 138.5,679.6 139.6,679.7 140.7,679.7 141.9,679.7 143,679.7 144.1,679.8 145.2,679.8 146.4,679.8 147.5,679.8 148.6,679.8 149.8,679.8 150.9,679.9 152,679.9 153.1,679.9 154.3,680 155.4,680.1 156.5,680.2 157.6,680.3 158.8,680.4 159.9,680.5 161,680.7 162.2,680.9 163.3,681.1 164.4,681.3 165.5,681.5 166.7,681.8 167.8,682 168.9,682.3 170,682.5 171.2,682.8 172.3,683 173.4,683.3 174.6,683.5 175.7,683.7 176.8,684 177.9,684.2 179.1,684.5 180.2,684.7 181.3,685 182.4,685.2 183.6,685.5 184.7,685.7 185.8,686 187,686.2 188.1,686.4 189.2,686.6 190.3,686.8 191.5,687 192.6,687.1" stroke="#2a9e50" stroke-width="1.3" fill="none" stroke-linejoin="round"/>
<path d="M57.3,707.5 58.4,707.6 59.6,707.6 60.7,707.6 61.8,707.7 62.9,707.7 64.1,707.8 65.2,707.9 66.3,707.9 67.5,708 68.6,708.1 69.7,708.1 70.8,708.2 72,708.2 73.1,708.3 74.2,708.3 75.3,708.4 76.5,708.4 77.6,708.4 78.7,708.5 79.9,708.5 81,708.6 82.1,708.6 83.2,708.6 84.4,708.6 85.5,708.7 86.6,708.7 87.7,708.7 88.9,708.7 90,708.8 91.1,708.8 92.3,708.8 93.4,708.8 94.5,708.9 95.6,708.9 96.8,708.9 97.9,708.9 99,708.9 100.1,709 101.3,709 102.4,709 103.5,709 104.7,709 105.8,709 106.9,709 108,709.1 109.2,709.1 110.3,709.1 111.4,709.1 112.5,709.1 113.7,709.2 114.8,709.2 115.9,709.2 117.1,709.2 118.2,709.2 119.3,709.3 120.4,709.3 121.6,709.3 122.7,709.3 123.8,709.3 124.9,709.3 126.1,709.3 127.2,709.4 128.3,709.4 129.5,709.4 130.6,709.4 131.7,709.4 132.8,709.4 134,709.4 135.1,709.4 136.2,709.4 137.4,709.4 138.5,709.4 139.6,709.5 140.7,709.5 141.9,709.5 143,709.5 144.1,709.5 145.2,709.5 146.4,709.5 147.5,709.5 148.6,709.5 149.8,709.5 150.9,709.5 152,709.5 153.1,709.5 154.3,709.5 155.4,709.5 156.5,709.5 157.6,709.5 158.8,709.5 159.9,709.5 161,709.5 162.2,709.5 163.3,709.6 164.4,709.6 165.5,709.6 166.7,709.6 167.8,709.6 168.9,709.6 170,709.6 171.2,709.6 172.3,709.6 173.4,709.6 174.6,709.6 175.7,709.6 176.8,709.6 177.9,709.6 179.1,709.6 180.2,709.6 181.3,709.6 182.4,709.7 183.6,709.7 184.7,709.7 185.8,709.7 187,709.7 188.1,709.7 189.2,709.7 190.3,709.7 191.5,709.7 192.6,709.7" stroke="#b068ea" stroke-width="1.3" fill="none" stroke-linejoin="round"/>
<line x1="194.5" y1="560.8" x2="210.2" y2="560.8" stroke="#2a2a2a" stroke-width="1.4"/>
<text x="0" y="0" font-family='"Liberation Serif", serif' font-size="8.3" font-weight="normal" text-anchor="start" fill="#111" transform="translate(211.2 563.6) scale(0.84 1)">20μg/mL</text>
<line x1="194.5" y1="570.3" x2="210.2" y2="570.3" stroke="#ee2a2a" stroke-width="1.4"/>
<text x="0" y="0" font-family='"Liberation Serif", serif' font-size="8.3" font-weight="normal" text-anchor="start" fill="#111" transform="translate(211.2 573.1) scale(0.84 1)">15μg/mL</text>
<line x1="194.5" y1="580.1" x2="210.2" y2="580.1" stroke="#2a6fe6" stroke-width="1.4"/>
<text x="0" y="0" font-family='"Liberation Serif", serif' font-size="8.3" font-weight="normal" text-anchor="start" fill="#111" transform="translate(211.2 582.9) scale(0.84 1)">10μg/mL</text>
<line x1="194.5" y1="589.6" x2="210.2" y2="589.6" stroke="#2a9e50" stroke-width="1.4"/>
<text x="0" y="0" font-family='"Liberation Serif", serif' font-size="8.3" font-weight="normal" text-anchor="start" fill="#111" transform="translate(211.2 592.4) scale(0.84 1)">5μg/mL</text>
<line x1="194.5" y1="599.4" x2="210.2" y2="599.4" stroke="#c08ee8" stroke-width="1.4"/>
<text x="0" y="0" font-family='"Liberation Serif", serif' font-size="8.3" font-weight="normal" text-anchor="start" fill="#111" transform="translate(211.2 602.2) scale(0.84 1)">Control</text>
<text x="239.7" y="545.8" font-family='"Liberation Serif", serif' font-size="15.5" font-weight="normal" text-anchor="start" fill="#000">k</text>
<line x1="273.6" y1="567.11" x2="273.6" y2="719.1" stroke="#4a4a4a" stroke-width="1.4"/>
<line x1="272.9" y1="718.4" x2="443.1" y2="718.4" stroke="#4a4a4a" stroke-width="1.4"/>
<line x1="270.6" y1="709.4" x2="273.6" y2="709.4" stroke="#222" stroke-width="0.8"/>
<text x="269.3" y="711.6" font-family='"Liberation Serif", serif' font-size="6.3" font-weight="normal" text-anchor="end" fill="#111">0. 05</text>
<line x1="270.6" y1="692.66" x2="273.6" y2="692.66" stroke="#222" stroke-width="0.8"/>
<text x="269.3" y="694.86" font-family='"Liberation Serif", serif' font-size="6.3" font-weight="normal" text-anchor="end" fill="#111">0. 10</text>
<line x1="270.6" y1="675.92" x2="273.6" y2="675.92" stroke="#222" stroke-width="0.8"/>
<text x="269.3" y="678.12" font-family='"Liberation Serif", serif' font-size="6.3" font-weight="normal" text-anchor="end" fill="#111">0. 15</text>
<line x1="270.6" y1="659.18" x2="273.6" y2="659.18" stroke="#222" stroke-width="0.8"/>
<text x="269.3" y="661.38" font-family='"Liberation Serif", serif' font-size="6.3" font-weight="normal" text-anchor="end" fill="#111">0. 20</text>
<line x1="270.6" y1="642.44" x2="273.6" y2="642.44" stroke="#222" stroke-width="0.8"/>
<text x="269.3" y="644.64" font-family='"Liberation Serif", serif' font-size="6.3" font-weight="normal" text-anchor="end" fill="#111">0. 25</text>
<line x1="270.6" y1="625.7" x2="273.6" y2="625.7" stroke="#222" stroke-width="0.8"/>
<text x="269.3" y="627.9" font-family='"Liberation Serif", serif' font-size="6.3" font-weight="normal" text-anchor="end" fill="#111">0. 30</text>
<line x1="270.6" y1="608.96" x2="273.6" y2="608.96" stroke="#222" stroke-width="0.8"/>
<text x="269.3" y="611.16" font-family='"Liberation Serif", serif' font-size="6.3" font-weight="normal" text-anchor="end" fill="#111">0. 35</text>
<line x1="270.6" y1="592.22" x2="273.6" y2="592.22" stroke="#222" stroke-width="0.8"/>
<text x="269.3" y="594.42" font-family='"Liberation Serif", serif' font-size="6.3" font-weight="normal" text-anchor="end" fill="#111">0. 40</text>
<line x1="270.6" y1="575.48" x2="273.6" y2="575.48" stroke="#222" stroke-width="0.8"/>
<text x="269.3" y="577.68" font-family='"Liberation Serif", serif' font-size="6.3" font-weight="normal" text-anchor="end" fill="#111">0. 45</text>
<line x1="273.6" y1="701.03" x2="275.2" y2="701.03" stroke="#222" stroke-width="0.7"/>
<line x1="273.6" y1="684.29" x2="275.2" y2="684.29" stroke="#222" stroke-width="0.7"/>
<line x1="273.6" y1="667.55" x2="275.2" y2="667.55" stroke="#222" stroke-width="0.7"/>
<line x1="273.6" y1="650.81" x2="275.2" y2="650.81" stroke="#222" stroke-width="0.7"/>
<line x1="273.6" y1="634.07" x2="275.2" y2="634.07" stroke="#222" stroke-width="0.7"/>
<line x1="273.6" y1="617.33" x2="275.2" y2="617.33" stroke="#222" stroke-width="0.7"/>
<line x1="273.6" y1="600.59" x2="275.2" y2="600.59" stroke="#222" stroke-width="0.7"/>
<line x1="273.6" y1="583.85" x2="275.2" y2="583.85" stroke="#222" stroke-width="0.7"/>
<line x1="273.6" y1="718.4" x2="273.6" y2="720.6" stroke="#222" stroke-width="0.8"/>
<text x="0" y="0" font-family='"Liberation Serif", serif' font-size="6.4" font-weight="normal" text-anchor="middle" fill="#111" transform="translate(273.6 728.9) scale(0.92 1)">360</text>
<line x1="307.5" y1="718.4" x2="307.5" y2="720.6" stroke="#222" stroke-width="0.8"/>
<text x="0" y="0" font-family='"Liberation Serif", serif' font-size="6.4" font-weight="normal" text-anchor="middle" fill="#111" transform="translate(307.5 728.9) scale(0.92 1)">380</text>
<line x1="341.4" y1="718.4" x2="341.4" y2="720.6" stroke="#222" stroke-width="0.8"/>
<text x="0" y="0" font-family='"Liberation Serif", serif' font-size="6.4" font-weight="normal" text-anchor="middle" fill="#111" transform="translate(341.4 728.9) scale(0.92 1)">400</text>
<line x1="375.3" y1="718.4" x2="375.3" y2="720.6" stroke="#222" stroke-width="0.8"/>
<text x="0" y="0" font-family='"Liberation Serif", serif' font-size="6.4" font-weight="normal" text-anchor="middle" fill="#111" transform="translate(375.3 728.9) scale(0.92 1)">420</text>
<line x1="409.2" y1="718.4" x2="409.2" y2="720.6" stroke="#222" stroke-width="0.8"/>
<text x="0" y="0" font-family='"Liberation Serif", serif' font-size="6.4" font-weight="normal" text-anchor="middle" fill="#111" transform="translate(409.2 728.9) scale(0.92 1)">440</text>
<line x1="443.1" y1="718.4" x2="443.1" y2="720.6" stroke="#222" stroke-width="0.8"/>
<text x="0" y="0" font-family='"Liberation Serif", serif' font-size="6.4" font-weight="normal" text-anchor="middle" fill="#111" transform="translate(443.1 728.9) scale(0.92 1)">460</text>
<line x1="290.55" y1="718.4" x2="290.55" y2="719.7" stroke="#222" stroke-width="0.7"/>
<line x1="324.45" y1="718.4" x2="324.45" y2="719.7" stroke="#222" stroke-width="0.7"/>
<line x1="358.35" y1="718.4" x2="358.35" y2="719.7" stroke="#222" stroke-width="0.7"/>
<line x1="392.25" y1="718.4" x2="392.25" y2="719.7" stroke="#222" stroke-width="0.7"/>
<line x1="426.15" y1="718.4" x2="426.15" y2="719.7" stroke="#222" stroke-width="0.7"/>
<text x="0" y="0" font-family='"Liberation Serif", serif' font-size="10.4" font-weight="bold" text-anchor="middle" fill="#111" transform="translate(254.3 643) rotate(-90) scale(0.9 1)">GSH</text>
<text x="0" y="0" font-family='"Liberation Serif", serif' font-size="9.7" font-weight="bold" text-anchor="middle" fill="#111" transform="translate(358.4 740.4) scale(0.86 1)">Wavelength(nm)</text>
<path d="M290.6,634.1 291.7,633.3 292.8,632.4 293.9,631.3 295.1,630.1 296.2,628.8 297.3,627.4 298.5,625.9 299.6,624.4 300.7,622.9 301.9,621.3 303,619.7 304.1,618.2 305.2,616.7 306.4,615.3 307.5,614 308.6,612.7 309.8,611.4 310.9,610.1 312,608.8 313.1,607.5 314.3,606.3 315.4,605 316.5,603.7 317.7,602.5 318.8,601.3 319.9,600.1 321.1,598.9 322.2,597.8 323.3,596.6 324.5,595.6 325.6,594.5 326.7,593.5 327.8,592.4 329,591.4 330.1,590.4 331.2,589.4 332.4,588.5 333.5,587.6 334.6,586.7 335.8,585.8 336.9,585 338,584.2 339.1,583.5 340.3,582.8 341.4,582.2 342.5,581.7 343.7,581.2 344.8,580.8 345.9,580.4 347,580 348.2,579.6 349.3,579.3 350.4,579 351.6,578.7 352.7,578.4 353.8,578.2 355,578 356.1,577.8 357.2,577.6 358.4,577.5 359.5,577.3 360.6,577.2 361.7,577.2 362.9,577.1 364,577 365.1,577.1 366.3,577.1 367.4,577.3 368.5,577.4 369.7,577.6 370.8,577.9 371.9,578.2 373,578.6 374.2,579 375.3,579.5 376.4,579.9 377.6,580.3 378.7,580.7 379.8,581.2 380.9,581.6 382.1,582.1 383.2,582.7 384.3,583.3 385.5,583.9 386.6,584.6 387.7,585.3 388.9,586.1 390,586.9 391.1,587.9 392.2,588.9 393.4,590 394.5,591.1 395.6,592.4 396.8,593.7 397.9,595.1 399,596.5 400.2,598 401.3,599.5 402.4,601.1 403.6,602.7 404.7,604.3 405.8,605.9 406.9,607.5 408.1,609.1 409.2,610.6 410.3,612.3 411.5,614 412.6,615.8 413.7,617.7 414.9,619.7 416,621.6 417.1,623.6 418.2,625.5 419.4,627.3 420.5,629.1 421.6,630.8 422.8,632.3 423.9,633.6 425,634.8 426.2,635.7" stroke="#2a2a2a" stroke-width="1.3" fill="none" stroke-linejoin="round"/>
<path d="M290.6,648.5 291.7,647.9 292.8,647.1 293.9,646.3 295.1,645.3 296.2,644.3 297.3,643.2 298.5,642 299.6,640.8 300.7,639.5 301.9,638.3 303,637.1 304.1,635.8 305.2,634.6 306.4,633.5 307.5,632.4 308.6,631.3 309.8,630.3 310.9,629.2 312,628.1 313.1,627 314.3,625.9 315.4,624.9 316.5,623.8 317.7,622.7 318.8,621.7 319.9,620.7 321.1,619.7 322.2,618.8 323.3,617.9 324.5,617 325.6,616.2 326.7,615.3 327.8,614.5 329,613.8 330.1,613 331.2,612.3 332.4,611.6 333.5,610.9 334.6,610.3 335.8,609.6 336.9,609 338,608.5 339.1,607.9 340.3,607.4 341.4,607 342.5,606.6 343.7,606.2 344.8,605.9 345.9,605.6 347,605.3 348.2,605 349.3,604.8 350.4,604.5 351.6,604.3 352.7,604.1 353.8,604 355,603.8 356.1,603.7 357.2,603.6 358.4,603.5 359.5,603.4 360.6,603.3 361.7,603.3 362.9,603.2 364,603.2 365.1,603.3 366.3,603.4 367.4,603.5 368.5,603.7 369.7,603.9 370.8,604.2 371.9,604.5 373,604.8 374.2,605.2 375.3,605.6 376.4,606 377.6,606.4 378.7,606.8 379.8,607.2 380.9,607.6 382.1,608.1 383.2,608.6 384.3,609.2 385.5,609.7 386.6,610.3 387.7,611 388.9,611.7 390,612.4 391.1,613.2 392.2,614 393.4,614.8 394.5,615.8 395.6,616.7 396.8,617.8 397.9,618.8 399,619.9 400.2,621 401.3,622.2 402.4,623.4 403.6,624.6 404.7,625.8 405.8,627 406.9,628.3 408.1,629.5 409.2,630.7 410.3,632 411.5,633.4 412.6,634.8 413.7,636.4 414.9,637.9 416,639.5 417.1,641 418.2,642.6 419.4,644.1 420.5,645.5 421.6,646.8 422.8,648 423.9,649.1 425,650 426.2,650.8" stroke="#ee2a2a" stroke-width="1.3" fill="none" stroke-linejoin="round"/>
<path d="M290.6,670.9 291.7,670.6 292.8,670.2 293.9,669.8 295.1,669.3 296.2,668.8 297.3,668.2 298.5,667.6 299.6,667 300.7,666.4 301.9,665.8 303,665.1 304.1,664.4 305.2,663.8 306.4,663.2 307.5,662.5 308.6,661.9 309.8,661.2 310.9,660.6 312,659.9 313.1,659.2 314.3,658.5 315.4,657.8 316.5,657.1 317.7,656.4 318.8,655.7 319.9,655 321.1,654.3 322.2,653.7 323.3,653.1 324.5,652.5 325.6,651.9 326.7,651.4 327.8,650.8 329,650.3 330.1,649.8 331.2,649.2 332.4,648.8 333.5,648.3 334.6,647.8 335.8,647.4 336.9,646.9 338,646.5 339.1,646.1 340.3,645.8 341.4,645.5 342.5,645.2 343.7,644.9 344.8,644.7 345.9,644.5 347,644.3 348.2,644.1 349.3,643.9 350.4,643.7 351.6,643.6 352.7,643.4 353.8,643.3 355,643.2 356.1,643.1 357.2,643 358.4,642.9 359.5,642.9 360.6,642.8 361.7,642.8 362.9,642.7 364,642.8 365.1,642.8 366.3,642.9 367.4,643 368.5,643.1 369.7,643.2 370.8,643.4 371.9,643.6 373,643.9 374.2,644.2 375.3,644.4 376.4,644.7 377.6,645 378.7,645.2 379.8,645.5 380.9,645.9 382.1,646.2 383.2,646.5 384.3,646.9 385.5,647.3 386.6,647.7 387.7,648.2 388.9,648.6 390,649.1 391.1,649.6 392.2,650.1 393.4,650.7 394.5,651.3 395.6,651.9 396.8,652.6 397.9,653.2 399,653.9 400.2,654.7 401.3,655.4 402.4,656.1 403.6,656.9 404.7,657.7 405.8,658.5 406.9,659.3 408.1,660.1 409.2,660.9 410.3,661.7 411.5,662.6 412.6,663.6 413.7,664.6 414.9,665.6 416,666.7 417.1,667.7 418.2,668.7 419.4,669.7 420.5,670.7 421.6,671.6 422.8,672.4 423.9,673.1 425,673.7 426.2,674.2" stroke="#2a6fe6" stroke-width="1.3" fill="none" stroke-linejoin="round"/>
<path d="M290.6,693.7 291.7,693.6 292.8,693.5 293.9,693.4 295.1,693.3 296.2,693.2 297.3,693 298.5,692.9 299.6,692.8 300.7,692.6 301.9,692.4 303,692.3 304.1,692.1 305.2,692 306.4,691.8 307.5,691.7 308.6,691.5 309.8,691.3 310.9,691.2 312,691 313.1,690.8 314.3,690.6 315.4,690.4 316.5,690.2 317.7,690.1 318.8,689.9 319.9,689.7 321.1,689.5 322.2,689.3 323.3,689.1 324.5,689 325.6,688.8 326.7,688.6 327.8,688.5 329,688.3 330.1,688.1 331.2,687.9 332.4,687.8 333.5,687.6 334.6,687.4 335.8,687.3 336.9,687.1 338,687 339.1,686.9 340.3,686.7 341.4,686.6 342.5,686.5 343.7,686.4 344.8,686.3 345.9,686.2 347,686.2 348.2,686.1 349.3,686 350.4,686 351.6,686 352.7,686 353.8,686 355,686 356.1,686 357.2,686 358.4,686 359.5,686 360.6,686.1 361.7,686.1 362.9,686.1 364,686.2 365.1,686.2 366.3,686.3 367.4,686.4 368.5,686.4 369.7,686.5 370.8,686.6 371.9,686.7 373,686.8 374.2,686.9 375.3,687 376.4,687.1 377.6,687.3 378.7,687.4 379.8,687.6 380.9,687.8 382.1,688 383.2,688.2 384.3,688.4 385.5,688.6 386.6,688.8 387.7,689 388.9,689.3 390,689.5 391.1,689.7 392.2,690 393.4,690.2 394.5,690.5 395.6,690.8 396.8,691 397.9,691.3 399,691.6 400.2,691.9 401.3,692.2 402.4,692.5 403.6,692.8 404.7,693.1 405.8,693.4 406.9,693.7 408.1,694 409.2,694.3 410.3,694.7 411.5,695 412.6,695.4 413.7,695.8 414.9,696.1 416,696.5 417.1,696.9 418.2,697.3 419.4,697.7 420.5,698 421.6,698.4 422.8,698.7 423.9,698.9 425,699.2 426.2,699.4" stroke="#2a9e50" stroke-width="1.3" fill="none" stroke-linejoin="round"/>
<path d="M290.6,706.7 291.7,706.8 292.8,706.9 293.9,707 295.1,707.2 296.2,707.3 297.3,707.5 298.5,707.6 299.6,707.8 300.7,708 301.9,708.1 303,708.3 304.1,708.5 305.2,708.7 306.4,708.9 307.5,709.1 308.6,709.2 309.8,709.2 310.9,709.3 312,709.4 313.1,709.5 314.3,709.6 315.4,709.7 316.5,709.8 317.7,709.9 318.8,710 319.9,710.1 321.1,710.2 322.2,710.3 323.3,710.3 324.5,710.4 325.6,710.5 326.7,710.5 327.8,710.6 329,710.6 330.1,710.7 331.2,710.7 332.4,710.8 333.5,710.8 334.6,710.9 335.8,710.9 336.9,710.9 338,711 339.1,711 340.3,711 341.4,711.1 342.5,711.1 343.7,711.1 344.8,711.2 345.9,711.2 347,711.2 348.2,711.2 349.3,711.2 350.4,711.3 351.6,711.3 352.7,711.3 353.8,711.3 355,711.3 356.1,711.3 357.2,711.4 358.4,711.4 359.5,711.4 360.6,711.4 361.7,711.4 362.9,711.4 364,711.4 365.1,711.5 366.3,711.5 367.4,711.5 368.5,711.5 369.7,711.5 370.8,711.5 371.9,711.5 373,711.5 374.2,711.6 375.3,711.6 376.4,711.6 377.6,711.6 378.7,711.6 379.8,711.6 380.9,711.6 382.1,711.7 383.2,711.7 384.3,711.7 385.5,711.7 386.6,711.7 387.7,711.8 388.9,711.8 390,711.8 391.1,711.8 392.2,711.8 393.4,711.9 394.5,711.9 395.6,711.9 396.8,711.9 397.9,711.9 399,712 400.2,712 401.3,712 402.4,712 403.6,712 404.7,712 405.8,712 406.9,712.1 408.1,712.1 409.2,712.1 410.3,712.1 411.5,712.1 412.6,712.1 413.7,712.1 414.9,712.1 416,712.1 417.1,712.1 418.2,712.1 419.4,712.1 420.5,712.1 421.6,712.1 422.8,712.1 423.9,712.1 425,712.1 426.2,712.1" stroke="#b068ea" stroke-width="1.3" fill="none" stroke-linejoin="round"/>
<line x1="414.2" y1="555.6" x2="430.7" y2="555.6" stroke="#2a2a2a" stroke-width="1.4"/>
<text x="0" y="0" font-family='"Liberation Serif", serif' font-size="8.3" font-weight="normal" text-anchor="start" fill="#111" transform="translate(431.7 558.4) scale(0.84 1)">20μg/mL</text>
<line x1="414.2" y1="565" x2="430.7" y2="565" stroke="#ee2a2a" stroke-width="1.4"/>
<text x="0" y="0" font-family='"Liberation Serif", serif' font-size="8.3" font-weight="normal" text-anchor="start" fill="#111" transform="translate(431.7 567.8) scale(0.84 1)">15μg/mL</text>
<line x1="414.2" y1="574.8" x2="430.7" y2="574.8" stroke="#2a6fe6" stroke-width="1.4"/>
<text x="0" y="0" font-family='"Liberation Serif", serif' font-size="8.3" font-weight="normal" text-anchor="start" fill="#111" transform="translate(431.7 577.6) scale(0.84 1)">10μg/mL</text>
<line x1="414.2" y1="584.6" x2="430.7" y2="584.6" stroke="#2a9e50" stroke-width="1.4"/>
<text x="0" y="0" font-family='"Liberation Serif", serif' font-size="8.3" font-weight="normal" text-anchor="start" fill="#111" transform="translate(431.7 587.4) scale(0.84 1)">5μg/mL</text>
<line x1="414.2" y1="594.1" x2="430.7" y2="594.1" stroke="#c08ee8" stroke-width="1.4"/>
<text x="0" y="0" font-family='"Liberation Serif", serif' font-size="8.3" font-weight="normal" text-anchor="start" fill="#111" transform="translate(431.7 596.9) scale(0.84 1)">Control</text>
<text x="472" y="547.8" font-family='"Liberation Serif", serif' font-size="16" font-weight="normal" text-anchor="start" fill="#000">l</text>
<rect x="498.4" y="575" width="175.1" height="141.5" fill="none" stroke="#333" stroke-width="0.9"/>
<line x1="498.4" y1="716.5" x2="501" y2="716.5" stroke="#333" stroke-width="0.8"/>
<text x="495.6" y="718.9" font-family='"Liberation Sans", sans-serif' font-size="6.7" font-weight="normal" text-anchor="end" fill="#222">0</text>
<line x1="498.4" y1="703.08" x2="499.9" y2="703.08" stroke="#333" stroke-width="0.8"/>
<line x1="498.4" y1="689.65" x2="501" y2="689.65" stroke="#333" stroke-width="0.8"/>
<text x="495.6" y="692.05" font-family='"Liberation Sans", sans-serif' font-size="6.7" font-weight="normal" text-anchor="end" fill="#222">20</text>
<line x1="498.4" y1="676.23" x2="499.9" y2="676.23" stroke="#333" stroke-width="0.8"/>
<line x1="498.4" y1="662.8" x2="501" y2="662.8" stroke="#333" stroke-width="0.8"/>
<text x="495.6" y="665.2" font-family='"Liberation Sans", sans-serif' font-size="6.7" font-weight="normal" text-anchor="end" fill="#222">40</text>
<line x1="498.4" y1="649.38" x2="499.9" y2="649.38" stroke="#333" stroke-width="0.8"/>
<line x1="498.4" y1="635.95" x2="501" y2="635.95" stroke="#333" stroke-width="0.8"/>
<text x="495.6" y="638.35" font-family='"Liberation Sans", sans-serif' font-size="6.7" font-weight="normal" text-anchor="end" fill="#222">60</text>
<line x1="498.4" y1="622.52" x2="499.9" y2="622.52" stroke="#333" stroke-width="0.8"/>
<line x1="498.4" y1="609.1" x2="501" y2="609.1" stroke="#333" stroke-width="0.8"/>
<text x="495.6" y="611.5" font-family='"Liberation Sans", sans-serif' font-size="6.7" font-weight="normal" text-anchor="end" fill="#222">80</text>
<line x1="498.4" y1="595.67" x2="499.9" y2="595.67" stroke="#333" stroke-width="0.8"/>
<line x1="498.4" y1="582.25" x2="501" y2="582.25" stroke="#333" stroke-width="0.8"/>
<text x="495.6" y="584.65" font-family='"Liberation Sans", sans-serif' font-size="6.7" font-weight="normal" text-anchor="end" fill="#222">100</text>
<line x1="498.4" y1="716.5" x2="498.4" y2="713.9" stroke="#333" stroke-width="0.8"/>
<text x="498.4" y="725.5" font-family='"Liberation Sans", sans-serif' font-size="6.7" font-weight="normal" text-anchor="middle" fill="#222">0</text>
<line x1="514.6" y1="716.5" x2="514.6" y2="715" stroke="#333" stroke-width="0.8"/>
<line x1="530.8" y1="716.5" x2="530.8" y2="713.9" stroke="#333" stroke-width="0.8"/>
<text x="530.8" y="725.5" font-family='"Liberation Sans", sans-serif' font-size="6.7" font-weight="normal" text-anchor="middle" fill="#222">5</text>
<line x1="547" y1="716.5" x2="547" y2="715" stroke="#333" stroke-width="0.8"/>
<line x1="563.2" y1="716.5" x2="563.2" y2="713.9" stroke="#333" stroke-width="0.8"/>
<text x="563.2" y="725.5" font-family='"Liberation Sans", sans-serif' font-size="6.7" font-weight="normal" text-anchor="middle" fill="#222">10</text>
<line x1="579.4" y1="716.5" x2="579.4" y2="715" stroke="#333" stroke-width="0.8"/>
<line x1="595.6" y1="716.5" x2="595.6" y2="713.9" stroke="#333" stroke-width="0.8"/>
<text x="595.6" y="725.5" font-family='"Liberation Sans", sans-serif' font-size="6.7" font-weight="normal" text-anchor="middle" fill="#222">15</text>
<line x1="611.8" y1="716.5" x2="611.8" y2="715" stroke="#333" stroke-width="0.8"/>
<line x1="628" y1="716.5" x2="628" y2="713.9" stroke="#333" stroke-width="0.8"/>
<text x="628" y="725.5" font-family='"Liberation Sans", sans-serif' font-size="6.7" font-weight="normal" text-anchor="middle" fill="#222">20</text>
<line x1="644.2" y1="716.5" x2="644.2" y2="715" stroke="#333" stroke-width="0.8"/>
<line x1="660.4" y1="716.5" x2="660.4" y2="713.9" stroke="#333" stroke-width="0.8"/>
<text x="660.4" y="725.5" font-family='"Liberation Sans", sans-serif' font-size="6.7" font-weight="normal" text-anchor="middle" fill="#222">25</text>
<text x="586.2" y="737.2" font-family='"Liberation Sans", sans-serif' font-size="7.35" font-weight="normal" text-anchor="middle" fill="#222">HA-CUR concentration (μg/mL)</text>
<text x="471.4" y="645.8" font-family='"Liberation Sans", sans-serif' font-size="7.35" font-weight="normal" text-anchor="middle" fill="#222" transform="rotate(-90 471.4 645.8)">CAT mimetic enzyme activity</text>
<text x="480.2" y="645.8" font-family='"Liberation Sans", sans-serif' font-size="7.35" text-anchor="middle" fill="#222" transform="rotate(-90 480.2 645.8)">(% H<tspan font-size="5" dy="1.6">2</tspan><tspan dy="-1.6">O</tspan><tspan font-size="5" dy="1.6">2</tspan><tspan dy="-1.6"> clearance)</tspan></text>
<path d="M498.4,716.5 530.8,689 563.2,655.4 595.6,617.2 628,595.7 660.4,582.2" stroke="#28aee6" stroke-width="1.1" fill="none" stroke-linejoin="round"/>
<circle cx="498.4" cy="716.5" r="2.0" fill="#1fa8e4"/>
<circle cx="530.8" cy="688.98" r="2.0" fill="#1fa8e4"/>
<circle cx="563.2" cy="655.42" r="2.0" fill="#1fa8e4"/>
<circle cx="595.6" cy="617.15" r="2.0" fill="#1fa8e4"/>
<circle cx="628" cy="595.67" r="2.0" fill="#1fa8e4"/>
<circle cx="660.4" cy="582.25" r="2.0" fill="#1fa8e4"/>
</svg></body></html>
